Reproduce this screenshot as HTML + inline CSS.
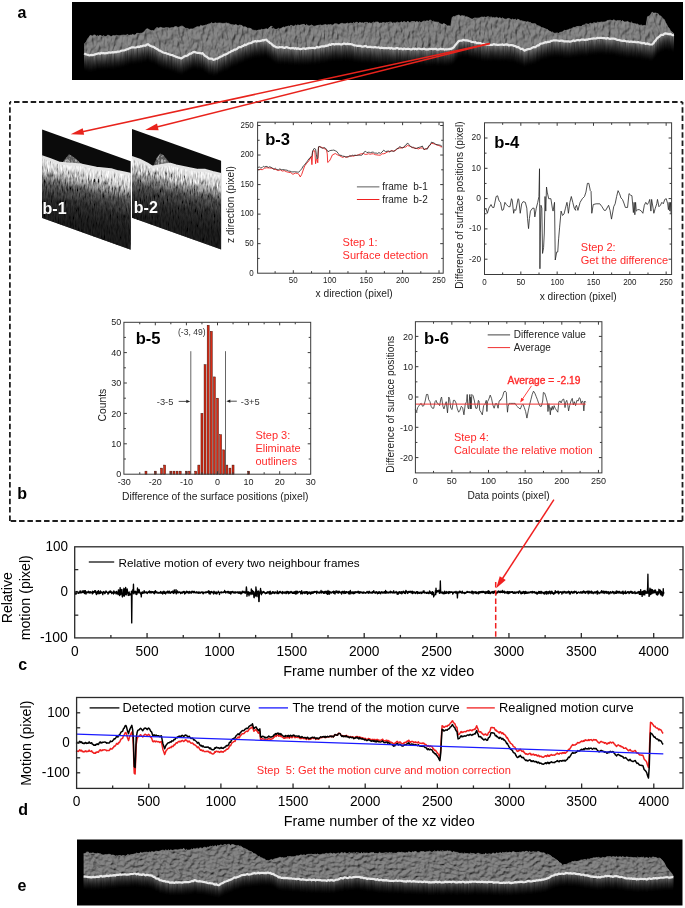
<!DOCTYPE html><html><head><meta charset="utf-8"><style>html,body{margin:0;padding:0;background:#fff;overflow:hidden}svg{display:block;will-change:transform}</style></head><body><svg width="685" height="908" viewBox="0 0 685 908" font-family="'Liberation Sans', sans-serif">
<defs>
<filter id="tex" x="0" y="0" width="100%" height="100%"><feTurbulence type="fractalNoise" baseFrequency="0.22 0.3" numOctaves="3" seed="3"/><feColorMatrix type="matrix" values="0 0 0 0 1  0 0 0 0 1  0 0 0 0 1  1.4 0 0 0 -0.35"/></filter>
<filter id="speck" x="0" y="0" width="100%" height="100%"><feTurbulence type="fractalNoise" baseFrequency="0.6 0.3" numOctaves="2" seed="5"/><feColorMatrix type="matrix" values="0 0 0 0 1  0 0 0 0 1  0 0 0 0 1  3.2 0 0 0 -1.35"/><feComposite operator="in" in2="SourceGraphic"/></filter>
<filter id="bl" x="-5%" y="-50%" width="110%" height="200%"><feGaussianBlur stdDeviation="0.6"/></filter>
<filter id="relief" x="0" y="0" width="100%" height="100%"><feTurbulence type="fractalNoise" baseFrequency="0.3 0.12" numOctaves="3" seed="3" result="n"/><feDiffuseLighting in="n" surfaceScale="3" diffuseConstant="0.9" lighting-color="#929292"><feDistantLight azimuth="235" elevation="55"/></feDiffuseLighting><feComposite operator="in" in2="SourceGraphic"/></filter>
<filter id="gnoise" x="0" y="0" width="100%" height="100%"><feTurbulence type="fractalNoise" baseFrequency="0.7 0.14" numOctaves="2" seed="8"/><feColorMatrix type="matrix" values="1.8 0 0 0 -0.4  1.8 0 0 0 -0.4  1.8 0 0 0 -0.4  0 0 0 0 1"/><feComposite operator="in" in2="SourceGraphic"/></filter>
<filter id="relief2" x="0" y="0" width="100%" height="100%"><feTurbulence type="fractalNoise" baseFrequency="0.22 0.3" numOctaves="3" seed="4" result="n"/><feDiffuseLighting in="n" surfaceScale="3" diffuseConstant="0.9" lighting-color="#8e8e8e"><feDistantLight azimuth="235" elevation="55"/></feDiffuseLighting><feComposite operator="in" in2="SourceGraphic"/></filter>
<filter id="streak" x="0" y="0" width="100%" height="100%"><feTurbulence type="fractalNoise" baseFrequency="0.7 0.06" numOctaves="2" seed="9"/><feColorMatrix type="matrix" values="0 0 0 0 0  0 0 0 0 0  0 0 0 0 0  2.5 0 0 0 -0.9"/><feComposite operator="in" in2="SourceGraphic"/></filter>
<linearGradient id="fade" x1="0" y1="0" x2="0" y2="1"><stop offset="0" stop-color="#6a6a6a"/><stop offset="0.5" stop-color="#2a2a2a"/><stop offset="1" stop-color="#000"/></linearGradient>
<linearGradient id="octg" x1="0" y1="0" x2="0" y2="1"><stop offset="0" stop-color="#a8a8a8"/><stop offset="0.2" stop-color="#7a7a7a"/><stop offset="0.45" stop-color="#3c3c3c"/><stop offset="0.75" stop-color="#222"/><stop offset="1" stop-color="#141414"/></linearGradient>
</defs>
<rect width="685" height="908" fill="#fff"/>
<rect x="72" y="2" width="611" height="78" fill="#000"/>
<clipPath id="cba"><polygon points="84.15,44 85.36,43.18 86.58,41.24 87.79,38.71 89.01,37.22 90.22,35.33 91.44,35.68 92.65,35.93 93.86,35.02 95.08,34.99 96.29,36.18 97.51,35.67 98.72,36.2 99.94,35.19 101.15,35.87 102.37,36.32 103.63,35.63 104.9,36.63 106.16,36.57 107.43,35.35 108.69,35.35 109.96,36.07 111.22,36.63 112.49,35.85 113.76,35.61 115.02,35.9 116.29,35.35 117.55,35.62 118.82,35.82 120.08,35.8 121.35,35.33 122.61,35.23 123.88,35.11 125.14,35.35 126.41,35.01 127.67,34.53 128.94,35.57 130.2,35.08 131.47,35.1 132.73,34.36 134.06,35.18 135.39,34.69 136.72,33.36 138.05,33.35 139.38,33.59 140.71,33.27 142.03,33.28 143.36,32.26 144.88,31.01 146.4,28.96 147.67,28.8 148.93,29.55 150.2,30.32 151.46,30.63 152.73,30.5 153.99,30.97 155.51,28.68 157.03,27.45 158.29,28.23 159.56,27.69 160.82,27.35 162.09,27.88 163.36,28.1 164.62,28.06 165.89,27.64 167.15,27.73 168.42,27.82 169.68,28.2 170.95,27.84 172.21,27.66 173.51,27.58 174.82,26.72 176.12,26.52 177.42,27.23 178.72,27.4 180.02,26.64 181.32,26.14 182.62,26.27 183.93,27.16 185.23,28.27 186.53,28.41 187.83,28.52 189.13,29.4 190.43,28.96 191.73,28.92 193.04,29.1 194.34,28.14 195.64,27.54 196.94,26.84 198.24,26.79 199.54,26.93 200.76,25.3 201.97,26.08 203.19,25.83 204.4,25.62 205.62,25.11 206.83,24.9 208.05,24.19 209.26,23.95 210.48,23.46 211.69,22.64 212.9,23.78 214.12,23.36 215.33,22.84 216.55,23.26 217.76,23.24 218.98,23.06 220.19,23.04 221.41,23.31 222.62,23.43 223.84,23.41 225.05,23.35 226.27,22.9 227.48,23.33 228.7,23.41 229.91,24.13 231.13,24.67 232.34,24.74 233.55,24.89 234.77,25.07 235.98,24.43 237.2,25.56 238.41,25.63 239.63,25.1 240.84,25.31 242.06,25.61 243.36,27.09 244.66,26.81 245.96,27.05 247.26,28.2 248.57,28.25 249.87,28.29 251.17,28.85 252.69,30.13 254.2,30.38 255.42,30.38 256.63,30.84 257.85,30.33 259.06,29.99 260.28,30.05 261.49,29.27 262.71,29.63 263.92,29.52 265.14,29.05 266.35,28.78 267.57,29.28 268.78,28.13 270,27.1 271.21,27.05 272.43,26.74 271.21,26.38 270,27.14 271.21,27.62 272.43,28.73 273.64,28.25 274.86,29.31 276.07,29.58 277.29,29.09 278.5,28.33 279.72,29.09 280.93,28.53 282.15,27.84 283.36,27.12 284.58,27.41 285.79,26.75 287.01,26.7 288.22,26.04 289.44,26.33 290.65,25.37 291.86,25.56 293.08,26.34 294.29,26.06 295.51,25.11 296.72,25.73 297.94,24.81 299.15,25.54 300.37,25.12 301.63,24.73 302.9,24.58 304.16,24.32 305.43,25.61 306.69,24.51 307.96,25.68 309.22,25.95 310.49,25.48 311.76,25 313.02,26.05 314.29,26.27 315.55,25.97 316.82,25.62 318.08,25.36 319.35,25.24 320.61,24.97 321.88,25.55 323.14,25.14 324.41,24.73 325.67,24.53 326.94,25.24 328.2,24.64 329.47,24.85 330.73,24.53 332,25.17 333.27,25.08 334.53,23.72 335.8,23.85 337.06,23.9 338.33,24.7 339.59,24.29 340.86,23.54 342.12,23.24 343.39,23.75 344.65,23.86 345.92,23.86 347.18,22.99 348.45,23.69 349.71,23.37 350.98,23.03 352.25,23.68 353.51,22.58 354.78,23.22 356.04,22.27 357.31,22.34 358.57,23.33 359.84,22.3 361.1,23.01 362.32,22.79 363.53,23.13 364.75,22.47 365.96,22.43 367.18,22.36 368.39,23.16 369.61,22.8 370.82,23.29 372.03,23.19 373.25,22.14 374.46,22.72 375.68,22.1 376.89,22 378.11,22.05 379.32,23.16 380.54,23.05 381.75,23.11 382.97,22.43 384.18,22.81 385.4,23.04 386.61,22.48 387.83,22.75 389.04,22.26 390.26,22.06 391.47,22.32 392.68,23.16 393.9,22.67 395.11,23.14 396.33,22.44 397.54,22.16 398.76,22.83 399.97,22.85 401.19,21.68 402.4,22.56 403.62,21.71 404.83,21.71 406.05,22.75 407.26,21.53 408.48,21.78 409.69,22.79 410.9,21.96 412.12,21.49 413.33,21.53 414.55,21.6 415.76,22.26 416.98,21.33 418.19,22.42 419.41,21.64 420.62,22.43 421.84,22.31 423.14,21.32 424.44,21.13 425.74,21.32 427.04,20.66 428.34,21.3 429.65,20.31 430.95,20.14 432.21,21.83 433.48,21.2 434.74,21.95 436.01,22.07 437.27,22.21 438.54,22.19 439.8,23.71 441.07,24.12 442.34,24.45 443.6,23.57 444.87,24.05 446.13,24.94 447.65,25.95 449.17,25.85 450.69,26.56 452.2,17.41 453.42,16.54 454.63,16.63 455.85,16 457.06,15.61 458.28,15.08 459.49,15.36 460.71,16.34 461.92,15.59 463.14,15.88 464.35,15.87 465.57,16.89 466.78,16.73 468,17.22 469.21,17.85 470.43,18.45 471.69,19.07 472.96,19.03 474.22,18.08 475.49,18.01 476.76,18.19 478.02,18.13 479.29,18.04 480.56,17.43 481.88,17.04 483.21,17.28 484.54,16.96 485.87,17.56 487.2,16.81 488.53,16.74 489.86,17.45 491.18,16.89 492.45,17.72 493.71,17.43 494.98,18.07 496.24,17.21 497.51,17.82 498.78,18.36 500.04,17.48 501.31,18.82 502.57,17.87 503.84,18.84 505.1,19.25 506.37,19.15 507.63,18.58 508.9,18.4 510.16,19.1 511.43,19.8 512.69,19.05 513.96,20.01 515.22,19.09 516.49,20.29 517.76,19.19 519.02,19.71 520.29,20.66 521.55,20.65 522.82,21.17 524.08,21.46 525.35,21.7 526.61,22 527.88,21.67 529.14,22.4 530.41,22.4 531.67,23.56 532.94,23.87 534.2,23.67 535.47,23.79 536.73,25.42 537.95,25.81 539.16,26.06 540.38,26.66 541.59,27.7 542.81,27.75 544.02,28.27 545.24,28.8 546.45,29.3 547.67,29.58 548.88,31.05 550.1,31.34 551.31,32.16 552.53,32.06 553.74,33.08 554.96,33.38 556.17,33.06 557.38,32.94 558.6,33.44 559.81,32.53 561.03,32.23 562.24,32.07 563.46,31.08 564.67,30.31 565.89,30.59 567.1,30.09 568.32,29.84 569.53,29.09 570.75,28.98 571.96,28.59 573.18,27.45 574.39,27.5 575.61,27.18 576.82,26.52 578.03,26.47 579.25,26.38 580.46,26.56 581.68,26.27 582.89,25.07 584.11,25.28 585.32,24.14 586.54,23.87 587.75,24.18 588.97,24.39 590.18,23.08 591.4,23.63 592.65,23.61 593.9,22.64 595.15,22.99 596.4,23.03 597.65,22.18 598.9,22.47 600.15,22.34 601.4,21.96 602.65,22.15 603.9,22.03 605.15,21.94 606.4,21.21 607.65,20.48 608.9,20.41 610.15,20.18 611.4,20.5 612.65,20.58 613.92,19.72 615.18,20.73 616.45,20.9 617.71,20.51 618.98,20.87 620.25,20.51 621.51,21.43 622.78,20.59 624.04,22.03 625.31,21.92 626.57,21.79 627.84,21.41 629.05,22.62 630.27,22.99 631.48,22.14 632.7,23.34 633.91,23.74 635.13,23.78 636.34,24.15 637.55,24.09 638.77,25.07 639.98,25.44 641.2,24.91 642.41,25.81 643.63,25.59 644.84,25.52 646.06,26.05 647.58,16.66 649.09,16.24 650.61,14.79 652.13,12.1 653.35,13.07 654.56,13.11 655.78,13 656.99,13.56 658.2,13.79 659.42,15.71 660.63,15.88 661.85,17.36 663.06,18.92 664.28,19.55 665.49,22.52 666.71,24.62 667.92,27.07 669.14,28.31 670.35,30.55 671.57,31.92 672.78,32.56 674,34.01 674,34.99 672.78,35.23 671.57,34.62 670.35,33.78 669.14,34.34 667.92,33.87 666.71,33.64 665.49,33.41 664.28,33.62 663.06,34.96 661.85,34.73 660.63,35.3 659.42,36.53 658.2,37.39 656.99,38.43 655.78,40.17 654.56,41.46 653.35,43.27 652.13,44.45 650.83,44.49 649.53,44.32 648.23,43.88 646.93,43.4 645.62,43.93 644.32,43 643.02,43.09 641.76,43.23 640.49,42.5 639.23,42.29 637.96,42.01 636.69,42.28 635.43,42.09 634.16,41.73 632.9,41.94 631.63,41.69 630.37,41.71 629.1,41.85 627.84,41.35 626.57,41.52 625.31,40.94 624.04,40.6 622.78,40.81 621.51,40.64 620.25,40.36 618.98,39.88 617.71,39.85 616.45,39.64 615.18,38.85 613.92,38.56 612.65,38.51 611.39,38.63 610.12,38.83 608.86,38.43 607.59,37.9 606.33,38.66 605.06,38.19 603.8,38.17 602.53,38.04 601.27,37.79 600,37.74 598.74,38.01 597.47,37.74 596.2,38.46 594.94,38.51 593.67,38.41 592.41,38.57 591.14,38.77 589.88,38.97 588.61,39.12 587.35,39.72 586.08,39.67 584.82,39.99 583.55,39.58 582.29,39.58 581.02,39.59 579.76,40.4 578.49,40.14 577.22,40.16 575.96,40.55 574.69,41.07 573.43,40.39 572.16,41.06 570.9,41.39 569.63,41.61 568.37,41.25 567.1,41.46 565.89,41.34 564.67,41.44 563.46,41.27 562.24,40.57 561.03,40.48 559.81,41.06 558.6,40.73 557.38,40.49 556.17,40.41 554.96,40.4 553.74,40.31 552.53,40.74 551.31,40.8 550.1,41.57 548.88,41.84 547.67,41.88 546.45,42.48 545.24,42.17 544.02,42.9 542.81,43.34 541.51,43.51 540.21,43.82 538.9,45.31 537.6,45.27 536.3,46.39 535,47.25 533.7,47.12 532.4,47.56 531.1,48.45 529.79,48.98 528.49,49.05 527.19,49.33 525.89,49.92 524.59,50.63 523.29,49.54 521.98,48.84 520.68,48.86 519.38,47.9 518.08,47.02 516.78,47.09 515.48,46.1 514.18,46 512.87,45.25 511.57,45.05 510.27,45.2 508.97,45.43 507.67,44.7 506.37,44.42 505.1,44.66 503.84,44.96 502.57,44.38 501.31,44.76 500.04,44.72 498.78,44.8 497.51,45.01 496.24,44.59 494.98,44.54 493.71,44.15 492.45,44.82 491.18,44.94 489.86,44.83 488.53,44.6 487.2,44.64 485.87,44.49 484.54,44.36 483.21,43.81 481.88,44.2 480.56,43.17 479.29,43.17 478.02,42.9 476.76,43.22 475.49,42.19 474.22,42.3 472.96,42.01 471.69,41.99 470.43,41.3 469.21,41.03 468,40.67 466.78,40.38 465.57,40.41 464.35,40.27 463.14,39.81 461.92,40.64 460.71,40.72 459.49,40.77 458.28,41.5 456.76,43.37 455.24,45.18 453.72,47.34 452.2,48.39 450.69,48.96 449.17,49.11 447.95,49.27 446.74,49.4 445.52,49.29 444.31,49.56 443.09,49.02 441.88,49.22 440.67,48.67 439.45,49.15 438.24,49.53 437.02,49.35 435.76,48.91 434.49,48.9 433.23,49.13 431.96,48.81 430.69,48.99 429.43,48.87 428.16,49.43 426.9,49.38 425.63,49.36 424.37,48.7 423.1,48.88 421.84,49.3 420.57,48.95 419.31,48.6 418.04,48.66 416.78,49.37 415.51,48.66 414.25,49.09 412.98,48.59 411.71,49.45 410.45,49.28 409.18,48.96 407.92,48.7 406.65,49.01 405.39,49.03 404.12,48.46 402.86,49.33 401.59,48.64 400.33,48.66 399.06,48.93 397.8,48.13 396.53,48.02 395.27,48.74 394,48.66 392.74,48.65 391.47,47.81 390.2,48.58 388.94,47.81 387.67,48.26 386.41,48.18 385.14,48.15 383.88,48.07 382.61,47.97 381.35,47.68 380.08,48.08 378.82,47.35 377.55,47.51 376.29,47.4 375.02,46.99 373.76,47.32 372.49,47.23 371.22,47.15 369.96,46.77 368.69,46.88 367.43,47.1 366.16,46.1 364.9,46.16 363.63,46.43 362.37,46.63 361.1,46.16 359.84,45.75 358.57,45.84 357.31,45.85 356.04,45.51 354.78,45.39 353.51,45.11 352.25,44.32 350.98,44.21 349.71,44.06 348.45,44.03 347.18,43.63 345.92,44.25 344.65,43.52 343.39,43.54 342.12,44.46 340.86,44.45 339.59,44.12 338.33,43.84 337.06,44.14 335.8,43.87 334.53,44.53 333.27,44.06 332,43.98 330.73,44.93 329.52,44.47 328.31,45.38 327.09,45.81 325.88,45.63 324.66,46.45 323.36,46.33 322.06,46.35 320.76,46.5 319.46,47.26 318.15,47.41 316.85,46.88 315.55,48.05 314.29,48.09 313.02,47.9 311.76,47.76 310.49,48.27 309.22,47.9 307.96,48.39 306.69,48.4 305.43,48.88 304.16,48.42 302.9,48.49 301.63,48.82 300.37,49.06 299.15,48.82 297.94,48.36 296.72,48.81 295.51,48.08 294.29,48.65 293.08,48 291.86,48.12 290.65,48.32 289.44,48.02 288.22,47.76 287.01,47.09 285.79,47.27 284.58,47.94 283.36,47.65 282.15,47.11 280.93,47.24 279.72,47.15 278.5,47.54 277.29,47.45 276.07,47.16 274.86,46.41 273.64,45.87 272.43,44.92 271.21,43.5 270,43.06 268.78,41.72 267.57,41.12 266.35,39.6 265.14,39.75 263.92,40.29 262.71,40.18 261.49,40.67 260.28,40.95 259.06,41.28 257.85,40.97 256.63,41.65 255.42,40.99 254.2,41.6 252.99,41.62 251.78,42.67 250.56,43.11 249.35,43.23 248.13,43.57 246.92,44.33 245.7,45.07 244.49,44.65 243.27,45.92 242.06,46.24 240.76,47.15 239.45,47.06 238.15,47.81 236.85,49 235.55,49.58 234.25,49.61 232.95,50.65 231.65,50.97 230.34,52 229.04,52.31 227.74,53.51 226.44,54.06 225.14,54.65 223.84,54.81 222.54,56.03 221.23,56.46 219.93,56.96 218.63,57.77 217.33,58.73 216.03,58.62 214.73,59.47 213.51,59.78 212.3,58.8 211.08,58.5 209.87,58.59 208.65,58.37 207.44,57.17 206.22,56.55 205.01,55.89 203.79,54.54 202.58,53.14 201.28,53.56 199.98,53.05 198.68,52.9 197.37,53 196.07,52.55 194.77,51.87 193.47,52.07 192.26,52.7 191.04,53.65 189.83,53.58 188.61,54.58 187.4,55.52 186.18,55.96 184.97,56.12 183.75,56.81 182.54,57.68 181.32,58.5 180.02,58.01 178.72,57.66 177.42,57.16 176.12,56.88 174.82,56.14 173.51,55.71 172.21,55.05 170.91,54.84 169.61,54.42 168.31,53.98 167.01,53.65 165.71,52.97 164.4,52.79 163.1,52.5 161.58,51.58 160.07,50.67 158.85,50.34 157.64,49.28 156.42,48.69 155.21,48.05 153.99,47.05 152.47,46.65 150.96,46.06 149.44,45.39 147.92,44.18 146.7,44.62 145.49,45.61 144.27,45.67 143.06,45.64 141.85,46.37 140.54,46.21 139.24,46.95 137.94,46.69 136.64,47.23 135.34,47.5 134.04,47.43 132.73,47.33 131.47,47.43 130.2,48.01 128.94,48.57 127.67,49.22 126.41,49.44 125.14,50.01 123.88,50.49 122.61,50.49 121.35,50.77 120.08,51.3 118.82,51.67 117.55,51.61 116.29,52.21 115.02,52.11 113.76,52.34 112.49,52.22 111.22,52.56 109.96,52.56 108.69,52.27 107.43,53.19 106.16,53.05 104.9,53.33 103.63,52.99 102.37,53.26 101.15,52.85 99.94,53.75 98.72,53.26 97.51,53.65 96.29,53.96 95.08,54.36 93.86,54.77 92.65,55.07 91.44,54.92 90.22,55.19 89.01,55.31 87.79,54.84 86.58,54.52 85.36,54.11 84.15,53.38"/></clipPath>
<polygon points="84.15,44 85.36,43.18 86.58,41.24 87.79,38.71 89.01,37.22 90.22,35.33 91.44,35.68 92.65,35.93 93.86,35.02 95.08,34.99 96.29,36.18 97.51,35.67 98.72,36.2 99.94,35.19 101.15,35.87 102.37,36.32 103.63,35.63 104.9,36.63 106.16,36.57 107.43,35.35 108.69,35.35 109.96,36.07 111.22,36.63 112.49,35.85 113.76,35.61 115.02,35.9 116.29,35.35 117.55,35.62 118.82,35.82 120.08,35.8 121.35,35.33 122.61,35.23 123.88,35.11 125.14,35.35 126.41,35.01 127.67,34.53 128.94,35.57 130.2,35.08 131.47,35.1 132.73,34.36 134.06,35.18 135.39,34.69 136.72,33.36 138.05,33.35 139.38,33.59 140.71,33.27 142.03,33.28 143.36,32.26 144.88,31.01 146.4,28.96 147.67,28.8 148.93,29.55 150.2,30.32 151.46,30.63 152.73,30.5 153.99,30.97 155.51,28.68 157.03,27.45 158.29,28.23 159.56,27.69 160.82,27.35 162.09,27.88 163.36,28.1 164.62,28.06 165.89,27.64 167.15,27.73 168.42,27.82 169.68,28.2 170.95,27.84 172.21,27.66 173.51,27.58 174.82,26.72 176.12,26.52 177.42,27.23 178.72,27.4 180.02,26.64 181.32,26.14 182.62,26.27 183.93,27.16 185.23,28.27 186.53,28.41 187.83,28.52 189.13,29.4 190.43,28.96 191.73,28.92 193.04,29.1 194.34,28.14 195.64,27.54 196.94,26.84 198.24,26.79 199.54,26.93 200.76,25.3 201.97,26.08 203.19,25.83 204.4,25.62 205.62,25.11 206.83,24.9 208.05,24.19 209.26,23.95 210.48,23.46 211.69,22.64 212.9,23.78 214.12,23.36 215.33,22.84 216.55,23.26 217.76,23.24 218.98,23.06 220.19,23.04 221.41,23.31 222.62,23.43 223.84,23.41 225.05,23.35 226.27,22.9 227.48,23.33 228.7,23.41 229.91,24.13 231.13,24.67 232.34,24.74 233.55,24.89 234.77,25.07 235.98,24.43 237.2,25.56 238.41,25.63 239.63,25.1 240.84,25.31 242.06,25.61 243.36,27.09 244.66,26.81 245.96,27.05 247.26,28.2 248.57,28.25 249.87,28.29 251.17,28.85 252.69,30.13 254.2,30.38 255.42,30.38 256.63,30.84 257.85,30.33 259.06,29.99 260.28,30.05 261.49,29.27 262.71,29.63 263.92,29.52 265.14,29.05 266.35,28.78 267.57,29.28 268.78,28.13 270,27.1 271.21,27.05 272.43,26.74 271.21,26.38 270,27.14 271.21,27.62 272.43,28.73 273.64,28.25 274.86,29.31 276.07,29.58 277.29,29.09 278.5,28.33 279.72,29.09 280.93,28.53 282.15,27.84 283.36,27.12 284.58,27.41 285.79,26.75 287.01,26.7 288.22,26.04 289.44,26.33 290.65,25.37 291.86,25.56 293.08,26.34 294.29,26.06 295.51,25.11 296.72,25.73 297.94,24.81 299.15,25.54 300.37,25.12 301.63,24.73 302.9,24.58 304.16,24.32 305.43,25.61 306.69,24.51 307.96,25.68 309.22,25.95 310.49,25.48 311.76,25 313.02,26.05 314.29,26.27 315.55,25.97 316.82,25.62 318.08,25.36 319.35,25.24 320.61,24.97 321.88,25.55 323.14,25.14 324.41,24.73 325.67,24.53 326.94,25.24 328.2,24.64 329.47,24.85 330.73,24.53 332,25.17 333.27,25.08 334.53,23.72 335.8,23.85 337.06,23.9 338.33,24.7 339.59,24.29 340.86,23.54 342.12,23.24 343.39,23.75 344.65,23.86 345.92,23.86 347.18,22.99 348.45,23.69 349.71,23.37 350.98,23.03 352.25,23.68 353.51,22.58 354.78,23.22 356.04,22.27 357.31,22.34 358.57,23.33 359.84,22.3 361.1,23.01 362.32,22.79 363.53,23.13 364.75,22.47 365.96,22.43 367.18,22.36 368.39,23.16 369.61,22.8 370.82,23.29 372.03,23.19 373.25,22.14 374.46,22.72 375.68,22.1 376.89,22 378.11,22.05 379.32,23.16 380.54,23.05 381.75,23.11 382.97,22.43 384.18,22.81 385.4,23.04 386.61,22.48 387.83,22.75 389.04,22.26 390.26,22.06 391.47,22.32 392.68,23.16 393.9,22.67 395.11,23.14 396.33,22.44 397.54,22.16 398.76,22.83 399.97,22.85 401.19,21.68 402.4,22.56 403.62,21.71 404.83,21.71 406.05,22.75 407.26,21.53 408.48,21.78 409.69,22.79 410.9,21.96 412.12,21.49 413.33,21.53 414.55,21.6 415.76,22.26 416.98,21.33 418.19,22.42 419.41,21.64 420.62,22.43 421.84,22.31 423.14,21.32 424.44,21.13 425.74,21.32 427.04,20.66 428.34,21.3 429.65,20.31 430.95,20.14 432.21,21.83 433.48,21.2 434.74,21.95 436.01,22.07 437.27,22.21 438.54,22.19 439.8,23.71 441.07,24.12 442.34,24.45 443.6,23.57 444.87,24.05 446.13,24.94 447.65,25.95 449.17,25.85 450.69,26.56 452.2,17.41 453.42,16.54 454.63,16.63 455.85,16 457.06,15.61 458.28,15.08 459.49,15.36 460.71,16.34 461.92,15.59 463.14,15.88 464.35,15.87 465.57,16.89 466.78,16.73 468,17.22 469.21,17.85 470.43,18.45 471.69,19.07 472.96,19.03 474.22,18.08 475.49,18.01 476.76,18.19 478.02,18.13 479.29,18.04 480.56,17.43 481.88,17.04 483.21,17.28 484.54,16.96 485.87,17.56 487.2,16.81 488.53,16.74 489.86,17.45 491.18,16.89 492.45,17.72 493.71,17.43 494.98,18.07 496.24,17.21 497.51,17.82 498.78,18.36 500.04,17.48 501.31,18.82 502.57,17.87 503.84,18.84 505.1,19.25 506.37,19.15 507.63,18.58 508.9,18.4 510.16,19.1 511.43,19.8 512.69,19.05 513.96,20.01 515.22,19.09 516.49,20.29 517.76,19.19 519.02,19.71 520.29,20.66 521.55,20.65 522.82,21.17 524.08,21.46 525.35,21.7 526.61,22 527.88,21.67 529.14,22.4 530.41,22.4 531.67,23.56 532.94,23.87 534.2,23.67 535.47,23.79 536.73,25.42 537.95,25.81 539.16,26.06 540.38,26.66 541.59,27.7 542.81,27.75 544.02,28.27 545.24,28.8 546.45,29.3 547.67,29.58 548.88,31.05 550.1,31.34 551.31,32.16 552.53,32.06 553.74,33.08 554.96,33.38 556.17,33.06 557.38,32.94 558.6,33.44 559.81,32.53 561.03,32.23 562.24,32.07 563.46,31.08 564.67,30.31 565.89,30.59 567.1,30.09 568.32,29.84 569.53,29.09 570.75,28.98 571.96,28.59 573.18,27.45 574.39,27.5 575.61,27.18 576.82,26.52 578.03,26.47 579.25,26.38 580.46,26.56 581.68,26.27 582.89,25.07 584.11,25.28 585.32,24.14 586.54,23.87 587.75,24.18 588.97,24.39 590.18,23.08 591.4,23.63 592.65,23.61 593.9,22.64 595.15,22.99 596.4,23.03 597.65,22.18 598.9,22.47 600.15,22.34 601.4,21.96 602.65,22.15 603.9,22.03 605.15,21.94 606.4,21.21 607.65,20.48 608.9,20.41 610.15,20.18 611.4,20.5 612.65,20.58 613.92,19.72 615.18,20.73 616.45,20.9 617.71,20.51 618.98,20.87 620.25,20.51 621.51,21.43 622.78,20.59 624.04,22.03 625.31,21.92 626.57,21.79 627.84,21.41 629.05,22.62 630.27,22.99 631.48,22.14 632.7,23.34 633.91,23.74 635.13,23.78 636.34,24.15 637.55,24.09 638.77,25.07 639.98,25.44 641.2,24.91 642.41,25.81 643.63,25.59 644.84,25.52 646.06,26.05 647.58,16.66 649.09,16.24 650.61,14.79 652.13,12.1 653.35,13.07 654.56,13.11 655.78,13 656.99,13.56 658.2,13.79 659.42,15.71 660.63,15.88 661.85,17.36 663.06,18.92 664.28,19.55 665.49,22.52 666.71,24.62 667.92,27.07 669.14,28.31 670.35,30.55 671.57,31.92 672.78,32.56 674,34.01 674,34.99 672.78,35.23 671.57,34.62 670.35,33.78 669.14,34.34 667.92,33.87 666.71,33.64 665.49,33.41 664.28,33.62 663.06,34.96 661.85,34.73 660.63,35.3 659.42,36.53 658.2,37.39 656.99,38.43 655.78,40.17 654.56,41.46 653.35,43.27 652.13,44.45 650.83,44.49 649.53,44.32 648.23,43.88 646.93,43.4 645.62,43.93 644.32,43 643.02,43.09 641.76,43.23 640.49,42.5 639.23,42.29 637.96,42.01 636.69,42.28 635.43,42.09 634.16,41.73 632.9,41.94 631.63,41.69 630.37,41.71 629.1,41.85 627.84,41.35 626.57,41.52 625.31,40.94 624.04,40.6 622.78,40.81 621.51,40.64 620.25,40.36 618.98,39.88 617.71,39.85 616.45,39.64 615.18,38.85 613.92,38.56 612.65,38.51 611.39,38.63 610.12,38.83 608.86,38.43 607.59,37.9 606.33,38.66 605.06,38.19 603.8,38.17 602.53,38.04 601.27,37.79 600,37.74 598.74,38.01 597.47,37.74 596.2,38.46 594.94,38.51 593.67,38.41 592.41,38.57 591.14,38.77 589.88,38.97 588.61,39.12 587.35,39.72 586.08,39.67 584.82,39.99 583.55,39.58 582.29,39.58 581.02,39.59 579.76,40.4 578.49,40.14 577.22,40.16 575.96,40.55 574.69,41.07 573.43,40.39 572.16,41.06 570.9,41.39 569.63,41.61 568.37,41.25 567.1,41.46 565.89,41.34 564.67,41.44 563.46,41.27 562.24,40.57 561.03,40.48 559.81,41.06 558.6,40.73 557.38,40.49 556.17,40.41 554.96,40.4 553.74,40.31 552.53,40.74 551.31,40.8 550.1,41.57 548.88,41.84 547.67,41.88 546.45,42.48 545.24,42.17 544.02,42.9 542.81,43.34 541.51,43.51 540.21,43.82 538.9,45.31 537.6,45.27 536.3,46.39 535,47.25 533.7,47.12 532.4,47.56 531.1,48.45 529.79,48.98 528.49,49.05 527.19,49.33 525.89,49.92 524.59,50.63 523.29,49.54 521.98,48.84 520.68,48.86 519.38,47.9 518.08,47.02 516.78,47.09 515.48,46.1 514.18,46 512.87,45.25 511.57,45.05 510.27,45.2 508.97,45.43 507.67,44.7 506.37,44.42 505.1,44.66 503.84,44.96 502.57,44.38 501.31,44.76 500.04,44.72 498.78,44.8 497.51,45.01 496.24,44.59 494.98,44.54 493.71,44.15 492.45,44.82 491.18,44.94 489.86,44.83 488.53,44.6 487.2,44.64 485.87,44.49 484.54,44.36 483.21,43.81 481.88,44.2 480.56,43.17 479.29,43.17 478.02,42.9 476.76,43.22 475.49,42.19 474.22,42.3 472.96,42.01 471.69,41.99 470.43,41.3 469.21,41.03 468,40.67 466.78,40.38 465.57,40.41 464.35,40.27 463.14,39.81 461.92,40.64 460.71,40.72 459.49,40.77 458.28,41.5 456.76,43.37 455.24,45.18 453.72,47.34 452.2,48.39 450.69,48.96 449.17,49.11 447.95,49.27 446.74,49.4 445.52,49.29 444.31,49.56 443.09,49.02 441.88,49.22 440.67,48.67 439.45,49.15 438.24,49.53 437.02,49.35 435.76,48.91 434.49,48.9 433.23,49.13 431.96,48.81 430.69,48.99 429.43,48.87 428.16,49.43 426.9,49.38 425.63,49.36 424.37,48.7 423.1,48.88 421.84,49.3 420.57,48.95 419.31,48.6 418.04,48.66 416.78,49.37 415.51,48.66 414.25,49.09 412.98,48.59 411.71,49.45 410.45,49.28 409.18,48.96 407.92,48.7 406.65,49.01 405.39,49.03 404.12,48.46 402.86,49.33 401.59,48.64 400.33,48.66 399.06,48.93 397.8,48.13 396.53,48.02 395.27,48.74 394,48.66 392.74,48.65 391.47,47.81 390.2,48.58 388.94,47.81 387.67,48.26 386.41,48.18 385.14,48.15 383.88,48.07 382.61,47.97 381.35,47.68 380.08,48.08 378.82,47.35 377.55,47.51 376.29,47.4 375.02,46.99 373.76,47.32 372.49,47.23 371.22,47.15 369.96,46.77 368.69,46.88 367.43,47.1 366.16,46.1 364.9,46.16 363.63,46.43 362.37,46.63 361.1,46.16 359.84,45.75 358.57,45.84 357.31,45.85 356.04,45.51 354.78,45.39 353.51,45.11 352.25,44.32 350.98,44.21 349.71,44.06 348.45,44.03 347.18,43.63 345.92,44.25 344.65,43.52 343.39,43.54 342.12,44.46 340.86,44.45 339.59,44.12 338.33,43.84 337.06,44.14 335.8,43.87 334.53,44.53 333.27,44.06 332,43.98 330.73,44.93 329.52,44.47 328.31,45.38 327.09,45.81 325.88,45.63 324.66,46.45 323.36,46.33 322.06,46.35 320.76,46.5 319.46,47.26 318.15,47.41 316.85,46.88 315.55,48.05 314.29,48.09 313.02,47.9 311.76,47.76 310.49,48.27 309.22,47.9 307.96,48.39 306.69,48.4 305.43,48.88 304.16,48.42 302.9,48.49 301.63,48.82 300.37,49.06 299.15,48.82 297.94,48.36 296.72,48.81 295.51,48.08 294.29,48.65 293.08,48 291.86,48.12 290.65,48.32 289.44,48.02 288.22,47.76 287.01,47.09 285.79,47.27 284.58,47.94 283.36,47.65 282.15,47.11 280.93,47.24 279.72,47.15 278.5,47.54 277.29,47.45 276.07,47.16 274.86,46.41 273.64,45.87 272.43,44.92 271.21,43.5 270,43.06 268.78,41.72 267.57,41.12 266.35,39.6 265.14,39.75 263.92,40.29 262.71,40.18 261.49,40.67 260.28,40.95 259.06,41.28 257.85,40.97 256.63,41.65 255.42,40.99 254.2,41.6 252.99,41.62 251.78,42.67 250.56,43.11 249.35,43.23 248.13,43.57 246.92,44.33 245.7,45.07 244.49,44.65 243.27,45.92 242.06,46.24 240.76,47.15 239.45,47.06 238.15,47.81 236.85,49 235.55,49.58 234.25,49.61 232.95,50.65 231.65,50.97 230.34,52 229.04,52.31 227.74,53.51 226.44,54.06 225.14,54.65 223.84,54.81 222.54,56.03 221.23,56.46 219.93,56.96 218.63,57.77 217.33,58.73 216.03,58.62 214.73,59.47 213.51,59.78 212.3,58.8 211.08,58.5 209.87,58.59 208.65,58.37 207.44,57.17 206.22,56.55 205.01,55.89 203.79,54.54 202.58,53.14 201.28,53.56 199.98,53.05 198.68,52.9 197.37,53 196.07,52.55 194.77,51.87 193.47,52.07 192.26,52.7 191.04,53.65 189.83,53.58 188.61,54.58 187.4,55.52 186.18,55.96 184.97,56.12 183.75,56.81 182.54,57.68 181.32,58.5 180.02,58.01 178.72,57.66 177.42,57.16 176.12,56.88 174.82,56.14 173.51,55.71 172.21,55.05 170.91,54.84 169.61,54.42 168.31,53.98 167.01,53.65 165.71,52.97 164.4,52.79 163.1,52.5 161.58,51.58 160.07,50.67 158.85,50.34 157.64,49.28 156.42,48.69 155.21,48.05 153.99,47.05 152.47,46.65 150.96,46.06 149.44,45.39 147.92,44.18 146.7,44.62 145.49,45.61 144.27,45.67 143.06,45.64 141.85,46.37 140.54,46.21 139.24,46.95 137.94,46.69 136.64,47.23 135.34,47.5 134.04,47.43 132.73,47.33 131.47,47.43 130.2,48.01 128.94,48.57 127.67,49.22 126.41,49.44 125.14,50.01 123.88,50.49 122.61,50.49 121.35,50.77 120.08,51.3 118.82,51.67 117.55,51.61 116.29,52.21 115.02,52.11 113.76,52.34 112.49,52.22 111.22,52.56 109.96,52.56 108.69,52.27 107.43,53.19 106.16,53.05 104.9,53.33 103.63,52.99 102.37,53.26 101.15,52.85 99.94,53.75 98.72,53.26 97.51,53.65 96.29,53.96 95.08,54.36 93.86,54.77 92.65,55.07 91.44,54.92 90.22,55.19 89.01,55.31 87.79,54.84 86.58,54.52 85.36,54.11 84.15,53.38" fill="#fff" filter="url(#relief)"/>
<defs><polyline id="bpa" points="84.15,53.38 85.36,54.11 86.58,54.52 87.79,54.84 89.01,55.31 90.22,55.19 91.44,54.92 92.65,55.07 93.86,54.77 95.08,54.36 96.29,53.96 97.51,53.65 98.72,53.26 99.94,53.75 101.15,52.85 102.37,53.26 103.63,52.99 104.9,53.33 106.16,53.05 107.43,53.19 108.69,52.27 109.96,52.56 111.22,52.56 112.49,52.22 113.76,52.34 115.02,52.11 116.29,52.21 117.55,51.61 118.82,51.67 120.08,51.3 121.35,50.77 122.61,50.49 123.88,50.49 125.14,50.01 126.41,49.44 127.67,49.22 128.94,48.57 130.2,48.01 131.47,47.43 132.73,47.33 134.04,47.43 135.34,47.5 136.64,47.23 137.94,46.69 139.24,46.95 140.54,46.21 141.85,46.37 143.06,45.64 144.27,45.67 145.49,45.61 146.7,44.62 147.92,44.18 149.44,45.39 150.96,46.06 152.47,46.65 153.99,47.05 155.21,48.05 156.42,48.69 157.64,49.28 158.85,50.34 160.07,50.67 161.58,51.58 163.1,52.5 164.4,52.79 165.71,52.97 167.01,53.65 168.31,53.98 169.61,54.42 170.91,54.84 172.21,55.05 173.51,55.71 174.82,56.14 176.12,56.88 177.42,57.16 178.72,57.66 180.02,58.01 181.32,58.5 182.54,57.68 183.75,56.81 184.97,56.12 186.18,55.96 187.4,55.52 188.61,54.58 189.83,53.58 191.04,53.65 192.26,52.7 193.47,52.07 194.77,51.87 196.07,52.55 197.37,53 198.68,52.9 199.98,53.05 201.28,53.56 202.58,53.14 203.79,54.54 205.01,55.89 206.22,56.55 207.44,57.17 208.65,58.37 209.87,58.59 211.08,58.5 212.3,58.8 213.51,59.78 214.73,59.47 216.03,58.62 217.33,58.73 218.63,57.77 219.93,56.96 221.23,56.46 222.54,56.03 223.84,54.81 225.14,54.65 226.44,54.06 227.74,53.51 229.04,52.31 230.34,52 231.65,50.97 232.95,50.65 234.25,49.61 235.55,49.58 236.85,49 238.15,47.81 239.45,47.06 240.76,47.15 242.06,46.24 243.27,45.92 244.49,44.65 245.7,45.07 246.92,44.33 248.13,43.57 249.35,43.23 250.56,43.11 251.78,42.67 252.99,41.62 254.2,41.6 255.42,40.99 256.63,41.65 257.85,40.97 259.06,41.28 260.28,40.95 261.49,40.67 262.71,40.18 263.92,40.29 265.14,39.75 266.35,39.6 267.57,41.12 268.78,41.72 270,43.06 271.21,43.5 272.43,44.92 273.64,45.87 274.86,46.41 276.07,47.16 277.29,47.45 278.5,47.54 279.72,47.15 280.93,47.24 282.15,47.11 283.36,47.65 284.58,47.94 285.79,47.27 287.01,47.09 288.22,47.76 289.44,48.02 290.65,48.32 291.86,48.12 293.08,48 294.29,48.65 295.51,48.08 296.72,48.81 297.94,48.36 299.15,48.82 300.37,49.06 301.63,48.82 302.9,48.49 304.16,48.42 305.43,48.88 306.69,48.4 307.96,48.39 309.22,47.9 310.49,48.27 311.76,47.76 313.02,47.9 314.29,48.09 315.55,48.05 316.85,46.88 318.15,47.41 319.46,47.26 320.76,46.5 322.06,46.35 323.36,46.33 324.66,46.45 325.88,45.63 327.09,45.81 328.31,45.38 329.52,44.47 330.73,44.93 332,43.98 333.27,44.06 334.53,44.53 335.8,43.87 337.06,44.14 338.33,43.84 339.59,44.12 340.86,44.45 342.12,44.46 343.39,43.54 344.65,43.52 345.92,44.25 347.18,43.63 348.45,44.03 349.71,44.06 350.98,44.21 352.25,44.32 353.51,45.11 354.78,45.39 356.04,45.51 357.31,45.85 358.57,45.84 359.84,45.75 361.1,46.16 362.37,46.63 363.63,46.43 364.9,46.16 366.16,46.1 367.43,47.1 368.69,46.88 369.96,46.77 371.22,47.15 372.49,47.23 373.76,47.32 375.02,46.99 376.29,47.4 377.55,47.51 378.82,47.35 380.08,48.08 381.35,47.68 382.61,47.97 383.88,48.07 385.14,48.15 386.41,48.18 387.67,48.26 388.94,47.81 390.2,48.58 391.47,47.81 392.74,48.65 394,48.66 395.27,48.74 396.53,48.02 397.8,48.13 399.06,48.93 400.33,48.66 401.59,48.64 402.86,49.33 404.12,48.46 405.39,49.03 406.65,49.01 407.92,48.7 409.18,48.96 410.45,49.28 411.71,49.45 412.98,48.59 414.25,49.09 415.51,48.66 416.78,49.37 418.04,48.66 419.31,48.6 420.57,48.95 421.84,49.3 423.1,48.88 424.37,48.7 425.63,49.36 426.9,49.38 428.16,49.43 429.43,48.87 430.69,48.99 431.96,48.81 433.23,49.13 434.49,48.9 435.76,48.91 437.02,49.35 438.24,49.53 439.45,49.15 440.67,48.67 441.88,49.22 443.09,49.02 444.31,49.56 445.52,49.29 446.74,49.4 447.95,49.27 449.17,49.11 450.69,48.96 452.2,48.39 453.72,47.34 455.24,45.18 456.76,43.37 458.28,41.5 459.49,40.77 460.71,40.72 461.92,40.64 463.14,39.81 464.35,40.27 465.57,40.41 466.78,40.38 468,40.67 469.21,41.03 470.43,41.3 471.69,41.99 472.96,42.01 474.22,42.3 475.49,42.19 476.76,43.22 478.02,42.9 479.29,43.17 480.56,43.17 481.88,44.2 483.21,43.81 484.54,44.36 485.87,44.49 487.2,44.64 488.53,44.6 489.86,44.83 491.18,44.94 492.45,44.82 493.71,44.15 494.98,44.54 496.24,44.59 497.51,45.01 498.78,44.8 500.04,44.72 501.31,44.76 502.57,44.38 503.84,44.96 505.1,44.66 506.37,44.42 507.67,44.7 508.97,45.43 510.27,45.2 511.57,45.05 512.87,45.25 514.18,46 515.48,46.1 516.78,47.09 518.08,47.02 519.38,47.9 520.68,48.86 521.98,48.84 523.29,49.54 524.59,50.63 525.89,49.92 527.19,49.33 528.49,49.05 529.79,48.98 531.1,48.45 532.4,47.56 533.7,47.12 535,47.25 536.3,46.39 537.6,45.27 538.9,45.31 540.21,43.82 541.51,43.51 542.81,43.34 544.02,42.9 545.24,42.17 546.45,42.48 547.67,41.88 548.88,41.84 550.1,41.57 551.31,40.8 552.53,40.74 553.74,40.31 554.96,40.4 556.17,40.41 557.38,40.49 558.6,40.73 559.81,41.06 561.03,40.48 562.24,40.57 563.46,41.27 564.67,41.44 565.89,41.34 567.1,41.46 568.37,41.25 569.63,41.61 570.9,41.39 572.16,41.06 573.43,40.39 574.69,41.07 575.96,40.55 577.22,40.16 578.49,40.14 579.76,40.4 581.02,39.59 582.29,39.58 583.55,39.58 584.82,39.99 586.08,39.67 587.35,39.72 588.61,39.12 589.88,38.97 591.14,38.77 592.41,38.57 593.67,38.41 594.94,38.51 596.2,38.46 597.47,37.74 598.74,38.01 600,37.74 601.27,37.79 602.53,38.04 603.8,38.17 605.06,38.19 606.33,38.66 607.59,37.9 608.86,38.43 610.12,38.83 611.39,38.63 612.65,38.51 613.92,38.56 615.18,38.85 616.45,39.64 617.71,39.85 618.98,39.88 620.25,40.36 621.51,40.64 622.78,40.81 624.04,40.6 625.31,40.94 626.57,41.52 627.84,41.35 629.1,41.85 630.37,41.71 631.63,41.69 632.9,41.94 634.16,41.73 635.43,42.09 636.69,42.28 637.96,42.01 639.23,42.29 640.49,42.5 641.76,43.23 643.02,43.09 644.32,43 645.62,43.93 646.93,43.4 648.23,43.88 649.53,44.32 650.83,44.49 652.13,44.45 653.35,43.27 654.56,41.46 655.78,40.17 656.99,38.43 658.2,37.39 659.42,36.53 660.63,35.3 661.85,34.73 663.06,34.96 664.28,33.62 665.49,33.41 666.71,33.64 667.92,33.87 669.14,34.34 670.35,33.78 671.57,34.62 672.78,35.23 674,34.99" fill="none" stroke-width="1.3"/></defs>
<g clip-path="url(#cla)">
<use href="#bpa" transform="translate(0,17)" stroke="rgb(1,1,1)"/>
<use href="#bpa" transform="translate(0,16)" stroke="rgb(4,4,4)"/>
<use href="#bpa" transform="translate(0,15)" stroke="rgb(7,7,7)"/>
<use href="#bpa" transform="translate(0,14)" stroke="rgb(12,12,12)"/>
<use href="#bpa" transform="translate(0,13)" stroke="rgb(18,18,18)"/>
<use href="#bpa" transform="translate(0,12)" stroke="rgb(24,24,24)"/>
<use href="#bpa" transform="translate(0,11)" stroke="rgb(30,30,30)"/>
<use href="#bpa" transform="translate(0,10)" stroke="rgb(38,38,38)"/>
<use href="#bpa" transform="translate(0,9)" stroke="rgb(46,46,46)"/>
<use href="#bpa" transform="translate(0,8)" stroke="rgb(54,54,54)"/>
<use href="#bpa" transform="translate(0,7)" stroke="rgb(63,63,63)"/>
<use href="#bpa" transform="translate(0,6)" stroke="rgb(73,73,73)"/>
<use href="#bpa" transform="translate(0,5)" stroke="rgb(83,83,83)"/>
<use href="#bpa" transform="translate(0,4)" stroke="rgb(93,93,93)"/>
<use href="#bpa" transform="translate(0,3)" stroke="rgb(104,104,104)"/>
<use href="#bpa" transform="translate(0,2)" stroke="rgb(115,115,115)"/>
<use href="#bpa" transform="translate(0,1)" stroke="rgb(127,127,127)"/>
</g>
<clipPath id="cla"><rect x="72" y="2" width="611" height="78"/></clipPath>
<polygon points="84.15,53.38 85.36,54.11 86.58,54.52 87.79,54.84 89.01,55.31 90.22,55.19 91.44,54.92 92.65,55.07 93.86,54.77 95.08,54.36 96.29,53.96 97.51,53.65 98.72,53.26 99.94,53.75 101.15,52.85 102.37,53.26 103.63,52.99 104.9,53.33 106.16,53.05 107.43,53.19 108.69,52.27 109.96,52.56 111.22,52.56 112.49,52.22 113.76,52.34 115.02,52.11 116.29,52.21 117.55,51.61 118.82,51.67 120.08,51.3 121.35,50.77 122.61,50.49 123.88,50.49 125.14,50.01 126.41,49.44 127.67,49.22 128.94,48.57 130.2,48.01 131.47,47.43 132.73,47.33 134.04,47.43 135.34,47.5 136.64,47.23 137.94,46.69 139.24,46.95 140.54,46.21 141.85,46.37 143.06,45.64 144.27,45.67 145.49,45.61 146.7,44.62 147.92,44.18 149.44,45.39 150.96,46.06 152.47,46.65 153.99,47.05 155.21,48.05 156.42,48.69 157.64,49.28 158.85,50.34 160.07,50.67 161.58,51.58 163.1,52.5 164.4,52.79 165.71,52.97 167.01,53.65 168.31,53.98 169.61,54.42 170.91,54.84 172.21,55.05 173.51,55.71 174.82,56.14 176.12,56.88 177.42,57.16 178.72,57.66 180.02,58.01 181.32,58.5 182.54,57.68 183.75,56.81 184.97,56.12 186.18,55.96 187.4,55.52 188.61,54.58 189.83,53.58 191.04,53.65 192.26,52.7 193.47,52.07 194.77,51.87 196.07,52.55 197.37,53 198.68,52.9 199.98,53.05 201.28,53.56 202.58,53.14 203.79,54.54 205.01,55.89 206.22,56.55 207.44,57.17 208.65,58.37 209.87,58.59 211.08,58.5 212.3,58.8 213.51,59.78 214.73,59.47 216.03,58.62 217.33,58.73 218.63,57.77 219.93,56.96 221.23,56.46 222.54,56.03 223.84,54.81 225.14,54.65 226.44,54.06 227.74,53.51 229.04,52.31 230.34,52 231.65,50.97 232.95,50.65 234.25,49.61 235.55,49.58 236.85,49 238.15,47.81 239.45,47.06 240.76,47.15 242.06,46.24 243.27,45.92 244.49,44.65 245.7,45.07 246.92,44.33 248.13,43.57 249.35,43.23 250.56,43.11 251.78,42.67 252.99,41.62 254.2,41.6 255.42,40.99 256.63,41.65 257.85,40.97 259.06,41.28 260.28,40.95 261.49,40.67 262.71,40.18 263.92,40.29 265.14,39.75 266.35,39.6 267.57,41.12 268.78,41.72 270,43.06 271.21,43.5 272.43,44.92 273.64,45.87 274.86,46.41 276.07,47.16 277.29,47.45 278.5,47.54 279.72,47.15 280.93,47.24 282.15,47.11 283.36,47.65 284.58,47.94 285.79,47.27 287.01,47.09 288.22,47.76 289.44,48.02 290.65,48.32 291.86,48.12 293.08,48 294.29,48.65 295.51,48.08 296.72,48.81 297.94,48.36 299.15,48.82 300.37,49.06 301.63,48.82 302.9,48.49 304.16,48.42 305.43,48.88 306.69,48.4 307.96,48.39 309.22,47.9 310.49,48.27 311.76,47.76 313.02,47.9 314.29,48.09 315.55,48.05 316.85,46.88 318.15,47.41 319.46,47.26 320.76,46.5 322.06,46.35 323.36,46.33 324.66,46.45 325.88,45.63 327.09,45.81 328.31,45.38 329.52,44.47 330.73,44.93 332,43.98 333.27,44.06 334.53,44.53 335.8,43.87 337.06,44.14 338.33,43.84 339.59,44.12 340.86,44.45 342.12,44.46 343.39,43.54 344.65,43.52 345.92,44.25 347.18,43.63 348.45,44.03 349.71,44.06 350.98,44.21 352.25,44.32 353.51,45.11 354.78,45.39 356.04,45.51 357.31,45.85 358.57,45.84 359.84,45.75 361.1,46.16 362.37,46.63 363.63,46.43 364.9,46.16 366.16,46.1 367.43,47.1 368.69,46.88 369.96,46.77 371.22,47.15 372.49,47.23 373.76,47.32 375.02,46.99 376.29,47.4 377.55,47.51 378.82,47.35 380.08,48.08 381.35,47.68 382.61,47.97 383.88,48.07 385.14,48.15 386.41,48.18 387.67,48.26 388.94,47.81 390.2,48.58 391.47,47.81 392.74,48.65 394,48.66 395.27,48.74 396.53,48.02 397.8,48.13 399.06,48.93 400.33,48.66 401.59,48.64 402.86,49.33 404.12,48.46 405.39,49.03 406.65,49.01 407.92,48.7 409.18,48.96 410.45,49.28 411.71,49.45 412.98,48.59 414.25,49.09 415.51,48.66 416.78,49.37 418.04,48.66 419.31,48.6 420.57,48.95 421.84,49.3 423.1,48.88 424.37,48.7 425.63,49.36 426.9,49.38 428.16,49.43 429.43,48.87 430.69,48.99 431.96,48.81 433.23,49.13 434.49,48.9 435.76,48.91 437.02,49.35 438.24,49.53 439.45,49.15 440.67,48.67 441.88,49.22 443.09,49.02 444.31,49.56 445.52,49.29 446.74,49.4 447.95,49.27 449.17,49.11 450.69,48.96 452.2,48.39 453.72,47.34 455.24,45.18 456.76,43.37 458.28,41.5 459.49,40.77 460.71,40.72 461.92,40.64 463.14,39.81 464.35,40.27 465.57,40.41 466.78,40.38 468,40.67 469.21,41.03 470.43,41.3 471.69,41.99 472.96,42.01 474.22,42.3 475.49,42.19 476.76,43.22 478.02,42.9 479.29,43.17 480.56,43.17 481.88,44.2 483.21,43.81 484.54,44.36 485.87,44.49 487.2,44.64 488.53,44.6 489.86,44.83 491.18,44.94 492.45,44.82 493.71,44.15 494.98,44.54 496.24,44.59 497.51,45.01 498.78,44.8 500.04,44.72 501.31,44.76 502.57,44.38 503.84,44.96 505.1,44.66 506.37,44.42 507.67,44.7 508.97,45.43 510.27,45.2 511.57,45.05 512.87,45.25 514.18,46 515.48,46.1 516.78,47.09 518.08,47.02 519.38,47.9 520.68,48.86 521.98,48.84 523.29,49.54 524.59,50.63 525.89,49.92 527.19,49.33 528.49,49.05 529.79,48.98 531.1,48.45 532.4,47.56 533.7,47.12 535,47.25 536.3,46.39 537.6,45.27 538.9,45.31 540.21,43.82 541.51,43.51 542.81,43.34 544.02,42.9 545.24,42.17 546.45,42.48 547.67,41.88 548.88,41.84 550.1,41.57 551.31,40.8 552.53,40.74 553.74,40.31 554.96,40.4 556.17,40.41 557.38,40.49 558.6,40.73 559.81,41.06 561.03,40.48 562.24,40.57 563.46,41.27 564.67,41.44 565.89,41.34 567.1,41.46 568.37,41.25 569.63,41.61 570.9,41.39 572.16,41.06 573.43,40.39 574.69,41.07 575.96,40.55 577.22,40.16 578.49,40.14 579.76,40.4 581.02,39.59 582.29,39.58 583.55,39.58 584.82,39.99 586.08,39.67 587.35,39.72 588.61,39.12 589.88,38.97 591.14,38.77 592.41,38.57 593.67,38.41 594.94,38.51 596.2,38.46 597.47,37.74 598.74,38.01 600,37.74 601.27,37.79 602.53,38.04 603.8,38.17 605.06,38.19 606.33,38.66 607.59,37.9 608.86,38.43 610.12,38.83 611.39,38.63 612.65,38.51 613.92,38.56 615.18,38.85 616.45,39.64 617.71,39.85 618.98,39.88 620.25,40.36 621.51,40.64 622.78,40.81 624.04,40.6 625.31,40.94 626.57,41.52 627.84,41.35 629.1,41.85 630.37,41.71 631.63,41.69 632.9,41.94 634.16,41.73 635.43,42.09 636.69,42.28 637.96,42.01 639.23,42.29 640.49,42.5 641.76,43.23 643.02,43.09 644.32,43 645.62,43.93 646.93,43.4 648.23,43.88 649.53,44.32 650.83,44.49 652.13,44.45 653.35,43.27 654.56,41.46 655.78,40.17 656.99,38.43 658.2,37.39 659.42,36.53 660.63,35.3 661.85,34.73 663.06,34.96 664.28,33.62 665.49,33.41 666.71,33.64 667.92,33.87 669.14,34.34 670.35,33.78 671.57,34.62 672.78,35.23 674,34.99 674,51.99 672.78,52.23 671.57,51.62 670.35,50.78 669.14,51.34 667.92,50.87 666.71,50.64 665.49,50.41 664.28,50.62 663.06,51.96 661.85,51.73 660.63,52.3 659.42,53.53 658.2,54.39 656.99,55.43 655.78,57.17 654.56,58.46 653.35,60.27 652.13,61.45 650.83,61.49 649.53,61.32 648.23,60.88 646.93,60.4 645.62,60.93 644.32,60 643.02,60.09 641.76,60.23 640.49,59.5 639.23,59.29 637.96,59.01 636.69,59.28 635.43,59.09 634.16,58.73 632.9,58.94 631.63,58.69 630.37,58.71 629.1,58.85 627.84,58.35 626.57,58.52 625.31,57.94 624.04,57.6 622.78,57.81 621.51,57.64 620.25,57.36 618.98,56.88 617.71,56.85 616.45,56.64 615.18,55.85 613.92,55.56 612.65,55.51 611.39,55.63 610.12,55.83 608.86,55.43 607.59,54.9 606.33,55.66 605.06,55.19 603.8,55.17 602.53,55.04 601.27,54.79 600,54.74 598.74,55.01 597.47,54.74 596.2,55.46 594.94,55.51 593.67,55.41 592.41,55.57 591.14,55.77 589.88,55.97 588.61,56.12 587.35,56.72 586.08,56.67 584.82,56.99 583.55,56.58 582.29,56.58 581.02,56.59 579.76,57.4 578.49,57.14 577.22,57.16 575.96,57.55 574.69,58.07 573.43,57.39 572.16,58.06 570.9,58.39 569.63,58.61 568.37,58.25 567.1,58.46 565.89,58.34 564.67,58.44 563.46,58.27 562.24,57.57 561.03,57.48 559.81,58.06 558.6,57.73 557.38,57.49 556.17,57.41 554.96,57.4 553.74,57.31 552.53,57.74 551.31,57.8 550.1,58.57 548.88,58.84 547.67,58.88 546.45,59.48 545.24,59.17 544.02,59.9 542.81,60.34 541.51,60.51 540.21,60.82 538.9,62.31 537.6,62.27 536.3,63.39 535,64.25 533.7,64.12 532.4,64.56 531.1,65.45 529.79,65.98 528.49,66.05 527.19,66.33 525.89,66.92 524.59,67.63 523.29,66.54 521.98,65.84 520.68,65.86 519.38,64.9 518.08,64.02 516.78,64.09 515.48,63.1 514.18,63 512.87,62.25 511.57,62.05 510.27,62.2 508.97,62.43 507.67,61.7 506.37,61.42 505.1,61.66 503.84,61.96 502.57,61.38 501.31,61.76 500.04,61.72 498.78,61.8 497.51,62.01 496.24,61.59 494.98,61.54 493.71,61.15 492.45,61.82 491.18,61.94 489.86,61.83 488.53,61.6 487.2,61.64 485.87,61.49 484.54,61.36 483.21,60.81 481.88,61.2 480.56,60.17 479.29,60.17 478.02,59.9 476.76,60.22 475.49,59.19 474.22,59.3 472.96,59.01 471.69,58.99 470.43,58.3 469.21,58.03 468,57.67 466.78,57.38 465.57,57.41 464.35,57.27 463.14,56.81 461.92,57.64 460.71,57.72 459.49,57.77 458.28,58.5 456.76,60.37 455.24,62.18 453.72,64.34 452.2,65.39 450.69,65.96 449.17,66.11 447.95,66.27 446.74,66.4 445.52,66.29 444.31,66.56 443.09,66.02 441.88,66.22 440.67,65.67 439.45,66.15 438.24,66.53 437.02,66.35 435.76,65.91 434.49,65.9 433.23,66.13 431.96,65.81 430.69,65.99 429.43,65.87 428.16,66.43 426.9,66.38 425.63,66.36 424.37,65.7 423.1,65.88 421.84,66.3 420.57,65.95 419.31,65.6 418.04,65.66 416.78,66.37 415.51,65.66 414.25,66.09 412.98,65.59 411.71,66.45 410.45,66.28 409.18,65.96 407.92,65.7 406.65,66.01 405.39,66.03 404.12,65.46 402.86,66.33 401.59,65.64 400.33,65.66 399.06,65.93 397.8,65.13 396.53,65.02 395.27,65.74 394,65.66 392.74,65.65 391.47,64.81 390.2,65.58 388.94,64.81 387.67,65.26 386.41,65.18 385.14,65.15 383.88,65.07 382.61,64.97 381.35,64.68 380.08,65.08 378.82,64.35 377.55,64.51 376.29,64.4 375.02,63.99 373.76,64.32 372.49,64.23 371.22,64.15 369.96,63.77 368.69,63.88 367.43,64.1 366.16,63.1 364.9,63.16 363.63,63.43 362.37,63.63 361.1,63.16 359.84,62.75 358.57,62.84 357.31,62.85 356.04,62.51 354.78,62.39 353.51,62.11 352.25,61.32 350.98,61.21 349.71,61.06 348.45,61.03 347.18,60.63 345.92,61.25 344.65,60.52 343.39,60.54 342.12,61.46 340.86,61.45 339.59,61.12 338.33,60.84 337.06,61.14 335.8,60.87 334.53,61.53 333.27,61.06 332,60.98 330.73,61.93 329.52,61.47 328.31,62.38 327.09,62.81 325.88,62.63 324.66,63.45 323.36,63.33 322.06,63.35 320.76,63.5 319.46,64.26 318.15,64.41 316.85,63.88 315.55,65.05 314.29,65.09 313.02,64.9 311.76,64.76 310.49,65.27 309.22,64.9 307.96,65.39 306.69,65.4 305.43,65.88 304.16,65.42 302.9,65.49 301.63,65.82 300.37,66.06 299.15,65.82 297.94,65.36 296.72,65.81 295.51,65.08 294.29,65.65 293.08,65 291.86,65.12 290.65,65.32 289.44,65.02 288.22,64.76 287.01,64.09 285.79,64.27 284.58,64.94 283.36,64.65 282.15,64.11 280.93,64.24 279.72,64.15 278.5,64.54 277.29,64.45 276.07,64.16 274.86,63.41 273.64,62.87 272.43,61.92 271.21,60.5 270,60.06 268.78,58.72 267.57,58.12 266.35,56.6 265.14,56.75 263.92,57.29 262.71,57.18 261.49,57.67 260.28,57.95 259.06,58.28 257.85,57.97 256.63,58.65 255.42,57.99 254.2,58.6 252.99,58.62 251.78,59.67 250.56,60.11 249.35,60.23 248.13,60.57 246.92,61.33 245.7,62.07 244.49,61.65 243.27,62.92 242.06,63.24 240.76,64.15 239.45,64.06 238.15,64.81 236.85,66 235.55,66.58 234.25,66.61 232.95,67.65 231.65,67.97 230.34,69 229.04,69.31 227.74,70.51 226.44,71.06 225.14,71.65 223.84,71.81 222.54,73.03 221.23,73.46 219.93,73.96 218.63,74.77 217.33,75.73 216.03,75.62 214.73,76.47 213.51,76.78 212.3,75.8 211.08,75.5 209.87,75.59 208.65,75.37 207.44,74.17 206.22,73.55 205.01,72.89 203.79,71.54 202.58,70.14 201.28,70.56 199.98,70.05 198.68,69.9 197.37,70 196.07,69.55 194.77,68.87 193.47,69.07 192.26,69.7 191.04,70.65 189.83,70.58 188.61,71.58 187.4,72.52 186.18,72.96 184.97,73.12 183.75,73.81 182.54,74.68 181.32,75.5 180.02,75.01 178.72,74.66 177.42,74.16 176.12,73.88 174.82,73.14 173.51,72.71 172.21,72.05 170.91,71.84 169.61,71.42 168.31,70.98 167.01,70.65 165.71,69.97 164.4,69.79 163.1,69.5 161.58,68.58 160.07,67.67 158.85,67.34 157.64,66.28 156.42,65.69 155.21,65.05 153.99,64.05 152.47,63.65 150.96,63.06 149.44,62.39 147.92,61.18 146.7,61.62 145.49,62.61 144.27,62.67 143.06,62.64 141.85,63.37 140.54,63.21 139.24,63.95 137.94,63.69 136.64,64.23 135.34,64.5 134.04,64.43 132.73,64.33 131.47,64.43 130.2,65.01 128.94,65.57 127.67,66.22 126.41,66.44 125.14,67.01 123.88,67.49 122.61,67.49 121.35,67.77 120.08,68.3 118.82,68.67 117.55,68.61 116.29,69.21 115.02,69.11 113.76,69.34 112.49,69.22 111.22,69.56 109.96,69.56 108.69,69.27 107.43,70.19 106.16,70.05 104.9,70.33 103.63,69.99 102.37,70.26 101.15,69.85 99.94,70.75 98.72,70.26 97.51,70.65 96.29,70.96 95.08,71.36 93.86,71.77 92.65,72.07 91.44,71.92 90.22,72.19 89.01,72.31 87.79,71.84 86.58,71.52 85.36,71.11 84.15,70.38" fill="#000" filter="url(#streak)" opacity="0.3" clip-path="url(#cla)"/>
<polyline points="84.15,53.38 85.36,54.11 86.58,54.52 87.79,54.84 89.01,55.31 90.22,55.19 91.44,54.92 92.65,55.07 93.86,54.77 95.08,54.36 96.29,53.96 97.51,53.65 98.72,53.26 99.94,53.75 101.15,52.85 102.37,53.26 103.63,52.99 104.9,53.33 106.16,53.05 107.43,53.19 108.69,52.27 109.96,52.56 111.22,52.56 112.49,52.22 113.76,52.34 115.02,52.11 116.29,52.21 117.55,51.61 118.82,51.67 120.08,51.3 121.35,50.77 122.61,50.49 123.88,50.49 125.14,50.01 126.41,49.44 127.67,49.22 128.94,48.57 130.2,48.01 131.47,47.43 132.73,47.33 134.04,47.43 135.34,47.5 136.64,47.23 137.94,46.69 139.24,46.95 140.54,46.21 141.85,46.37 143.06,45.64 144.27,45.67 145.49,45.61 146.7,44.62 147.92,44.18 149.44,45.39 150.96,46.06 152.47,46.65 153.99,47.05 155.21,48.05 156.42,48.69 157.64,49.28 158.85,50.34 160.07,50.67 161.58,51.58 163.1,52.5 164.4,52.79 165.71,52.97 167.01,53.65 168.31,53.98 169.61,54.42 170.91,54.84 172.21,55.05 173.51,55.71 174.82,56.14 176.12,56.88 177.42,57.16 178.72,57.66 180.02,58.01 181.32,58.5 182.54,57.68 183.75,56.81 184.97,56.12 186.18,55.96 187.4,55.52 188.61,54.58 189.83,53.58 191.04,53.65 192.26,52.7 193.47,52.07 194.77,51.87 196.07,52.55 197.37,53 198.68,52.9 199.98,53.05 201.28,53.56 202.58,53.14 203.79,54.54 205.01,55.89 206.22,56.55 207.44,57.17 208.65,58.37 209.87,58.59 211.08,58.5 212.3,58.8 213.51,59.78 214.73,59.47 216.03,58.62 217.33,58.73 218.63,57.77 219.93,56.96 221.23,56.46 222.54,56.03 223.84,54.81 225.14,54.65 226.44,54.06 227.74,53.51 229.04,52.31 230.34,52 231.65,50.97 232.95,50.65 234.25,49.61 235.55,49.58 236.85,49 238.15,47.81 239.45,47.06 240.76,47.15 242.06,46.24 243.27,45.92 244.49,44.65 245.7,45.07 246.92,44.33 248.13,43.57 249.35,43.23 250.56,43.11 251.78,42.67 252.99,41.62 254.2,41.6 255.42,40.99 256.63,41.65 257.85,40.97 259.06,41.28 260.28,40.95 261.49,40.67 262.71,40.18 263.92,40.29 265.14,39.75 266.35,39.6 267.57,41.12 268.78,41.72 270,43.06 271.21,43.5 272.43,44.92 273.64,45.87 274.86,46.41 276.07,47.16 277.29,47.45 278.5,47.54 279.72,47.15 280.93,47.24 282.15,47.11 283.36,47.65 284.58,47.94 285.79,47.27 287.01,47.09 288.22,47.76 289.44,48.02 290.65,48.32 291.86,48.12 293.08,48 294.29,48.65 295.51,48.08 296.72,48.81 297.94,48.36 299.15,48.82 300.37,49.06 301.63,48.82 302.9,48.49 304.16,48.42 305.43,48.88 306.69,48.4 307.96,48.39 309.22,47.9 310.49,48.27 311.76,47.76 313.02,47.9 314.29,48.09 315.55,48.05 316.85,46.88 318.15,47.41 319.46,47.26 320.76,46.5 322.06,46.35 323.36,46.33 324.66,46.45 325.88,45.63 327.09,45.81 328.31,45.38 329.52,44.47 330.73,44.93 332,43.98 333.27,44.06 334.53,44.53 335.8,43.87 337.06,44.14 338.33,43.84 339.59,44.12 340.86,44.45 342.12,44.46 343.39,43.54 344.65,43.52 345.92,44.25 347.18,43.63 348.45,44.03 349.71,44.06 350.98,44.21 352.25,44.32 353.51,45.11 354.78,45.39 356.04,45.51 357.31,45.85 358.57,45.84 359.84,45.75 361.1,46.16 362.37,46.63 363.63,46.43 364.9,46.16 366.16,46.1 367.43,47.1 368.69,46.88 369.96,46.77 371.22,47.15 372.49,47.23 373.76,47.32 375.02,46.99 376.29,47.4 377.55,47.51 378.82,47.35 380.08,48.08 381.35,47.68 382.61,47.97 383.88,48.07 385.14,48.15 386.41,48.18 387.67,48.26 388.94,47.81 390.2,48.58 391.47,47.81 392.74,48.65 394,48.66 395.27,48.74 396.53,48.02 397.8,48.13 399.06,48.93 400.33,48.66 401.59,48.64 402.86,49.33 404.12,48.46 405.39,49.03 406.65,49.01 407.92,48.7 409.18,48.96 410.45,49.28 411.71,49.45 412.98,48.59 414.25,49.09 415.51,48.66 416.78,49.37 418.04,48.66 419.31,48.6 420.57,48.95 421.84,49.3 423.1,48.88 424.37,48.7 425.63,49.36 426.9,49.38 428.16,49.43 429.43,48.87 430.69,48.99 431.96,48.81 433.23,49.13 434.49,48.9 435.76,48.91 437.02,49.35 438.24,49.53 439.45,49.15 440.67,48.67 441.88,49.22 443.09,49.02 444.31,49.56 445.52,49.29 446.74,49.4 447.95,49.27 449.17,49.11 450.69,48.96 452.2,48.39 453.72,47.34 455.24,45.18 456.76,43.37 458.28,41.5 459.49,40.77 460.71,40.72 461.92,40.64 463.14,39.81 464.35,40.27 465.57,40.41 466.78,40.38 468,40.67 469.21,41.03 470.43,41.3 471.69,41.99 472.96,42.01 474.22,42.3 475.49,42.19 476.76,43.22 478.02,42.9 479.29,43.17 480.56,43.17 481.88,44.2 483.21,43.81 484.54,44.36 485.87,44.49 487.2,44.64 488.53,44.6 489.86,44.83 491.18,44.94 492.45,44.82 493.71,44.15 494.98,44.54 496.24,44.59 497.51,45.01 498.78,44.8 500.04,44.72 501.31,44.76 502.57,44.38 503.84,44.96 505.1,44.66 506.37,44.42 507.67,44.7 508.97,45.43 510.27,45.2 511.57,45.05 512.87,45.25 514.18,46 515.48,46.1 516.78,47.09 518.08,47.02 519.38,47.9 520.68,48.86 521.98,48.84 523.29,49.54 524.59,50.63 525.89,49.92 527.19,49.33 528.49,49.05 529.79,48.98 531.1,48.45 532.4,47.56 533.7,47.12 535,47.25 536.3,46.39 537.6,45.27 538.9,45.31 540.21,43.82 541.51,43.51 542.81,43.34 544.02,42.9 545.24,42.17 546.45,42.48 547.67,41.88 548.88,41.84 550.1,41.57 551.31,40.8 552.53,40.74 553.74,40.31 554.96,40.4 556.17,40.41 557.38,40.49 558.6,40.73 559.81,41.06 561.03,40.48 562.24,40.57 563.46,41.27 564.67,41.44 565.89,41.34 567.1,41.46 568.37,41.25 569.63,41.61 570.9,41.39 572.16,41.06 573.43,40.39 574.69,41.07 575.96,40.55 577.22,40.16 578.49,40.14 579.76,40.4 581.02,39.59 582.29,39.58 583.55,39.58 584.82,39.99 586.08,39.67 587.35,39.72 588.61,39.12 589.88,38.97 591.14,38.77 592.41,38.57 593.67,38.41 594.94,38.51 596.2,38.46 597.47,37.74 598.74,38.01 600,37.74 601.27,37.79 602.53,38.04 603.8,38.17 605.06,38.19 606.33,38.66 607.59,37.9 608.86,38.43 610.12,38.83 611.39,38.63 612.65,38.51 613.92,38.56 615.18,38.85 616.45,39.64 617.71,39.85 618.98,39.88 620.25,40.36 621.51,40.64 622.78,40.81 624.04,40.6 625.31,40.94 626.57,41.52 627.84,41.35 629.1,41.85 630.37,41.71 631.63,41.69 632.9,41.94 634.16,41.73 635.43,42.09 636.69,42.28 637.96,42.01 639.23,42.29 640.49,42.5 641.76,43.23 643.02,43.09 644.32,43 645.62,43.93 646.93,43.4 648.23,43.88 649.53,44.32 650.83,44.49 652.13,44.45 653.35,43.27 654.56,41.46 655.78,40.17 656.99,38.43 658.2,37.39 659.42,36.53 660.63,35.3 661.85,34.73 663.06,34.96 664.28,33.62 665.49,33.41 666.71,33.64 667.92,33.87 669.14,34.34 670.35,33.78 671.57,34.62 672.78,35.23 674,34.99" fill="none" stroke="#e8e8e8" stroke-width="2.2" stroke-linejoin="round" filter="url(#bl)"/>
<polyline points="84.15,44 85.36,43.18 86.58,41.24 87.79,38.71 89.01,37.22 90.22,35.33 91.44,35.68 92.65,35.93 93.86,35.02 95.08,34.99 96.29,36.18 97.51,35.67 98.72,36.2 99.94,35.19 101.15,35.87 102.37,36.32 103.63,35.63 104.9,36.63 106.16,36.57 107.43,35.35 108.69,35.35 109.96,36.07 111.22,36.63 112.49,35.85 113.76,35.61 115.02,35.9 116.29,35.35 117.55,35.62 118.82,35.82 120.08,35.8 121.35,35.33 122.61,35.23 123.88,35.11 125.14,35.35 126.41,35.01 127.67,34.53 128.94,35.57 130.2,35.08 131.47,35.1 132.73,34.36 134.06,35.18 135.39,34.69 136.72,33.36 138.05,33.35 139.38,33.59 140.71,33.27 142.03,33.28 143.36,32.26 144.88,31.01 146.4,28.96 147.67,28.8 148.93,29.55 150.2,30.32 151.46,30.63 152.73,30.5 153.99,30.97 155.51,28.68 157.03,27.45 158.29,28.23 159.56,27.69 160.82,27.35 162.09,27.88 163.36,28.1 164.62,28.06 165.89,27.64 167.15,27.73 168.42,27.82 169.68,28.2 170.95,27.84 172.21,27.66 173.51,27.58 174.82,26.72 176.12,26.52 177.42,27.23 178.72,27.4 180.02,26.64 181.32,26.14 182.62,26.27 183.93,27.16 185.23,28.27 186.53,28.41 187.83,28.52 189.13,29.4 190.43,28.96 191.73,28.92 193.04,29.1 194.34,28.14 195.64,27.54 196.94,26.84 198.24,26.79 199.54,26.93 200.76,25.3 201.97,26.08 203.19,25.83 204.4,25.62 205.62,25.11 206.83,24.9 208.05,24.19 209.26,23.95 210.48,23.46 211.69,22.64 212.9,23.78 214.12,23.36 215.33,22.84 216.55,23.26 217.76,23.24 218.98,23.06 220.19,23.04 221.41,23.31 222.62,23.43 223.84,23.41 225.05,23.35 226.27,22.9 227.48,23.33 228.7,23.41 229.91,24.13 231.13,24.67 232.34,24.74 233.55,24.89 234.77,25.07 235.98,24.43 237.2,25.56 238.41,25.63 239.63,25.1 240.84,25.31 242.06,25.61 243.36,27.09 244.66,26.81 245.96,27.05 247.26,28.2 248.57,28.25 249.87,28.29 251.17,28.85 252.69,30.13 254.2,30.38 255.42,30.38 256.63,30.84 257.85,30.33 259.06,29.99 260.28,30.05 261.49,29.27 262.71,29.63 263.92,29.52 265.14,29.05 266.35,28.78 267.57,29.28 268.78,28.13 270,27.1 271.21,27.05 272.43,26.74 271.21,26.38 270,27.14 271.21,27.62 272.43,28.73 273.64,28.25 274.86,29.31 276.07,29.58 277.29,29.09 278.5,28.33 279.72,29.09 280.93,28.53 282.15,27.84 283.36,27.12 284.58,27.41 285.79,26.75 287.01,26.7 288.22,26.04 289.44,26.33 290.65,25.37 291.86,25.56 293.08,26.34 294.29,26.06 295.51,25.11 296.72,25.73 297.94,24.81 299.15,25.54 300.37,25.12 301.63,24.73 302.9,24.58 304.16,24.32 305.43,25.61 306.69,24.51 307.96,25.68 309.22,25.95 310.49,25.48 311.76,25 313.02,26.05 314.29,26.27 315.55,25.97 316.82,25.62 318.08,25.36 319.35,25.24 320.61,24.97 321.88,25.55 323.14,25.14 324.41,24.73 325.67,24.53 326.94,25.24 328.2,24.64 329.47,24.85 330.73,24.53 332,25.17 333.27,25.08 334.53,23.72 335.8,23.85 337.06,23.9 338.33,24.7 339.59,24.29 340.86,23.54 342.12,23.24 343.39,23.75 344.65,23.86 345.92,23.86 347.18,22.99 348.45,23.69 349.71,23.37 350.98,23.03 352.25,23.68 353.51,22.58 354.78,23.22 356.04,22.27 357.31,22.34 358.57,23.33 359.84,22.3 361.1,23.01 362.32,22.79 363.53,23.13 364.75,22.47 365.96,22.43 367.18,22.36 368.39,23.16 369.61,22.8 370.82,23.29 372.03,23.19 373.25,22.14 374.46,22.72 375.68,22.1 376.89,22 378.11,22.05 379.32,23.16 380.54,23.05 381.75,23.11 382.97,22.43 384.18,22.81 385.4,23.04 386.61,22.48 387.83,22.75 389.04,22.26 390.26,22.06 391.47,22.32 392.68,23.16 393.9,22.67 395.11,23.14 396.33,22.44 397.54,22.16 398.76,22.83 399.97,22.85 401.19,21.68 402.4,22.56 403.62,21.71 404.83,21.71 406.05,22.75 407.26,21.53 408.48,21.78 409.69,22.79 410.9,21.96 412.12,21.49 413.33,21.53 414.55,21.6 415.76,22.26 416.98,21.33 418.19,22.42 419.41,21.64 420.62,22.43 421.84,22.31 423.14,21.32 424.44,21.13 425.74,21.32 427.04,20.66 428.34,21.3 429.65,20.31 430.95,20.14 432.21,21.83 433.48,21.2 434.74,21.95 436.01,22.07 437.27,22.21 438.54,22.19 439.8,23.71 441.07,24.12 442.34,24.45 443.6,23.57 444.87,24.05 446.13,24.94 447.65,25.95 449.17,25.85 450.69,26.56 452.2,17.41 453.42,16.54 454.63,16.63 455.85,16 457.06,15.61 458.28,15.08 459.49,15.36 460.71,16.34 461.92,15.59 463.14,15.88 464.35,15.87 465.57,16.89 466.78,16.73 468,17.22 469.21,17.85 470.43,18.45 471.69,19.07 472.96,19.03 474.22,18.08 475.49,18.01 476.76,18.19 478.02,18.13 479.29,18.04 480.56,17.43 481.88,17.04 483.21,17.28 484.54,16.96 485.87,17.56 487.2,16.81 488.53,16.74 489.86,17.45 491.18,16.89 492.45,17.72 493.71,17.43 494.98,18.07 496.24,17.21 497.51,17.82 498.78,18.36 500.04,17.48 501.31,18.82 502.57,17.87 503.84,18.84 505.1,19.25 506.37,19.15 507.63,18.58 508.9,18.4 510.16,19.1 511.43,19.8 512.69,19.05 513.96,20.01 515.22,19.09 516.49,20.29 517.76,19.19 519.02,19.71 520.29,20.66 521.55,20.65 522.82,21.17 524.08,21.46 525.35,21.7 526.61,22 527.88,21.67 529.14,22.4 530.41,22.4 531.67,23.56 532.94,23.87 534.2,23.67 535.47,23.79 536.73,25.42 537.95,25.81 539.16,26.06 540.38,26.66 541.59,27.7 542.81,27.75 544.02,28.27 545.24,28.8 546.45,29.3 547.67,29.58 548.88,31.05 550.1,31.34 551.31,32.16 552.53,32.06 553.74,33.08 554.96,33.38 556.17,33.06 557.38,32.94 558.6,33.44 559.81,32.53 561.03,32.23 562.24,32.07 563.46,31.08 564.67,30.31 565.89,30.59 567.1,30.09 568.32,29.84 569.53,29.09 570.75,28.98 571.96,28.59 573.18,27.45 574.39,27.5 575.61,27.18 576.82,26.52 578.03,26.47 579.25,26.38 580.46,26.56 581.68,26.27 582.89,25.07 584.11,25.28 585.32,24.14 586.54,23.87 587.75,24.18 588.97,24.39 590.18,23.08 591.4,23.63 592.65,23.61 593.9,22.64 595.15,22.99 596.4,23.03 597.65,22.18 598.9,22.47 600.15,22.34 601.4,21.96 602.65,22.15 603.9,22.03 605.15,21.94 606.4,21.21 607.65,20.48 608.9,20.41 610.15,20.18 611.4,20.5 612.65,20.58 613.92,19.72 615.18,20.73 616.45,20.9 617.71,20.51 618.98,20.87 620.25,20.51 621.51,21.43 622.78,20.59 624.04,22.03 625.31,21.92 626.57,21.79 627.84,21.41 629.05,22.62 630.27,22.99 631.48,22.14 632.7,23.34 633.91,23.74 635.13,23.78 636.34,24.15 637.55,24.09 638.77,25.07 639.98,25.44 641.2,24.91 642.41,25.81 643.63,25.59 644.84,25.52 646.06,26.05 647.58,16.66 649.09,16.24 650.61,14.79 652.13,12.1 653.35,13.07 654.56,13.11 655.78,13 656.99,13.56 658.2,13.79 659.42,15.71 660.63,15.88 661.85,17.36 663.06,18.92 664.28,19.55 665.49,22.52 666.71,24.62 667.92,27.07 669.14,28.31 670.35,30.55 671.57,31.92 672.78,32.56 674,34.01" fill="none" stroke="#8a8a8a" stroke-width="0.7" stroke-linejoin="round"/>
<text x="17.6" y="18.3" font-size="16" text-anchor="start" font-weight="bold" fill="#000">a</text>
<rect x="77" y="839.5" width="605.5" height="66.0" fill="#000"/>
<clipPath id="cbe"><polygon points="83.59,853.82 85.11,853.61 86.63,852.16 88.15,852 89.36,853.19 90.58,853.19 91.79,853.24 93.01,852.87 94.22,853.43 95.44,853.58 96.65,853.68 97.86,853.23 99.08,853.75 100.29,853.84 101.51,854.45 102.72,854.97 103.94,855.05 105.15,854.62 106.37,854.62 107.63,854.5 108.9,854.31 110.16,854.42 111.43,855.16 112.69,855.08 113.96,855.29 115.22,856.14 116.49,855.75 117.76,855.93 119.02,855.6 120.29,855.43 121.55,855.98 122.82,855.46 124.08,855.73 125.35,856.16 126.61,855.45 127.88,854.51 129.14,855.25 130.41,854.86 131.67,854.52 132.94,854.51 134.2,854.06 135.47,853.84 136.73,852.98 138,853.73 139.27,853.58 140.53,852.33 141.8,853.03 143.06,852.85 144.33,852.37 145.59,852.34 146.86,852.16 148.12,852.64 149.39,851.92 150.65,852.26 151.92,851.46 153.18,852.07 154.45,851.97 155.71,851.23 156.98,851.25 158.25,851.62 159.51,851.22 160.78,850.76 162.04,850.26 163.31,850.28 164.57,850.68 165.84,849.81 167.1,850.72 168.37,849.77 169.63,850.62 170.9,849.73 172.16,850.58 173.43,850.18 174.69,849.85 175.96,849.82 177.22,849.95 178.49,849.81 179.76,849.38 181.02,849.18 182.29,849.56 183.8,848.33 185.32,850.32 186.54,849.4 187.75,850.29 188.97,850.01 190.18,850.11 191.4,848.96 192.61,849.58 193.83,848.47 195.04,849.15 196.26,848.46 197.47,848.25 198.74,848.98 200,847.72 201.27,848.13 202.53,848.42 203.8,847.39 205.06,847.16 206.33,847.92 207.59,847.1 208.86,847.34 210.12,846.2 211.39,846.49 212.65,846.04 213.92,846.59 215.18,845.62 216.45,846.68 217.71,845.23 218.98,846.06 220.25,844.92 221.51,845.1 222.78,845.73 224.04,844.66 225.31,844.54 226.57,845.1 227.84,844.52 229.14,844.17 230.44,845.63 231.74,844.58 233.04,844.55 234.34,845.11 235.65,845.62 236.95,845.93 238.25,845.48 239.55,846.23 240.85,846.24 242.15,847.26 243.45,848.13 244.76,848.53 246.06,849.19 247.27,849.75 248.49,850.65 249.7,851.19 250.92,851.63 252.13,852.04 253.35,853.41 254.56,853.69 255.78,854.14 256.99,855.39 258.2,856.75 259.51,856.35 260.81,857.64 262.11,858.02 263.41,858.84 264.71,858.98 266.01,860.77 267.31,860.44 268.62,860.71 269.92,860.23 271.22,859.45 272.52,859.99 273.82,859.19 275.12,858.85 276.43,858.6 278.21,858.02 280,857.17 281.27,857.8 282.53,857.5 283.8,858.04 285.06,857.84 286.33,857.8 287.59,856.61 288.86,856.78 290.12,856.38 291.39,856.73 292.65,856.65 293.92,856.77 295.18,856.51 296.45,855.75 297.71,855.86 298.98,855.88 300.24,855.02 301.51,854.94 302.78,855.33 304.04,854.79 305.31,855.52 306.57,854.72 307.84,854.39 309.1,854.38 310.37,854.33 311.58,854.25 312.8,854.61 314.01,854.47 315.23,854.19 316.44,854.6 317.66,853.94 318.87,854.85 320.09,854.86 321.3,854.48 322.51,854 323.73,854.05 324.94,854.09 326.16,853.28 327.37,853.74 328.59,853.83 329.8,853.28 331.02,853.1 332.23,854.03 333.45,853.36 334.66,853.51 335.88,854.02 337.09,853.52 338.31,853.01 339.52,853.92 340.73,853 341.95,852.51 343.16,853.44 344.38,852.63 345.59,852.91 346.81,853.66 348.02,853.43 349.24,852.51 350.45,853.12 351.67,853.06 352.88,853.16 354.1,852.78 355.31,853.31 356.53,852.59 357.74,852.88 358.96,853.01 360.17,853.79 361.38,852.59 362.6,853.54 363.81,852.75 365.03,853.28 366.24,853.03 367.46,853.13 368.67,853.54 369.89,853.04 371.1,852.65 372.32,852.63 373.53,852.55 374.75,853.6 375.96,853.28 377.18,853.71 378.39,853.31 379.61,852.35 380.82,853.21 382.03,853.35 383.25,853.25 384.46,852.91 385.68,852.69 386.89,852.81 388.11,853.26 389.32,852.5 390.54,852.83 391.75,852.74 392.97,853.38 394.18,853.15 395.4,853.3 396.61,853.14 397.83,852.36 399.04,852.25 400.26,852.58 401.47,852.24 402.68,852.44 403.9,852.75 405.11,853.05 406.33,852.55 407.54,852.84 408.76,851.79 409.97,852.12 411.19,852.98 412.4,851.75 413.62,852.1 414.83,851.57 416.05,851.56 417.26,852.66 418.48,852.75 419.69,852.24 420.9,851.47 422.12,851.67 423.33,851.54 424.55,852.12 425.76,852.1 426.98,851.73 428.19,851.81 429.41,851.2 430.62,851.76 431.84,852.3 433.05,851.93 434.27,850.92 435.48,851.42 436.7,851.6 437.91,850.87 439.13,851.67 440.34,850.97 441.55,851.22 442.77,850.71 443.98,851.45 445.2,851.31 446.41,851.18 447.63,850.74 448.84,851.32 450.06,850.91 451.27,851.86 452.49,852.42 453.7,851.6 454.92,852.23 456.13,852.35 457.35,852.4 458.56,852.99 459.78,853.47 460.99,853.31 462.2,853.15 463.42,853.87 464.63,853.03 465.85,853.65 467.06,853.57 468.28,853.75 469.49,853.92 470.71,853.08 471.92,853.68 473.14,853.41 474.35,853.82 475.57,854.3 476.78,853.86 478,853.03 479.21,853.7 480.43,854.09 482.07,854.63 483.29,854.23 484.5,854.39 485.72,853.19 486.93,854.41 488.15,854.04 489.36,853.79 490.58,854.13 491.79,854.03 493.01,852.85 494.22,853.78 495.44,853.63 496.65,852.76 497.86,853.45 499.08,853.15 500.29,852.52 501.51,853.31 502.72,852.3 503.94,852.89 505.15,852.56 506.37,852.23 507.58,852.63 508.8,852.46 510.01,852.05 511.23,853.08 512.44,851.8 513.66,851.66 514.87,852.3 516.09,852.76 517.3,852.47 518.51,852.57 519.73,852.15 520.94,852.38 522.16,851.87 523.37,851.74 524.59,852.03 525.8,851.33 527.02,851.37 528.23,852.28 529.45,851.43 530.66,852.2 531.88,852.21 533.09,851.64 534.31,851.98 535.52,852.1 536.73,852.17 537.95,851.46 539.16,851.8 540.38,852.41 541.59,852.83 542.81,852.9 544.02,852.8 545.24,853.87 546.45,854.75 547.67,854.21 548.88,854.76 550.18,855.4 551.48,856.36 552.79,857.82 554.09,857.9 555.39,859.25 556.69,859.89 557.99,860.83 559.51,862.87 561.03,863.22 562.55,865.78 563.88,864.6 565.2,864.62 566.53,864.38 567.86,863.72 569.19,862.9 570.52,863.07 571.85,861.57 573.18,861.87 574.39,861.34 575.61,861.33 576.82,861.59 578.03,861.31 579.25,860.88 580.46,860.23 581.68,859.93 582.89,860.05 584.11,859.54 585.32,859.4 586.54,860.16 587.75,858.77 588.97,859.57 590.18,858.75 591.4,858.54 592.61,858.27 593.83,857.74 595.04,858.07 596.26,857.47 597.47,857.66 598.74,857.37 600,858.14 601.27,858.1 602.53,857.35 603.8,857.55 605.06,857.88 606.33,856.96 607.59,856.57 608.86,856.69 610.12,856.55 611.39,857.15 612.65,856.65 613.92,856.63 615.18,857.24 616.45,856.45 617.71,857.26 618.98,857.01 620.25,856.69 621.51,857.28 622.78,856.61 624.04,857.36 625.31,857.42 626.57,856.83 627.84,857.09 629.05,857.52 630.27,857.29 631.48,857.36 632.7,857.59 633.91,857.74 635.13,857.55 636.34,857.92 637.55,857.02 638.77,857.55 639.98,857.67 641.2,857.31 642.41,857.41 643.63,857.16 644.84,858.32 646.06,857.53 647.3,857.71 648.54,858.29 649.78,857.3 651.03,858.38 652.27,857.22 653.51,857.08 654.75,857.53 656,857.54 657.24,858.32 658.48,858.28 659.72,858.11 661.24,859.17 662.76,860.84 664.28,862.94 665.8,866.3 667.31,868.21 668.53,869.58 669.74,871.6 670.96,872.43 672.17,874.18 673.39,876.56 673.39,877.16 672.17,877.11 670.96,877.46 669.74,877.66 668.53,877.56 667.31,877.18 666.01,877.24 664.71,877.51 663.41,877.71 662.11,877.73 660.81,877.57 659.51,878.01 658.2,878.17 656.99,878.54 655.78,878.01 654.56,878.44 653.35,878.17 652.13,878.76 650.92,878.94 649.7,878.46 648.49,878.5 647.27,879.39 646.06,879.34 644.84,878.74 643.63,879.07 642.41,879 641.2,878.78 639.98,878.96 638.77,879.22 637.55,879.06 636.34,879.33 635.13,878.8 633.91,878.66 632.65,878.93 631.38,878.36 630.11,878.54 628.85,878.43 627.58,878.49 626.32,878.4 625.05,878.15 623.79,877.56 622.52,877.23 621.26,876.78 619.99,877.26 618.73,876.86 617.51,876.31 616.3,876.21 615.08,876.19 613.87,876.45 612.65,876.83 611.44,876.23 610.22,876.33 609.01,875.72 607.79,875.88 606.58,876.29 605.28,875.85 603.98,876.63 602.68,876.72 601.37,876.69 600.07,877.49 598.77,876.88 597.47,877.43 596.2,876.76 594.94,876.87 593.67,876.89 592.41,876.64 591.14,876.61 589.88,876.24 588.61,875.85 587.35,875.36 586.08,875.27 584.82,875.36 583.55,874.6 582.29,874.75 581.02,874.8 579.76,874.19 578.49,873.97 577.22,874.08 575.96,873.97 574.69,873.33 573.43,873.4 572.16,873.73 570.9,873.16 569.63,873.37 568.37,873.31 567.1,873.04 565.89,872.96 564.67,873.69 563.46,873.84 562.24,873.48 561.03,873.81 559.81,873.93 558.6,873.6 557.38,874.6 556.17,874.44 554.96,874.69 553.65,875.49 552.35,875.75 551.05,876.31 549.75,877.3 548.45,878.15 547.15,878.31 545.85,879.03 544.54,879.27 543.24,879.59 541.94,879.61 540.64,880.21 539.34,879.95 538.04,880.51 536.73,880.26 535.47,880.83 534.2,880.84 532.94,880.94 531.67,881.49 530.41,881.49 529.14,881.08 527.88,880.93 526.61,881.65 525.35,881.97 524.08,882.23 522.82,882.16 521.55,881.75 520.29,881.88 519.02,882.11 517.76,882.22 516.49,882.28 515.22,882.16 513.96,882.56 512.69,882.7 511.43,883.12 510.16,882.92 508.9,882.32 507.63,882.72 506.37,882.57 505.1,882.96 503.84,882.45 502.57,882.86 501.31,882.94 500.04,883.02 498.78,882.43 497.51,882.35 496.24,882.35 494.98,882.33 493.71,882.66 492.45,881.98 491.18,881.99 489.88,881.96 488.58,881.66 487.28,882.45 485.98,881.94 484.68,882.06 483.37,882.05 482.07,881.59 480.43,882.18 479.21,881.81 478,882.03 476.78,881.94 475.57,881.54 474.35,881.72 473.14,881.77 471.92,881.6 470.71,882.13 469.49,881.64 468.28,882.44 467.06,881.94 465.85,882.43 464.63,882.32 463.42,881.78 462.2,881.57 460.99,882.44 459.78,881.83 458.56,882.21 457.35,882.36 456.13,882.5 454.92,882.13 453.7,881.58 452.49,881.7 451.27,882.32 450.06,881.95 448.84,881.97 447.63,882.14 446.41,882.07 445.2,881.61 443.98,882.39 442.77,882.25 441.55,882.53 440.34,882.21 439.13,881.54 437.91,882.37 436.7,881.87 435.48,881.56 434.27,882.5 433.05,882.04 431.84,882.43 430.62,882.3 429.41,882.1 428.19,882.37 426.98,881.75 425.76,882.13 424.55,881.42 423.33,881.88 422.12,882.16 420.9,881.54 419.69,881.52 418.48,882.08 417.26,881.57 416.05,881.72 414.83,881.33 413.62,881.13 412.4,881.39 411.19,881.58 409.97,880.96 408.76,881.4 407.54,880.91 406.33,881.71 405.11,881.38 403.9,881.31 402.68,881.2 401.47,880.94 400.2,880.71 398.94,880.65 397.67,880.95 396.41,880.44 395.14,880.59 393.88,881.05 392.61,880.97 391.35,880.8 390.08,880.95 388.82,880.64 387.55,880.58 386.29,880.12 385.02,880.4 383.76,880.16 382.49,880.34 381.22,879.56 379.96,880.06 378.69,880.2 377.43,879.22 376.16,879.82 374.9,879.41 373.63,878.97 372.37,878.84 371.1,878.88 369.84,878.79 368.57,878.53 367.31,878.94 366.04,878.22 364.78,878 363.51,878.05 362.25,877.39 360.98,877.74 359.71,876.96 358.45,876.94 357.18,876.78 355.92,876.89 354.65,877.17 353.39,877.16 352.12,877.55 350.86,877.48 349.59,877.08 348.33,877.9 347.06,878.04 345.8,877.48 344.53,877.43 343.27,878.3 342,878.28 340.73,878.08 339.52,878.72 338.31,879.47 337.09,879.63 335.88,879.59 334.66,880.39 333.36,880.62 332.06,880.16 330.76,880.15 329.46,880.59 328.15,880.03 326.85,880.85 325.55,880.43 324.29,880.4 323.02,880.26 321.76,880.59 320.49,880.07 319.22,880.08 317.96,880.02 316.69,879.86 315.43,880.48 314.16,879.57 312.9,879.81 311.63,880.29 310.37,879.61 309.1,879.64 307.84,879.94 306.57,880.06 305.31,879.76 304.04,879.64 302.78,879.17 301.51,879.74 300.24,879.4 298.98,878.89 297.71,878.96 296.45,879.15 295.18,878.97 293.92,878.56 292.65,878.72 291.39,878.31 290.12,878.24 288.86,878.34 287.59,878.08 286.33,878.06 285.06,877.93 283.8,878.14 282.53,877.92 281.27,877.88 280,877.18 278.79,877.33 277.59,876.36 276.38,875.66 275.18,875.24 273.97,874.46 272.76,873.78 271.56,873.9 270.35,872.69 269.14,873.12 267.92,872.54 266.71,873.08 265.49,872.88 264.28,873.14 263.06,872.84 261.85,872.84 260.63,872.99 259.42,873.33 258.2,872.7 256.99,873.28 255.78,873.55 254.56,873.09 253.35,873.32 252.13,873.65 250.92,874.23 249.7,874.46 248.49,874.59 247.27,873.98 246.06,874.49 244.76,874.92 243.45,874.74 242.15,875.18 240.85,875.37 239.55,876.27 238.25,876.86 236.95,877.19 235.65,877.66 234.34,877.46 233.04,878.41 231.74,879.16 230.44,879.72 229.14,880.12 227.84,880.66 226.54,881.24 225.23,881.51 223.93,882.17 222.63,883.17 221.33,883.3 220.03,884.58 218.73,885.27 217.51,884.97 216.3,884.19 215.08,884.65 213.87,884.12 212.65,883.34 211.35,883.31 210.05,883.18 208.75,883.21 207.45,882.98 206.15,882.36 204.84,882.18 203.54,881.96 202.24,881.61 200.94,881.48 199.64,881.09 198.34,881.29 197.04,881.27 195.73,880.34 194.43,880.18 193.22,881.17 192,881.01 190.79,881.46 189.57,881.89 188.36,882.09 187.14,882.09 185.93,882.09 184.72,882.17 183.5,882.25 182.29,882.66 181.02,882.48 179.76,882.41 178.49,882.35 177.22,882.63 175.96,882.2 174.69,882.86 173.43,882.59 172.16,882.36 170.9,882.58 169.63,882.6 168.37,881.81 167.1,881.59 165.89,881.73 164.67,881.06 163.46,881.18 162.24,880.8 161.03,880.26 159.73,880.26 158.43,878.76 157.12,878.71 155.82,878.38 154.52,876.85 153.22,876.78 151.92,875.61 150.65,875.46 149.39,875.46 148.12,875.03 146.86,874.76 145.59,875.37 144.33,874.7 143.06,874.3 141.8,874.96 140.53,874.54 139.27,874.63 138,873.64 136.73,874.33 135.47,873.49 134.2,873.48 132.94,874.01 131.67,873.95 130.41,874.04 129.14,874.48 127.88,874.68 126.61,874.72 125.35,874.33 124.08,874.43 122.82,874.49 121.55,874.78 120.29,874.38 119.02,874.81 117.76,874.79 116.49,874.84 115.22,875.57 113.96,875.09 112.69,875.44 111.43,875.72 110.16,875.42 108.9,876.05 107.63,875.86 106.37,875.59 105.1,876.36 103.84,876.14 102.57,876.69 101.31,876.11 100.04,876.15 98.78,876.99 97.51,876.72 96.24,876.81 94.98,877.21 93.71,876.96 92.45,877.1 91.18,877.32 89.92,877.13 88.65,877.2 87.39,876.92 86.12,876.78 84.86,876.61 83.59,876.47"/></clipPath>
<polygon points="83.59,853.82 85.11,853.61 86.63,852.16 88.15,852 89.36,853.19 90.58,853.19 91.79,853.24 93.01,852.87 94.22,853.43 95.44,853.58 96.65,853.68 97.86,853.23 99.08,853.75 100.29,853.84 101.51,854.45 102.72,854.97 103.94,855.05 105.15,854.62 106.37,854.62 107.63,854.5 108.9,854.31 110.16,854.42 111.43,855.16 112.69,855.08 113.96,855.29 115.22,856.14 116.49,855.75 117.76,855.93 119.02,855.6 120.29,855.43 121.55,855.98 122.82,855.46 124.08,855.73 125.35,856.16 126.61,855.45 127.88,854.51 129.14,855.25 130.41,854.86 131.67,854.52 132.94,854.51 134.2,854.06 135.47,853.84 136.73,852.98 138,853.73 139.27,853.58 140.53,852.33 141.8,853.03 143.06,852.85 144.33,852.37 145.59,852.34 146.86,852.16 148.12,852.64 149.39,851.92 150.65,852.26 151.92,851.46 153.18,852.07 154.45,851.97 155.71,851.23 156.98,851.25 158.25,851.62 159.51,851.22 160.78,850.76 162.04,850.26 163.31,850.28 164.57,850.68 165.84,849.81 167.1,850.72 168.37,849.77 169.63,850.62 170.9,849.73 172.16,850.58 173.43,850.18 174.69,849.85 175.96,849.82 177.22,849.95 178.49,849.81 179.76,849.38 181.02,849.18 182.29,849.56 183.8,848.33 185.32,850.32 186.54,849.4 187.75,850.29 188.97,850.01 190.18,850.11 191.4,848.96 192.61,849.58 193.83,848.47 195.04,849.15 196.26,848.46 197.47,848.25 198.74,848.98 200,847.72 201.27,848.13 202.53,848.42 203.8,847.39 205.06,847.16 206.33,847.92 207.59,847.1 208.86,847.34 210.12,846.2 211.39,846.49 212.65,846.04 213.92,846.59 215.18,845.62 216.45,846.68 217.71,845.23 218.98,846.06 220.25,844.92 221.51,845.1 222.78,845.73 224.04,844.66 225.31,844.54 226.57,845.1 227.84,844.52 229.14,844.17 230.44,845.63 231.74,844.58 233.04,844.55 234.34,845.11 235.65,845.62 236.95,845.93 238.25,845.48 239.55,846.23 240.85,846.24 242.15,847.26 243.45,848.13 244.76,848.53 246.06,849.19 247.27,849.75 248.49,850.65 249.7,851.19 250.92,851.63 252.13,852.04 253.35,853.41 254.56,853.69 255.78,854.14 256.99,855.39 258.2,856.75 259.51,856.35 260.81,857.64 262.11,858.02 263.41,858.84 264.71,858.98 266.01,860.77 267.31,860.44 268.62,860.71 269.92,860.23 271.22,859.45 272.52,859.99 273.82,859.19 275.12,858.85 276.43,858.6 278.21,858.02 280,857.17 281.27,857.8 282.53,857.5 283.8,858.04 285.06,857.84 286.33,857.8 287.59,856.61 288.86,856.78 290.12,856.38 291.39,856.73 292.65,856.65 293.92,856.77 295.18,856.51 296.45,855.75 297.71,855.86 298.98,855.88 300.24,855.02 301.51,854.94 302.78,855.33 304.04,854.79 305.31,855.52 306.57,854.72 307.84,854.39 309.1,854.38 310.37,854.33 311.58,854.25 312.8,854.61 314.01,854.47 315.23,854.19 316.44,854.6 317.66,853.94 318.87,854.85 320.09,854.86 321.3,854.48 322.51,854 323.73,854.05 324.94,854.09 326.16,853.28 327.37,853.74 328.59,853.83 329.8,853.28 331.02,853.1 332.23,854.03 333.45,853.36 334.66,853.51 335.88,854.02 337.09,853.52 338.31,853.01 339.52,853.92 340.73,853 341.95,852.51 343.16,853.44 344.38,852.63 345.59,852.91 346.81,853.66 348.02,853.43 349.24,852.51 350.45,853.12 351.67,853.06 352.88,853.16 354.1,852.78 355.31,853.31 356.53,852.59 357.74,852.88 358.96,853.01 360.17,853.79 361.38,852.59 362.6,853.54 363.81,852.75 365.03,853.28 366.24,853.03 367.46,853.13 368.67,853.54 369.89,853.04 371.1,852.65 372.32,852.63 373.53,852.55 374.75,853.6 375.96,853.28 377.18,853.71 378.39,853.31 379.61,852.35 380.82,853.21 382.03,853.35 383.25,853.25 384.46,852.91 385.68,852.69 386.89,852.81 388.11,853.26 389.32,852.5 390.54,852.83 391.75,852.74 392.97,853.38 394.18,853.15 395.4,853.3 396.61,853.14 397.83,852.36 399.04,852.25 400.26,852.58 401.47,852.24 402.68,852.44 403.9,852.75 405.11,853.05 406.33,852.55 407.54,852.84 408.76,851.79 409.97,852.12 411.19,852.98 412.4,851.75 413.62,852.1 414.83,851.57 416.05,851.56 417.26,852.66 418.48,852.75 419.69,852.24 420.9,851.47 422.12,851.67 423.33,851.54 424.55,852.12 425.76,852.1 426.98,851.73 428.19,851.81 429.41,851.2 430.62,851.76 431.84,852.3 433.05,851.93 434.27,850.92 435.48,851.42 436.7,851.6 437.91,850.87 439.13,851.67 440.34,850.97 441.55,851.22 442.77,850.71 443.98,851.45 445.2,851.31 446.41,851.18 447.63,850.74 448.84,851.32 450.06,850.91 451.27,851.86 452.49,852.42 453.7,851.6 454.92,852.23 456.13,852.35 457.35,852.4 458.56,852.99 459.78,853.47 460.99,853.31 462.2,853.15 463.42,853.87 464.63,853.03 465.85,853.65 467.06,853.57 468.28,853.75 469.49,853.92 470.71,853.08 471.92,853.68 473.14,853.41 474.35,853.82 475.57,854.3 476.78,853.86 478,853.03 479.21,853.7 480.43,854.09 482.07,854.63 483.29,854.23 484.5,854.39 485.72,853.19 486.93,854.41 488.15,854.04 489.36,853.79 490.58,854.13 491.79,854.03 493.01,852.85 494.22,853.78 495.44,853.63 496.65,852.76 497.86,853.45 499.08,853.15 500.29,852.52 501.51,853.31 502.72,852.3 503.94,852.89 505.15,852.56 506.37,852.23 507.58,852.63 508.8,852.46 510.01,852.05 511.23,853.08 512.44,851.8 513.66,851.66 514.87,852.3 516.09,852.76 517.3,852.47 518.51,852.57 519.73,852.15 520.94,852.38 522.16,851.87 523.37,851.74 524.59,852.03 525.8,851.33 527.02,851.37 528.23,852.28 529.45,851.43 530.66,852.2 531.88,852.21 533.09,851.64 534.31,851.98 535.52,852.1 536.73,852.17 537.95,851.46 539.16,851.8 540.38,852.41 541.59,852.83 542.81,852.9 544.02,852.8 545.24,853.87 546.45,854.75 547.67,854.21 548.88,854.76 550.18,855.4 551.48,856.36 552.79,857.82 554.09,857.9 555.39,859.25 556.69,859.89 557.99,860.83 559.51,862.87 561.03,863.22 562.55,865.78 563.88,864.6 565.2,864.62 566.53,864.38 567.86,863.72 569.19,862.9 570.52,863.07 571.85,861.57 573.18,861.87 574.39,861.34 575.61,861.33 576.82,861.59 578.03,861.31 579.25,860.88 580.46,860.23 581.68,859.93 582.89,860.05 584.11,859.54 585.32,859.4 586.54,860.16 587.75,858.77 588.97,859.57 590.18,858.75 591.4,858.54 592.61,858.27 593.83,857.74 595.04,858.07 596.26,857.47 597.47,857.66 598.74,857.37 600,858.14 601.27,858.1 602.53,857.35 603.8,857.55 605.06,857.88 606.33,856.96 607.59,856.57 608.86,856.69 610.12,856.55 611.39,857.15 612.65,856.65 613.92,856.63 615.18,857.24 616.45,856.45 617.71,857.26 618.98,857.01 620.25,856.69 621.51,857.28 622.78,856.61 624.04,857.36 625.31,857.42 626.57,856.83 627.84,857.09 629.05,857.52 630.27,857.29 631.48,857.36 632.7,857.59 633.91,857.74 635.13,857.55 636.34,857.92 637.55,857.02 638.77,857.55 639.98,857.67 641.2,857.31 642.41,857.41 643.63,857.16 644.84,858.32 646.06,857.53 647.3,857.71 648.54,858.29 649.78,857.3 651.03,858.38 652.27,857.22 653.51,857.08 654.75,857.53 656,857.54 657.24,858.32 658.48,858.28 659.72,858.11 661.24,859.17 662.76,860.84 664.28,862.94 665.8,866.3 667.31,868.21 668.53,869.58 669.74,871.6 670.96,872.43 672.17,874.18 673.39,876.56 673.39,877.16 672.17,877.11 670.96,877.46 669.74,877.66 668.53,877.56 667.31,877.18 666.01,877.24 664.71,877.51 663.41,877.71 662.11,877.73 660.81,877.57 659.51,878.01 658.2,878.17 656.99,878.54 655.78,878.01 654.56,878.44 653.35,878.17 652.13,878.76 650.92,878.94 649.7,878.46 648.49,878.5 647.27,879.39 646.06,879.34 644.84,878.74 643.63,879.07 642.41,879 641.2,878.78 639.98,878.96 638.77,879.22 637.55,879.06 636.34,879.33 635.13,878.8 633.91,878.66 632.65,878.93 631.38,878.36 630.11,878.54 628.85,878.43 627.58,878.49 626.32,878.4 625.05,878.15 623.79,877.56 622.52,877.23 621.26,876.78 619.99,877.26 618.73,876.86 617.51,876.31 616.3,876.21 615.08,876.19 613.87,876.45 612.65,876.83 611.44,876.23 610.22,876.33 609.01,875.72 607.79,875.88 606.58,876.29 605.28,875.85 603.98,876.63 602.68,876.72 601.37,876.69 600.07,877.49 598.77,876.88 597.47,877.43 596.2,876.76 594.94,876.87 593.67,876.89 592.41,876.64 591.14,876.61 589.88,876.24 588.61,875.85 587.35,875.36 586.08,875.27 584.82,875.36 583.55,874.6 582.29,874.75 581.02,874.8 579.76,874.19 578.49,873.97 577.22,874.08 575.96,873.97 574.69,873.33 573.43,873.4 572.16,873.73 570.9,873.16 569.63,873.37 568.37,873.31 567.1,873.04 565.89,872.96 564.67,873.69 563.46,873.84 562.24,873.48 561.03,873.81 559.81,873.93 558.6,873.6 557.38,874.6 556.17,874.44 554.96,874.69 553.65,875.49 552.35,875.75 551.05,876.31 549.75,877.3 548.45,878.15 547.15,878.31 545.85,879.03 544.54,879.27 543.24,879.59 541.94,879.61 540.64,880.21 539.34,879.95 538.04,880.51 536.73,880.26 535.47,880.83 534.2,880.84 532.94,880.94 531.67,881.49 530.41,881.49 529.14,881.08 527.88,880.93 526.61,881.65 525.35,881.97 524.08,882.23 522.82,882.16 521.55,881.75 520.29,881.88 519.02,882.11 517.76,882.22 516.49,882.28 515.22,882.16 513.96,882.56 512.69,882.7 511.43,883.12 510.16,882.92 508.9,882.32 507.63,882.72 506.37,882.57 505.1,882.96 503.84,882.45 502.57,882.86 501.31,882.94 500.04,883.02 498.78,882.43 497.51,882.35 496.24,882.35 494.98,882.33 493.71,882.66 492.45,881.98 491.18,881.99 489.88,881.96 488.58,881.66 487.28,882.45 485.98,881.94 484.68,882.06 483.37,882.05 482.07,881.59 480.43,882.18 479.21,881.81 478,882.03 476.78,881.94 475.57,881.54 474.35,881.72 473.14,881.77 471.92,881.6 470.71,882.13 469.49,881.64 468.28,882.44 467.06,881.94 465.85,882.43 464.63,882.32 463.42,881.78 462.2,881.57 460.99,882.44 459.78,881.83 458.56,882.21 457.35,882.36 456.13,882.5 454.92,882.13 453.7,881.58 452.49,881.7 451.27,882.32 450.06,881.95 448.84,881.97 447.63,882.14 446.41,882.07 445.2,881.61 443.98,882.39 442.77,882.25 441.55,882.53 440.34,882.21 439.13,881.54 437.91,882.37 436.7,881.87 435.48,881.56 434.27,882.5 433.05,882.04 431.84,882.43 430.62,882.3 429.41,882.1 428.19,882.37 426.98,881.75 425.76,882.13 424.55,881.42 423.33,881.88 422.12,882.16 420.9,881.54 419.69,881.52 418.48,882.08 417.26,881.57 416.05,881.72 414.83,881.33 413.62,881.13 412.4,881.39 411.19,881.58 409.97,880.96 408.76,881.4 407.54,880.91 406.33,881.71 405.11,881.38 403.9,881.31 402.68,881.2 401.47,880.94 400.2,880.71 398.94,880.65 397.67,880.95 396.41,880.44 395.14,880.59 393.88,881.05 392.61,880.97 391.35,880.8 390.08,880.95 388.82,880.64 387.55,880.58 386.29,880.12 385.02,880.4 383.76,880.16 382.49,880.34 381.22,879.56 379.96,880.06 378.69,880.2 377.43,879.22 376.16,879.82 374.9,879.41 373.63,878.97 372.37,878.84 371.1,878.88 369.84,878.79 368.57,878.53 367.31,878.94 366.04,878.22 364.78,878 363.51,878.05 362.25,877.39 360.98,877.74 359.71,876.96 358.45,876.94 357.18,876.78 355.92,876.89 354.65,877.17 353.39,877.16 352.12,877.55 350.86,877.48 349.59,877.08 348.33,877.9 347.06,878.04 345.8,877.48 344.53,877.43 343.27,878.3 342,878.28 340.73,878.08 339.52,878.72 338.31,879.47 337.09,879.63 335.88,879.59 334.66,880.39 333.36,880.62 332.06,880.16 330.76,880.15 329.46,880.59 328.15,880.03 326.85,880.85 325.55,880.43 324.29,880.4 323.02,880.26 321.76,880.59 320.49,880.07 319.22,880.08 317.96,880.02 316.69,879.86 315.43,880.48 314.16,879.57 312.9,879.81 311.63,880.29 310.37,879.61 309.1,879.64 307.84,879.94 306.57,880.06 305.31,879.76 304.04,879.64 302.78,879.17 301.51,879.74 300.24,879.4 298.98,878.89 297.71,878.96 296.45,879.15 295.18,878.97 293.92,878.56 292.65,878.72 291.39,878.31 290.12,878.24 288.86,878.34 287.59,878.08 286.33,878.06 285.06,877.93 283.8,878.14 282.53,877.92 281.27,877.88 280,877.18 278.79,877.33 277.59,876.36 276.38,875.66 275.18,875.24 273.97,874.46 272.76,873.78 271.56,873.9 270.35,872.69 269.14,873.12 267.92,872.54 266.71,873.08 265.49,872.88 264.28,873.14 263.06,872.84 261.85,872.84 260.63,872.99 259.42,873.33 258.2,872.7 256.99,873.28 255.78,873.55 254.56,873.09 253.35,873.32 252.13,873.65 250.92,874.23 249.7,874.46 248.49,874.59 247.27,873.98 246.06,874.49 244.76,874.92 243.45,874.74 242.15,875.18 240.85,875.37 239.55,876.27 238.25,876.86 236.95,877.19 235.65,877.66 234.34,877.46 233.04,878.41 231.74,879.16 230.44,879.72 229.14,880.12 227.84,880.66 226.54,881.24 225.23,881.51 223.93,882.17 222.63,883.17 221.33,883.3 220.03,884.58 218.73,885.27 217.51,884.97 216.3,884.19 215.08,884.65 213.87,884.12 212.65,883.34 211.35,883.31 210.05,883.18 208.75,883.21 207.45,882.98 206.15,882.36 204.84,882.18 203.54,881.96 202.24,881.61 200.94,881.48 199.64,881.09 198.34,881.29 197.04,881.27 195.73,880.34 194.43,880.18 193.22,881.17 192,881.01 190.79,881.46 189.57,881.89 188.36,882.09 187.14,882.09 185.93,882.09 184.72,882.17 183.5,882.25 182.29,882.66 181.02,882.48 179.76,882.41 178.49,882.35 177.22,882.63 175.96,882.2 174.69,882.86 173.43,882.59 172.16,882.36 170.9,882.58 169.63,882.6 168.37,881.81 167.1,881.59 165.89,881.73 164.67,881.06 163.46,881.18 162.24,880.8 161.03,880.26 159.73,880.26 158.43,878.76 157.12,878.71 155.82,878.38 154.52,876.85 153.22,876.78 151.92,875.61 150.65,875.46 149.39,875.46 148.12,875.03 146.86,874.76 145.59,875.37 144.33,874.7 143.06,874.3 141.8,874.96 140.53,874.54 139.27,874.63 138,873.64 136.73,874.33 135.47,873.49 134.2,873.48 132.94,874.01 131.67,873.95 130.41,874.04 129.14,874.48 127.88,874.68 126.61,874.72 125.35,874.33 124.08,874.43 122.82,874.49 121.55,874.78 120.29,874.38 119.02,874.81 117.76,874.79 116.49,874.84 115.22,875.57 113.96,875.09 112.69,875.44 111.43,875.72 110.16,875.42 108.9,876.05 107.63,875.86 106.37,875.59 105.1,876.36 103.84,876.14 102.57,876.69 101.31,876.11 100.04,876.15 98.78,876.99 97.51,876.72 96.24,876.81 94.98,877.21 93.71,876.96 92.45,877.1 91.18,877.32 89.92,877.13 88.65,877.2 87.39,876.92 86.12,876.78 84.86,876.61 83.59,876.47" fill="#fff" filter="url(#relief2)"/>
<defs><polyline id="bpe" points="83.59,876.47 84.86,876.61 86.12,876.78 87.39,876.92 88.65,877.2 89.92,877.13 91.18,877.32 92.45,877.1 93.71,876.96 94.98,877.21 96.24,876.81 97.51,876.72 98.78,876.99 100.04,876.15 101.31,876.11 102.57,876.69 103.84,876.14 105.1,876.36 106.37,875.59 107.63,875.86 108.9,876.05 110.16,875.42 111.43,875.72 112.69,875.44 113.96,875.09 115.22,875.57 116.49,874.84 117.76,874.79 119.02,874.81 120.29,874.38 121.55,874.78 122.82,874.49 124.08,874.43 125.35,874.33 126.61,874.72 127.88,874.68 129.14,874.48 130.41,874.04 131.67,873.95 132.94,874.01 134.2,873.48 135.47,873.49 136.73,874.33 138,873.64 139.27,874.63 140.53,874.54 141.8,874.96 143.06,874.3 144.33,874.7 145.59,875.37 146.86,874.76 148.12,875.03 149.39,875.46 150.65,875.46 151.92,875.61 153.22,876.78 154.52,876.85 155.82,878.38 157.12,878.71 158.43,878.76 159.73,880.26 161.03,880.26 162.24,880.8 163.46,881.18 164.67,881.06 165.89,881.73 167.1,881.59 168.37,881.81 169.63,882.6 170.9,882.58 172.16,882.36 173.43,882.59 174.69,882.86 175.96,882.2 177.22,882.63 178.49,882.35 179.76,882.41 181.02,882.48 182.29,882.66 183.5,882.25 184.72,882.17 185.93,882.09 187.14,882.09 188.36,882.09 189.57,881.89 190.79,881.46 192,881.01 193.22,881.17 194.43,880.18 195.73,880.34 197.04,881.27 198.34,881.29 199.64,881.09 200.94,881.48 202.24,881.61 203.54,881.96 204.84,882.18 206.15,882.36 207.45,882.98 208.75,883.21 210.05,883.18 211.35,883.31 212.65,883.34 213.87,884.12 215.08,884.65 216.3,884.19 217.51,884.97 218.73,885.27 220.03,884.58 221.33,883.3 222.63,883.17 223.93,882.17 225.23,881.51 226.54,881.24 227.84,880.66 229.14,880.12 230.44,879.72 231.74,879.16 233.04,878.41 234.34,877.46 235.65,877.66 236.95,877.19 238.25,876.86 239.55,876.27 240.85,875.37 242.15,875.18 243.45,874.74 244.76,874.92 246.06,874.49 247.27,873.98 248.49,874.59 249.7,874.46 250.92,874.23 252.13,873.65 253.35,873.32 254.56,873.09 255.78,873.55 256.99,873.28 258.2,872.7 259.42,873.33 260.63,872.99 261.85,872.84 263.06,872.84 264.28,873.14 265.49,872.88 266.71,873.08 267.92,872.54 269.14,873.12 270.35,872.69 271.56,873.9 272.76,873.78 273.97,874.46 275.18,875.24 276.38,875.66 277.59,876.36 278.79,877.33 280,877.18 281.27,877.88 282.53,877.92 283.8,878.14 285.06,877.93 286.33,878.06 287.59,878.08 288.86,878.34 290.12,878.24 291.39,878.31 292.65,878.72 293.92,878.56 295.18,878.97 296.45,879.15 297.71,878.96 298.98,878.89 300.24,879.4 301.51,879.74 302.78,879.17 304.04,879.64 305.31,879.76 306.57,880.06 307.84,879.94 309.1,879.64 310.37,879.61 311.63,880.29 312.9,879.81 314.16,879.57 315.43,880.48 316.69,879.86 317.96,880.02 319.22,880.08 320.49,880.07 321.76,880.59 323.02,880.26 324.29,880.4 325.55,880.43 326.85,880.85 328.15,880.03 329.46,880.59 330.76,880.15 332.06,880.16 333.36,880.62 334.66,880.39 335.88,879.59 337.09,879.63 338.31,879.47 339.52,878.72 340.73,878.08 342,878.28 343.27,878.3 344.53,877.43 345.8,877.48 347.06,878.04 348.33,877.9 349.59,877.08 350.86,877.48 352.12,877.55 353.39,877.16 354.65,877.17 355.92,876.89 357.18,876.78 358.45,876.94 359.71,876.96 360.98,877.74 362.25,877.39 363.51,878.05 364.78,878 366.04,878.22 367.31,878.94 368.57,878.53 369.84,878.79 371.1,878.88 372.37,878.84 373.63,878.97 374.9,879.41 376.16,879.82 377.43,879.22 378.69,880.2 379.96,880.06 381.22,879.56 382.49,880.34 383.76,880.16 385.02,880.4 386.29,880.12 387.55,880.58 388.82,880.64 390.08,880.95 391.35,880.8 392.61,880.97 393.88,881.05 395.14,880.59 396.41,880.44 397.67,880.95 398.94,880.65 400.2,880.71 401.47,880.94 402.68,881.2 403.9,881.31 405.11,881.38 406.33,881.71 407.54,880.91 408.76,881.4 409.97,880.96 411.19,881.58 412.4,881.39 413.62,881.13 414.83,881.33 416.05,881.72 417.26,881.57 418.48,882.08 419.69,881.52 420.9,881.54 422.12,882.16 423.33,881.88 424.55,881.42 425.76,882.13 426.98,881.75 428.19,882.37 429.41,882.1 430.62,882.3 431.84,882.43 433.05,882.04 434.27,882.5 435.48,881.56 436.7,881.87 437.91,882.37 439.13,881.54 440.34,882.21 441.55,882.53 442.77,882.25 443.98,882.39 445.2,881.61 446.41,882.07 447.63,882.14 448.84,881.97 450.06,881.95 451.27,882.32 452.49,881.7 453.7,881.58 454.92,882.13 456.13,882.5 457.35,882.36 458.56,882.21 459.78,881.83 460.99,882.44 462.2,881.57 463.42,881.78 464.63,882.32 465.85,882.43 467.06,881.94 468.28,882.44 469.49,881.64 470.71,882.13 471.92,881.6 473.14,881.77 474.35,881.72 475.57,881.54 476.78,881.94 478,882.03 479.21,881.81 480.43,882.18 482.07,881.59 483.37,882.05 484.68,882.06 485.98,881.94 487.28,882.45 488.58,881.66 489.88,881.96 491.18,881.99 492.45,881.98 493.71,882.66 494.98,882.33 496.24,882.35 497.51,882.35 498.78,882.43 500.04,883.02 501.31,882.94 502.57,882.86 503.84,882.45 505.1,882.96 506.37,882.57 507.63,882.72 508.9,882.32 510.16,882.92 511.43,883.12 512.69,882.7 513.96,882.56 515.22,882.16 516.49,882.28 517.76,882.22 519.02,882.11 520.29,881.88 521.55,881.75 522.82,882.16 524.08,882.23 525.35,881.97 526.61,881.65 527.88,880.93 529.14,881.08 530.41,881.49 531.67,881.49 532.94,880.94 534.2,880.84 535.47,880.83 536.73,880.26 538.04,880.51 539.34,879.95 540.64,880.21 541.94,879.61 543.24,879.59 544.54,879.27 545.85,879.03 547.15,878.31 548.45,878.15 549.75,877.3 551.05,876.31 552.35,875.75 553.65,875.49 554.96,874.69 556.17,874.44 557.38,874.6 558.6,873.6 559.81,873.93 561.03,873.81 562.24,873.48 563.46,873.84 564.67,873.69 565.89,872.96 567.1,873.04 568.37,873.31 569.63,873.37 570.9,873.16 572.16,873.73 573.43,873.4 574.69,873.33 575.96,873.97 577.22,874.08 578.49,873.97 579.76,874.19 581.02,874.8 582.29,874.75 583.55,874.6 584.82,875.36 586.08,875.27 587.35,875.36 588.61,875.85 589.88,876.24 591.14,876.61 592.41,876.64 593.67,876.89 594.94,876.87 596.2,876.76 597.47,877.43 598.77,876.88 600.07,877.49 601.37,876.69 602.68,876.72 603.98,876.63 605.28,875.85 606.58,876.29 607.79,875.88 609.01,875.72 610.22,876.33 611.44,876.23 612.65,876.83 613.87,876.45 615.08,876.19 616.3,876.21 617.51,876.31 618.73,876.86 619.99,877.26 621.26,876.78 622.52,877.23 623.79,877.56 625.05,878.15 626.32,878.4 627.58,878.49 628.85,878.43 630.11,878.54 631.38,878.36 632.65,878.93 633.91,878.66 635.13,878.8 636.34,879.33 637.55,879.06 638.77,879.22 639.98,878.96 641.2,878.78 642.41,879 643.63,879.07 644.84,878.74 646.06,879.34 647.27,879.39 648.49,878.5 649.7,878.46 650.92,878.94 652.13,878.76 653.35,878.17 654.56,878.44 655.78,878.01 656.99,878.54 658.2,878.17 659.51,878.01 660.81,877.57 662.11,877.73 663.41,877.71 664.71,877.51 666.01,877.24 667.31,877.18 668.53,877.56 669.74,877.66 670.96,877.46 672.17,877.11 673.39,877.16" fill="none" stroke-width="1.3"/></defs>
<g clip-path="url(#cle)">
<use href="#bpe" transform="translate(0,13)" stroke="rgb(1,1,1)"/>
<use href="#bpe" transform="translate(0,12)" stroke="rgb(5,5,5)"/>
<use href="#bpe" transform="translate(0,11)" stroke="rgb(9,9,9)"/>
<use href="#bpe" transform="translate(0,10)" stroke="rgb(15,15,15)"/>
<use href="#bpe" transform="translate(0,9)" stroke="rgb(22,22,22)"/>
<use href="#bpe" transform="translate(0,8)" stroke="rgb(29,29,29)"/>
<use href="#bpe" transform="translate(0,7)" stroke="rgb(37,37,37)"/>
<use href="#bpe" transform="translate(0,6)" stroke="rgb(46,46,46)"/>
<use href="#bpe" transform="translate(0,5)" stroke="rgb(56,56,56)"/>
<use href="#bpe" transform="translate(0,4)" stroke="rgb(67,67,67)"/>
<use href="#bpe" transform="translate(0,3)" stroke="rgb(78,78,78)"/>
<use href="#bpe" transform="translate(0,2)" stroke="rgb(89,89,89)"/>
<use href="#bpe" transform="translate(0,1)" stroke="rgb(102,102,102)"/>
</g>
<clipPath id="cle"><rect x="77" y="839.5" width="605.5" height="66.0"/></clipPath>
<polygon points="83.59,876.47 84.86,876.61 86.12,876.78 87.39,876.92 88.65,877.2 89.92,877.13 91.18,877.32 92.45,877.1 93.71,876.96 94.98,877.21 96.24,876.81 97.51,876.72 98.78,876.99 100.04,876.15 101.31,876.11 102.57,876.69 103.84,876.14 105.1,876.36 106.37,875.59 107.63,875.86 108.9,876.05 110.16,875.42 111.43,875.72 112.69,875.44 113.96,875.09 115.22,875.57 116.49,874.84 117.76,874.79 119.02,874.81 120.29,874.38 121.55,874.78 122.82,874.49 124.08,874.43 125.35,874.33 126.61,874.72 127.88,874.68 129.14,874.48 130.41,874.04 131.67,873.95 132.94,874.01 134.2,873.48 135.47,873.49 136.73,874.33 138,873.64 139.27,874.63 140.53,874.54 141.8,874.96 143.06,874.3 144.33,874.7 145.59,875.37 146.86,874.76 148.12,875.03 149.39,875.46 150.65,875.46 151.92,875.61 153.22,876.78 154.52,876.85 155.82,878.38 157.12,878.71 158.43,878.76 159.73,880.26 161.03,880.26 162.24,880.8 163.46,881.18 164.67,881.06 165.89,881.73 167.1,881.59 168.37,881.81 169.63,882.6 170.9,882.58 172.16,882.36 173.43,882.59 174.69,882.86 175.96,882.2 177.22,882.63 178.49,882.35 179.76,882.41 181.02,882.48 182.29,882.66 183.5,882.25 184.72,882.17 185.93,882.09 187.14,882.09 188.36,882.09 189.57,881.89 190.79,881.46 192,881.01 193.22,881.17 194.43,880.18 195.73,880.34 197.04,881.27 198.34,881.29 199.64,881.09 200.94,881.48 202.24,881.61 203.54,881.96 204.84,882.18 206.15,882.36 207.45,882.98 208.75,883.21 210.05,883.18 211.35,883.31 212.65,883.34 213.87,884.12 215.08,884.65 216.3,884.19 217.51,884.97 218.73,885.27 220.03,884.58 221.33,883.3 222.63,883.17 223.93,882.17 225.23,881.51 226.54,881.24 227.84,880.66 229.14,880.12 230.44,879.72 231.74,879.16 233.04,878.41 234.34,877.46 235.65,877.66 236.95,877.19 238.25,876.86 239.55,876.27 240.85,875.37 242.15,875.18 243.45,874.74 244.76,874.92 246.06,874.49 247.27,873.98 248.49,874.59 249.7,874.46 250.92,874.23 252.13,873.65 253.35,873.32 254.56,873.09 255.78,873.55 256.99,873.28 258.2,872.7 259.42,873.33 260.63,872.99 261.85,872.84 263.06,872.84 264.28,873.14 265.49,872.88 266.71,873.08 267.92,872.54 269.14,873.12 270.35,872.69 271.56,873.9 272.76,873.78 273.97,874.46 275.18,875.24 276.38,875.66 277.59,876.36 278.79,877.33 280,877.18 281.27,877.88 282.53,877.92 283.8,878.14 285.06,877.93 286.33,878.06 287.59,878.08 288.86,878.34 290.12,878.24 291.39,878.31 292.65,878.72 293.92,878.56 295.18,878.97 296.45,879.15 297.71,878.96 298.98,878.89 300.24,879.4 301.51,879.74 302.78,879.17 304.04,879.64 305.31,879.76 306.57,880.06 307.84,879.94 309.1,879.64 310.37,879.61 311.63,880.29 312.9,879.81 314.16,879.57 315.43,880.48 316.69,879.86 317.96,880.02 319.22,880.08 320.49,880.07 321.76,880.59 323.02,880.26 324.29,880.4 325.55,880.43 326.85,880.85 328.15,880.03 329.46,880.59 330.76,880.15 332.06,880.16 333.36,880.62 334.66,880.39 335.88,879.59 337.09,879.63 338.31,879.47 339.52,878.72 340.73,878.08 342,878.28 343.27,878.3 344.53,877.43 345.8,877.48 347.06,878.04 348.33,877.9 349.59,877.08 350.86,877.48 352.12,877.55 353.39,877.16 354.65,877.17 355.92,876.89 357.18,876.78 358.45,876.94 359.71,876.96 360.98,877.74 362.25,877.39 363.51,878.05 364.78,878 366.04,878.22 367.31,878.94 368.57,878.53 369.84,878.79 371.1,878.88 372.37,878.84 373.63,878.97 374.9,879.41 376.16,879.82 377.43,879.22 378.69,880.2 379.96,880.06 381.22,879.56 382.49,880.34 383.76,880.16 385.02,880.4 386.29,880.12 387.55,880.58 388.82,880.64 390.08,880.95 391.35,880.8 392.61,880.97 393.88,881.05 395.14,880.59 396.41,880.44 397.67,880.95 398.94,880.65 400.2,880.71 401.47,880.94 402.68,881.2 403.9,881.31 405.11,881.38 406.33,881.71 407.54,880.91 408.76,881.4 409.97,880.96 411.19,881.58 412.4,881.39 413.62,881.13 414.83,881.33 416.05,881.72 417.26,881.57 418.48,882.08 419.69,881.52 420.9,881.54 422.12,882.16 423.33,881.88 424.55,881.42 425.76,882.13 426.98,881.75 428.19,882.37 429.41,882.1 430.62,882.3 431.84,882.43 433.05,882.04 434.27,882.5 435.48,881.56 436.7,881.87 437.91,882.37 439.13,881.54 440.34,882.21 441.55,882.53 442.77,882.25 443.98,882.39 445.2,881.61 446.41,882.07 447.63,882.14 448.84,881.97 450.06,881.95 451.27,882.32 452.49,881.7 453.7,881.58 454.92,882.13 456.13,882.5 457.35,882.36 458.56,882.21 459.78,881.83 460.99,882.44 462.2,881.57 463.42,881.78 464.63,882.32 465.85,882.43 467.06,881.94 468.28,882.44 469.49,881.64 470.71,882.13 471.92,881.6 473.14,881.77 474.35,881.72 475.57,881.54 476.78,881.94 478,882.03 479.21,881.81 480.43,882.18 482.07,881.59 483.37,882.05 484.68,882.06 485.98,881.94 487.28,882.45 488.58,881.66 489.88,881.96 491.18,881.99 492.45,881.98 493.71,882.66 494.98,882.33 496.24,882.35 497.51,882.35 498.78,882.43 500.04,883.02 501.31,882.94 502.57,882.86 503.84,882.45 505.1,882.96 506.37,882.57 507.63,882.72 508.9,882.32 510.16,882.92 511.43,883.12 512.69,882.7 513.96,882.56 515.22,882.16 516.49,882.28 517.76,882.22 519.02,882.11 520.29,881.88 521.55,881.75 522.82,882.16 524.08,882.23 525.35,881.97 526.61,881.65 527.88,880.93 529.14,881.08 530.41,881.49 531.67,881.49 532.94,880.94 534.2,880.84 535.47,880.83 536.73,880.26 538.04,880.51 539.34,879.95 540.64,880.21 541.94,879.61 543.24,879.59 544.54,879.27 545.85,879.03 547.15,878.31 548.45,878.15 549.75,877.3 551.05,876.31 552.35,875.75 553.65,875.49 554.96,874.69 556.17,874.44 557.38,874.6 558.6,873.6 559.81,873.93 561.03,873.81 562.24,873.48 563.46,873.84 564.67,873.69 565.89,872.96 567.1,873.04 568.37,873.31 569.63,873.37 570.9,873.16 572.16,873.73 573.43,873.4 574.69,873.33 575.96,873.97 577.22,874.08 578.49,873.97 579.76,874.19 581.02,874.8 582.29,874.75 583.55,874.6 584.82,875.36 586.08,875.27 587.35,875.36 588.61,875.85 589.88,876.24 591.14,876.61 592.41,876.64 593.67,876.89 594.94,876.87 596.2,876.76 597.47,877.43 598.77,876.88 600.07,877.49 601.37,876.69 602.68,876.72 603.98,876.63 605.28,875.85 606.58,876.29 607.79,875.88 609.01,875.72 610.22,876.33 611.44,876.23 612.65,876.83 613.87,876.45 615.08,876.19 616.3,876.21 617.51,876.31 618.73,876.86 619.99,877.26 621.26,876.78 622.52,877.23 623.79,877.56 625.05,878.15 626.32,878.4 627.58,878.49 628.85,878.43 630.11,878.54 631.38,878.36 632.65,878.93 633.91,878.66 635.13,878.8 636.34,879.33 637.55,879.06 638.77,879.22 639.98,878.96 641.2,878.78 642.41,879 643.63,879.07 644.84,878.74 646.06,879.34 647.27,879.39 648.49,878.5 649.7,878.46 650.92,878.94 652.13,878.76 653.35,878.17 654.56,878.44 655.78,878.01 656.99,878.54 658.2,878.17 659.51,878.01 660.81,877.57 662.11,877.73 663.41,877.71 664.71,877.51 666.01,877.24 667.31,877.18 668.53,877.56 669.74,877.66 670.96,877.46 672.17,877.11 673.39,877.16 673.39,890.16 672.17,890.11 670.96,890.46 669.74,890.66 668.53,890.56 667.31,890.18 666.01,890.24 664.71,890.51 663.41,890.71 662.11,890.73 660.81,890.57 659.51,891.01 658.2,891.17 656.99,891.54 655.78,891.01 654.56,891.44 653.35,891.17 652.13,891.76 650.92,891.94 649.7,891.46 648.49,891.5 647.27,892.39 646.06,892.34 644.84,891.74 643.63,892.07 642.41,892 641.2,891.78 639.98,891.96 638.77,892.22 637.55,892.06 636.34,892.33 635.13,891.8 633.91,891.66 632.65,891.93 631.38,891.36 630.11,891.54 628.85,891.43 627.58,891.49 626.32,891.4 625.05,891.15 623.79,890.56 622.52,890.23 621.26,889.78 619.99,890.26 618.73,889.86 617.51,889.31 616.3,889.21 615.08,889.19 613.87,889.45 612.65,889.83 611.44,889.23 610.22,889.33 609.01,888.72 607.79,888.88 606.58,889.29 605.28,888.85 603.98,889.63 602.68,889.72 601.37,889.69 600.07,890.49 598.77,889.88 597.47,890.43 596.2,889.76 594.94,889.87 593.67,889.89 592.41,889.64 591.14,889.61 589.88,889.24 588.61,888.85 587.35,888.36 586.08,888.27 584.82,888.36 583.55,887.6 582.29,887.75 581.02,887.8 579.76,887.19 578.49,886.97 577.22,887.08 575.96,886.97 574.69,886.33 573.43,886.4 572.16,886.73 570.9,886.16 569.63,886.37 568.37,886.31 567.1,886.04 565.89,885.96 564.67,886.69 563.46,886.84 562.24,886.48 561.03,886.81 559.81,886.93 558.6,886.6 557.38,887.6 556.17,887.44 554.96,887.69 553.65,888.49 552.35,888.75 551.05,889.31 549.75,890.3 548.45,891.15 547.15,891.31 545.85,892.03 544.54,892.27 543.24,892.59 541.94,892.61 540.64,893.21 539.34,892.95 538.04,893.51 536.73,893.26 535.47,893.83 534.2,893.84 532.94,893.94 531.67,894.49 530.41,894.49 529.14,894.08 527.88,893.93 526.61,894.65 525.35,894.97 524.08,895.23 522.82,895.16 521.55,894.75 520.29,894.88 519.02,895.11 517.76,895.22 516.49,895.28 515.22,895.16 513.96,895.56 512.69,895.7 511.43,896.12 510.16,895.92 508.9,895.32 507.63,895.72 506.37,895.57 505.1,895.96 503.84,895.45 502.57,895.86 501.31,895.94 500.04,896.02 498.78,895.43 497.51,895.35 496.24,895.35 494.98,895.33 493.71,895.66 492.45,894.98 491.18,894.99 489.88,894.96 488.58,894.66 487.28,895.45 485.98,894.94 484.68,895.06 483.37,895.05 482.07,894.59 480.43,895.18 479.21,894.81 478,895.03 476.78,894.94 475.57,894.54 474.35,894.72 473.14,894.77 471.92,894.6 470.71,895.13 469.49,894.64 468.28,895.44 467.06,894.94 465.85,895.43 464.63,895.32 463.42,894.78 462.2,894.57 460.99,895.44 459.78,894.83 458.56,895.21 457.35,895.36 456.13,895.5 454.92,895.13 453.7,894.58 452.49,894.7 451.27,895.32 450.06,894.95 448.84,894.97 447.63,895.14 446.41,895.07 445.2,894.61 443.98,895.39 442.77,895.25 441.55,895.53 440.34,895.21 439.13,894.54 437.91,895.37 436.7,894.87 435.48,894.56 434.27,895.5 433.05,895.04 431.84,895.43 430.62,895.3 429.41,895.1 428.19,895.37 426.98,894.75 425.76,895.13 424.55,894.42 423.33,894.88 422.12,895.16 420.9,894.54 419.69,894.52 418.48,895.08 417.26,894.57 416.05,894.72 414.83,894.33 413.62,894.13 412.4,894.39 411.19,894.58 409.97,893.96 408.76,894.4 407.54,893.91 406.33,894.71 405.11,894.38 403.9,894.31 402.68,894.2 401.47,893.94 400.2,893.71 398.94,893.65 397.67,893.95 396.41,893.44 395.14,893.59 393.88,894.05 392.61,893.97 391.35,893.8 390.08,893.95 388.82,893.64 387.55,893.58 386.29,893.12 385.02,893.4 383.76,893.16 382.49,893.34 381.22,892.56 379.96,893.06 378.69,893.2 377.43,892.22 376.16,892.82 374.9,892.41 373.63,891.97 372.37,891.84 371.1,891.88 369.84,891.79 368.57,891.53 367.31,891.94 366.04,891.22 364.78,891 363.51,891.05 362.25,890.39 360.98,890.74 359.71,889.96 358.45,889.94 357.18,889.78 355.92,889.89 354.65,890.17 353.39,890.16 352.12,890.55 350.86,890.48 349.59,890.08 348.33,890.9 347.06,891.04 345.8,890.48 344.53,890.43 343.27,891.3 342,891.28 340.73,891.08 339.52,891.72 338.31,892.47 337.09,892.63 335.88,892.59 334.66,893.39 333.36,893.62 332.06,893.16 330.76,893.15 329.46,893.59 328.15,893.03 326.85,893.85 325.55,893.43 324.29,893.4 323.02,893.26 321.76,893.59 320.49,893.07 319.22,893.08 317.96,893.02 316.69,892.86 315.43,893.48 314.16,892.57 312.9,892.81 311.63,893.29 310.37,892.61 309.1,892.64 307.84,892.94 306.57,893.06 305.31,892.76 304.04,892.64 302.78,892.17 301.51,892.74 300.24,892.4 298.98,891.89 297.71,891.96 296.45,892.15 295.18,891.97 293.92,891.56 292.65,891.72 291.39,891.31 290.12,891.24 288.86,891.34 287.59,891.08 286.33,891.06 285.06,890.93 283.8,891.14 282.53,890.92 281.27,890.88 280,890.18 278.79,890.33 277.59,889.36 276.38,888.66 275.18,888.24 273.97,887.46 272.76,886.78 271.56,886.9 270.35,885.69 269.14,886.12 267.92,885.54 266.71,886.08 265.49,885.88 264.28,886.14 263.06,885.84 261.85,885.84 260.63,885.99 259.42,886.33 258.2,885.7 256.99,886.28 255.78,886.55 254.56,886.09 253.35,886.32 252.13,886.65 250.92,887.23 249.7,887.46 248.49,887.59 247.27,886.98 246.06,887.49 244.76,887.92 243.45,887.74 242.15,888.18 240.85,888.37 239.55,889.27 238.25,889.86 236.95,890.19 235.65,890.66 234.34,890.46 233.04,891.41 231.74,892.16 230.44,892.72 229.14,893.12 227.84,893.66 226.54,894.24 225.23,894.51 223.93,895.17 222.63,896.17 221.33,896.3 220.03,897.58 218.73,898.27 217.51,897.97 216.3,897.19 215.08,897.65 213.87,897.12 212.65,896.34 211.35,896.31 210.05,896.18 208.75,896.21 207.45,895.98 206.15,895.36 204.84,895.18 203.54,894.96 202.24,894.61 200.94,894.48 199.64,894.09 198.34,894.29 197.04,894.27 195.73,893.34 194.43,893.18 193.22,894.17 192,894.01 190.79,894.46 189.57,894.89 188.36,895.09 187.14,895.09 185.93,895.09 184.72,895.17 183.5,895.25 182.29,895.66 181.02,895.48 179.76,895.41 178.49,895.35 177.22,895.63 175.96,895.2 174.69,895.86 173.43,895.59 172.16,895.36 170.9,895.58 169.63,895.6 168.37,894.81 167.1,894.59 165.89,894.73 164.67,894.06 163.46,894.18 162.24,893.8 161.03,893.26 159.73,893.26 158.43,891.76 157.12,891.71 155.82,891.38 154.52,889.85 153.22,889.78 151.92,888.61 150.65,888.46 149.39,888.46 148.12,888.03 146.86,887.76 145.59,888.37 144.33,887.7 143.06,887.3 141.8,887.96 140.53,887.54 139.27,887.63 138,886.64 136.73,887.33 135.47,886.49 134.2,886.48 132.94,887.01 131.67,886.95 130.41,887.04 129.14,887.48 127.88,887.68 126.61,887.72 125.35,887.33 124.08,887.43 122.82,887.49 121.55,887.78 120.29,887.38 119.02,887.81 117.76,887.79 116.49,887.84 115.22,888.57 113.96,888.09 112.69,888.44 111.43,888.72 110.16,888.42 108.9,889.05 107.63,888.86 106.37,888.59 105.1,889.36 103.84,889.14 102.57,889.69 101.31,889.11 100.04,889.15 98.78,889.99 97.51,889.72 96.24,889.81 94.98,890.21 93.71,889.96 92.45,890.1 91.18,890.32 89.92,890.13 88.65,890.2 87.39,889.92 86.12,889.78 84.86,889.61 83.59,889.47" fill="#000" filter="url(#streak)" opacity="0.3" clip-path="url(#cle)"/>
<polyline points="83.59,876.47 84.86,876.61 86.12,876.78 87.39,876.92 88.65,877.2 89.92,877.13 91.18,877.32 92.45,877.1 93.71,876.96 94.98,877.21 96.24,876.81 97.51,876.72 98.78,876.99 100.04,876.15 101.31,876.11 102.57,876.69 103.84,876.14 105.1,876.36 106.37,875.59 107.63,875.86 108.9,876.05 110.16,875.42 111.43,875.72 112.69,875.44 113.96,875.09 115.22,875.57 116.49,874.84 117.76,874.79 119.02,874.81 120.29,874.38 121.55,874.78 122.82,874.49 124.08,874.43 125.35,874.33 126.61,874.72 127.88,874.68 129.14,874.48 130.41,874.04 131.67,873.95 132.94,874.01 134.2,873.48 135.47,873.49 136.73,874.33 138,873.64 139.27,874.63 140.53,874.54 141.8,874.96 143.06,874.3 144.33,874.7 145.59,875.37 146.86,874.76 148.12,875.03 149.39,875.46 150.65,875.46 151.92,875.61 153.22,876.78 154.52,876.85 155.82,878.38 157.12,878.71 158.43,878.76 159.73,880.26 161.03,880.26 162.24,880.8 163.46,881.18 164.67,881.06 165.89,881.73 167.1,881.59 168.37,881.81 169.63,882.6 170.9,882.58 172.16,882.36 173.43,882.59 174.69,882.86 175.96,882.2 177.22,882.63 178.49,882.35 179.76,882.41 181.02,882.48 182.29,882.66 183.5,882.25 184.72,882.17 185.93,882.09 187.14,882.09 188.36,882.09 189.57,881.89 190.79,881.46 192,881.01 193.22,881.17 194.43,880.18 195.73,880.34 197.04,881.27 198.34,881.29 199.64,881.09 200.94,881.48 202.24,881.61 203.54,881.96 204.84,882.18 206.15,882.36 207.45,882.98 208.75,883.21 210.05,883.18 211.35,883.31 212.65,883.34 213.87,884.12 215.08,884.65 216.3,884.19 217.51,884.97 218.73,885.27 220.03,884.58 221.33,883.3 222.63,883.17 223.93,882.17 225.23,881.51 226.54,881.24 227.84,880.66 229.14,880.12 230.44,879.72 231.74,879.16 233.04,878.41 234.34,877.46 235.65,877.66 236.95,877.19 238.25,876.86 239.55,876.27 240.85,875.37 242.15,875.18 243.45,874.74 244.76,874.92 246.06,874.49 247.27,873.98 248.49,874.59 249.7,874.46 250.92,874.23 252.13,873.65 253.35,873.32 254.56,873.09 255.78,873.55 256.99,873.28 258.2,872.7 259.42,873.33 260.63,872.99 261.85,872.84 263.06,872.84 264.28,873.14 265.49,872.88 266.71,873.08 267.92,872.54 269.14,873.12 270.35,872.69 271.56,873.9 272.76,873.78 273.97,874.46 275.18,875.24 276.38,875.66 277.59,876.36 278.79,877.33 280,877.18 281.27,877.88 282.53,877.92 283.8,878.14 285.06,877.93 286.33,878.06 287.59,878.08 288.86,878.34 290.12,878.24 291.39,878.31 292.65,878.72 293.92,878.56 295.18,878.97 296.45,879.15 297.71,878.96 298.98,878.89 300.24,879.4 301.51,879.74 302.78,879.17 304.04,879.64 305.31,879.76 306.57,880.06 307.84,879.94 309.1,879.64 310.37,879.61 311.63,880.29 312.9,879.81 314.16,879.57 315.43,880.48 316.69,879.86 317.96,880.02 319.22,880.08 320.49,880.07 321.76,880.59 323.02,880.26 324.29,880.4 325.55,880.43 326.85,880.85 328.15,880.03 329.46,880.59 330.76,880.15 332.06,880.16 333.36,880.62 334.66,880.39 335.88,879.59 337.09,879.63 338.31,879.47 339.52,878.72 340.73,878.08 342,878.28 343.27,878.3 344.53,877.43 345.8,877.48 347.06,878.04 348.33,877.9 349.59,877.08 350.86,877.48 352.12,877.55 353.39,877.16 354.65,877.17 355.92,876.89 357.18,876.78 358.45,876.94 359.71,876.96 360.98,877.74 362.25,877.39 363.51,878.05 364.78,878 366.04,878.22 367.31,878.94 368.57,878.53 369.84,878.79 371.1,878.88 372.37,878.84 373.63,878.97 374.9,879.41 376.16,879.82 377.43,879.22 378.69,880.2 379.96,880.06 381.22,879.56 382.49,880.34 383.76,880.16 385.02,880.4 386.29,880.12 387.55,880.58 388.82,880.64 390.08,880.95 391.35,880.8 392.61,880.97 393.88,881.05 395.14,880.59 396.41,880.44 397.67,880.95 398.94,880.65 400.2,880.71 401.47,880.94 402.68,881.2 403.9,881.31 405.11,881.38 406.33,881.71 407.54,880.91 408.76,881.4 409.97,880.96 411.19,881.58 412.4,881.39 413.62,881.13 414.83,881.33 416.05,881.72 417.26,881.57 418.48,882.08 419.69,881.52 420.9,881.54 422.12,882.16 423.33,881.88 424.55,881.42 425.76,882.13 426.98,881.75 428.19,882.37 429.41,882.1 430.62,882.3 431.84,882.43 433.05,882.04 434.27,882.5 435.48,881.56 436.7,881.87 437.91,882.37 439.13,881.54 440.34,882.21 441.55,882.53 442.77,882.25 443.98,882.39 445.2,881.61 446.41,882.07 447.63,882.14 448.84,881.97 450.06,881.95 451.27,882.32 452.49,881.7 453.7,881.58 454.92,882.13 456.13,882.5 457.35,882.36 458.56,882.21 459.78,881.83 460.99,882.44 462.2,881.57 463.42,881.78 464.63,882.32 465.85,882.43 467.06,881.94 468.28,882.44 469.49,881.64 470.71,882.13 471.92,881.6 473.14,881.77 474.35,881.72 475.57,881.54 476.78,881.94 478,882.03 479.21,881.81 480.43,882.18 482.07,881.59 483.37,882.05 484.68,882.06 485.98,881.94 487.28,882.45 488.58,881.66 489.88,881.96 491.18,881.99 492.45,881.98 493.71,882.66 494.98,882.33 496.24,882.35 497.51,882.35 498.78,882.43 500.04,883.02 501.31,882.94 502.57,882.86 503.84,882.45 505.1,882.96 506.37,882.57 507.63,882.72 508.9,882.32 510.16,882.92 511.43,883.12 512.69,882.7 513.96,882.56 515.22,882.16 516.49,882.28 517.76,882.22 519.02,882.11 520.29,881.88 521.55,881.75 522.82,882.16 524.08,882.23 525.35,881.97 526.61,881.65 527.88,880.93 529.14,881.08 530.41,881.49 531.67,881.49 532.94,880.94 534.2,880.84 535.47,880.83 536.73,880.26 538.04,880.51 539.34,879.95 540.64,880.21 541.94,879.61 543.24,879.59 544.54,879.27 545.85,879.03 547.15,878.31 548.45,878.15 549.75,877.3 551.05,876.31 552.35,875.75 553.65,875.49 554.96,874.69 556.17,874.44 557.38,874.6 558.6,873.6 559.81,873.93 561.03,873.81 562.24,873.48 563.46,873.84 564.67,873.69 565.89,872.96 567.1,873.04 568.37,873.31 569.63,873.37 570.9,873.16 572.16,873.73 573.43,873.4 574.69,873.33 575.96,873.97 577.22,874.08 578.49,873.97 579.76,874.19 581.02,874.8 582.29,874.75 583.55,874.6 584.82,875.36 586.08,875.27 587.35,875.36 588.61,875.85 589.88,876.24 591.14,876.61 592.41,876.64 593.67,876.89 594.94,876.87 596.2,876.76 597.47,877.43 598.77,876.88 600.07,877.49 601.37,876.69 602.68,876.72 603.98,876.63 605.28,875.85 606.58,876.29 607.79,875.88 609.01,875.72 610.22,876.33 611.44,876.23 612.65,876.83 613.87,876.45 615.08,876.19 616.3,876.21 617.51,876.31 618.73,876.86 619.99,877.26 621.26,876.78 622.52,877.23 623.79,877.56 625.05,878.15 626.32,878.4 627.58,878.49 628.85,878.43 630.11,878.54 631.38,878.36 632.65,878.93 633.91,878.66 635.13,878.8 636.34,879.33 637.55,879.06 638.77,879.22 639.98,878.96 641.2,878.78 642.41,879 643.63,879.07 644.84,878.74 646.06,879.34 647.27,879.39 648.49,878.5 649.7,878.46 650.92,878.94 652.13,878.76 653.35,878.17 654.56,878.44 655.78,878.01 656.99,878.54 658.2,878.17 659.51,878.01 660.81,877.57 662.11,877.73 663.41,877.71 664.71,877.51 666.01,877.24 667.31,877.18 668.53,877.56 669.74,877.66 670.96,877.46 672.17,877.11 673.39,877.16" fill="none" stroke="#e8e8e8" stroke-width="2.2" stroke-linejoin="round" filter="url(#bl)"/>
<polyline points="83.59,853.82 85.11,853.61 86.63,852.16 88.15,852 89.36,853.19 90.58,853.19 91.79,853.24 93.01,852.87 94.22,853.43 95.44,853.58 96.65,853.68 97.86,853.23 99.08,853.75 100.29,853.84 101.51,854.45 102.72,854.97 103.94,855.05 105.15,854.62 106.37,854.62 107.63,854.5 108.9,854.31 110.16,854.42 111.43,855.16 112.69,855.08 113.96,855.29 115.22,856.14 116.49,855.75 117.76,855.93 119.02,855.6 120.29,855.43 121.55,855.98 122.82,855.46 124.08,855.73 125.35,856.16 126.61,855.45 127.88,854.51 129.14,855.25 130.41,854.86 131.67,854.52 132.94,854.51 134.2,854.06 135.47,853.84 136.73,852.98 138,853.73 139.27,853.58 140.53,852.33 141.8,853.03 143.06,852.85 144.33,852.37 145.59,852.34 146.86,852.16 148.12,852.64 149.39,851.92 150.65,852.26 151.92,851.46 153.18,852.07 154.45,851.97 155.71,851.23 156.98,851.25 158.25,851.62 159.51,851.22 160.78,850.76 162.04,850.26 163.31,850.28 164.57,850.68 165.84,849.81 167.1,850.72 168.37,849.77 169.63,850.62 170.9,849.73 172.16,850.58 173.43,850.18 174.69,849.85 175.96,849.82 177.22,849.95 178.49,849.81 179.76,849.38 181.02,849.18 182.29,849.56 183.8,848.33 185.32,850.32 186.54,849.4 187.75,850.29 188.97,850.01 190.18,850.11 191.4,848.96 192.61,849.58 193.83,848.47 195.04,849.15 196.26,848.46 197.47,848.25 198.74,848.98 200,847.72 201.27,848.13 202.53,848.42 203.8,847.39 205.06,847.16 206.33,847.92 207.59,847.1 208.86,847.34 210.12,846.2 211.39,846.49 212.65,846.04 213.92,846.59 215.18,845.62 216.45,846.68 217.71,845.23 218.98,846.06 220.25,844.92 221.51,845.1 222.78,845.73 224.04,844.66 225.31,844.54 226.57,845.1 227.84,844.52 229.14,844.17 230.44,845.63 231.74,844.58 233.04,844.55 234.34,845.11 235.65,845.62 236.95,845.93 238.25,845.48 239.55,846.23 240.85,846.24 242.15,847.26 243.45,848.13 244.76,848.53 246.06,849.19 247.27,849.75 248.49,850.65 249.7,851.19 250.92,851.63 252.13,852.04 253.35,853.41 254.56,853.69 255.78,854.14 256.99,855.39 258.2,856.75 259.51,856.35 260.81,857.64 262.11,858.02 263.41,858.84 264.71,858.98 266.01,860.77 267.31,860.44 268.62,860.71 269.92,860.23 271.22,859.45 272.52,859.99 273.82,859.19 275.12,858.85 276.43,858.6 278.21,858.02 280,857.17 281.27,857.8 282.53,857.5 283.8,858.04 285.06,857.84 286.33,857.8 287.59,856.61 288.86,856.78 290.12,856.38 291.39,856.73 292.65,856.65 293.92,856.77 295.18,856.51 296.45,855.75 297.71,855.86 298.98,855.88 300.24,855.02 301.51,854.94 302.78,855.33 304.04,854.79 305.31,855.52 306.57,854.72 307.84,854.39 309.1,854.38 310.37,854.33 311.58,854.25 312.8,854.61 314.01,854.47 315.23,854.19 316.44,854.6 317.66,853.94 318.87,854.85 320.09,854.86 321.3,854.48 322.51,854 323.73,854.05 324.94,854.09 326.16,853.28 327.37,853.74 328.59,853.83 329.8,853.28 331.02,853.1 332.23,854.03 333.45,853.36 334.66,853.51 335.88,854.02 337.09,853.52 338.31,853.01 339.52,853.92 340.73,853 341.95,852.51 343.16,853.44 344.38,852.63 345.59,852.91 346.81,853.66 348.02,853.43 349.24,852.51 350.45,853.12 351.67,853.06 352.88,853.16 354.1,852.78 355.31,853.31 356.53,852.59 357.74,852.88 358.96,853.01 360.17,853.79 361.38,852.59 362.6,853.54 363.81,852.75 365.03,853.28 366.24,853.03 367.46,853.13 368.67,853.54 369.89,853.04 371.1,852.65 372.32,852.63 373.53,852.55 374.75,853.6 375.96,853.28 377.18,853.71 378.39,853.31 379.61,852.35 380.82,853.21 382.03,853.35 383.25,853.25 384.46,852.91 385.68,852.69 386.89,852.81 388.11,853.26 389.32,852.5 390.54,852.83 391.75,852.74 392.97,853.38 394.18,853.15 395.4,853.3 396.61,853.14 397.83,852.36 399.04,852.25 400.26,852.58 401.47,852.24 402.68,852.44 403.9,852.75 405.11,853.05 406.33,852.55 407.54,852.84 408.76,851.79 409.97,852.12 411.19,852.98 412.4,851.75 413.62,852.1 414.83,851.57 416.05,851.56 417.26,852.66 418.48,852.75 419.69,852.24 420.9,851.47 422.12,851.67 423.33,851.54 424.55,852.12 425.76,852.1 426.98,851.73 428.19,851.81 429.41,851.2 430.62,851.76 431.84,852.3 433.05,851.93 434.27,850.92 435.48,851.42 436.7,851.6 437.91,850.87 439.13,851.67 440.34,850.97 441.55,851.22 442.77,850.71 443.98,851.45 445.2,851.31 446.41,851.18 447.63,850.74 448.84,851.32 450.06,850.91 451.27,851.86 452.49,852.42 453.7,851.6 454.92,852.23 456.13,852.35 457.35,852.4 458.56,852.99 459.78,853.47 460.99,853.31 462.2,853.15 463.42,853.87 464.63,853.03 465.85,853.65 467.06,853.57 468.28,853.75 469.49,853.92 470.71,853.08 471.92,853.68 473.14,853.41 474.35,853.82 475.57,854.3 476.78,853.86 478,853.03 479.21,853.7 480.43,854.09 482.07,854.63 483.29,854.23 484.5,854.39 485.72,853.19 486.93,854.41 488.15,854.04 489.36,853.79 490.58,854.13 491.79,854.03 493.01,852.85 494.22,853.78 495.44,853.63 496.65,852.76 497.86,853.45 499.08,853.15 500.29,852.52 501.51,853.31 502.72,852.3 503.94,852.89 505.15,852.56 506.37,852.23 507.58,852.63 508.8,852.46 510.01,852.05 511.23,853.08 512.44,851.8 513.66,851.66 514.87,852.3 516.09,852.76 517.3,852.47 518.51,852.57 519.73,852.15 520.94,852.38 522.16,851.87 523.37,851.74 524.59,852.03 525.8,851.33 527.02,851.37 528.23,852.28 529.45,851.43 530.66,852.2 531.88,852.21 533.09,851.64 534.31,851.98 535.52,852.1 536.73,852.17 537.95,851.46 539.16,851.8 540.38,852.41 541.59,852.83 542.81,852.9 544.02,852.8 545.24,853.87 546.45,854.75 547.67,854.21 548.88,854.76 550.18,855.4 551.48,856.36 552.79,857.82 554.09,857.9 555.39,859.25 556.69,859.89 557.99,860.83 559.51,862.87 561.03,863.22 562.55,865.78 563.88,864.6 565.2,864.62 566.53,864.38 567.86,863.72 569.19,862.9 570.52,863.07 571.85,861.57 573.18,861.87 574.39,861.34 575.61,861.33 576.82,861.59 578.03,861.31 579.25,860.88 580.46,860.23 581.68,859.93 582.89,860.05 584.11,859.54 585.32,859.4 586.54,860.16 587.75,858.77 588.97,859.57 590.18,858.75 591.4,858.54 592.61,858.27 593.83,857.74 595.04,858.07 596.26,857.47 597.47,857.66 598.74,857.37 600,858.14 601.27,858.1 602.53,857.35 603.8,857.55 605.06,857.88 606.33,856.96 607.59,856.57 608.86,856.69 610.12,856.55 611.39,857.15 612.65,856.65 613.92,856.63 615.18,857.24 616.45,856.45 617.71,857.26 618.98,857.01 620.25,856.69 621.51,857.28 622.78,856.61 624.04,857.36 625.31,857.42 626.57,856.83 627.84,857.09 629.05,857.52 630.27,857.29 631.48,857.36 632.7,857.59 633.91,857.74 635.13,857.55 636.34,857.92 637.55,857.02 638.77,857.55 639.98,857.67 641.2,857.31 642.41,857.41 643.63,857.16 644.84,858.32 646.06,857.53 647.3,857.71 648.54,858.29 649.78,857.3 651.03,858.38 652.27,857.22 653.51,857.08 654.75,857.53 656,857.54 657.24,858.32 658.48,858.28 659.72,858.11 661.24,859.17 662.76,860.84 664.28,862.94 665.8,866.3 667.31,868.21 668.53,869.58 669.74,871.6 670.96,872.43 672.17,874.18 673.39,876.56" fill="none" stroke="#8a8a8a" stroke-width="0.7" stroke-linejoin="round"/>
<text x="17.6" y="891.1" font-size="16" text-anchor="start" font-weight="bold" fill="#000">e</text>
<line x1="9.9" y1="102" x2="682.5" y2="102" stroke="#1e1e1e" stroke-width="1.8" stroke-dasharray="5.5 2.83" stroke-dashoffset="4.2"/>
<line x1="9.9" y1="102" x2="9.9" y2="521" stroke="#1e1e1e" stroke-width="1.8" stroke-dasharray="5.5 2.83" stroke-dashoffset="3.1"/>
<line x1="9.9" y1="521" x2="682.5" y2="521" stroke="#1e1e1e" stroke-width="1.8" stroke-dasharray="5.5 2.83" stroke-dashoffset="7.5"/>
<line x1="682.5" y1="102" x2="682.5" y2="521" stroke="#1e1e1e" stroke-width="1.8" stroke-dasharray="5.5 2.83" stroke-dashoffset="3.1"/>
<text x="17.2" y="499.1" font-size="16" text-anchor="start" font-weight="bold" fill="#000">b</text>
<clipPath id="co1"><polygon points="42.1,129.4 130.7,161.2 130.7,249.7 42.1,217.9"/></clipPath>
<polygon points="42.1,129.4 130.7,161.2 130.7,249.7 42.1,217.9" fill="#0b0b0b"/>
<linearGradient id="og1" gradientUnits="userSpaceOnUse" x1="40.92" y1="156.39" x2="29.54" y2="213.26"><stop offset="0" stop-color="#dedede"/><stop offset="0.12" stop-color="#b4b4b4"/><stop offset="0.27" stop-color="#6a6a6a"/><stop offset="0.45" stop-color="#303030"/><stop offset="0.7" stop-color="#1a1a1a"/><stop offset="1" stop-color="#111"/></linearGradient>
<linearGradient id="om1" gradientUnits="userSpaceOnUse" x1="40.92" y1="156.39" x2="29.54" y2="213.26"><stop offset="0" stop-color="#fff"/><stop offset="0.25" stop-color="#aaa"/><stop offset="0.5" stop-color="#333"/><stop offset="0.75" stop-color="#111"/><stop offset="1" stop-color="#000"/></linearGradient>
<mask id="mk1" maskUnits="userSpaceOnUse" x="0" y="0" width="685" height="908"><rect x="42.1" y="124.4" width="88.6" height="128.5" fill="url(#om1)"/></mask>
<g clip-path="url(#co1)">
<polygon points="61.36,164.12 64.28,160.04 67.2,156.39 68.95,154.2 71.58,155.66 74.5,157.85 78.15,160.77 81.8,164.71" fill="#5a5a5a"/>
<polygon points="61.36,164.12 64.28,160.04 67.2,156.39 68.95,154.2 71.58,155.66 74.5,157.85 78.15,160.77 81.8,164.71" fill="#fff" filter="url(#speck)" opacity="0.5"/>
<g style="isolation:isolate">
<polygon points="40.92,156.39 49.68,159.31 59.9,163.25 71.58,164.12 81.8,165 89.09,166.61 96.39,168.07 103.69,168.8 110.99,169.53 118.29,171.72 125.59,173.18 132.16,174.64 130.7,249.7 42.1,217.9" fill="url(#og1)"/>
<polygon points="40.92,156.39 49.68,159.31 59.9,163.25 71.58,164.12 81.8,165 89.09,166.61 96.39,168.07 103.69,168.8 110.99,169.53 118.29,171.72 125.59,173.18 132.16,174.64 130.7,249.7 42.1,217.9" fill="#808080" filter="url(#gnoise)" style="mix-blend-mode:overlay"/>
</g>
<g mask="url(#mk1)"><polygon points="40.92,156.39 49.68,159.31 59.9,163.25 71.58,164.12 81.8,165 89.09,166.61 96.39,168.07 103.69,168.8 110.99,169.53 118.29,171.72 125.59,173.18 132.16,174.64 130.7,249.7 42.1,217.9" fill="#fff" filter="url(#speck)" opacity="0.35"/></g>
<polyline points="40.92,156.39 49.68,159.31 59.9,163.25 71.58,164.12 81.8,165 89.09,166.61 96.39,168.07 103.69,168.8 110.99,169.53 118.29,171.72 125.59,173.18 132.16,174.64" fill="none" stroke="#e4e4e4" stroke-width="2.8" stroke-linejoin="round" filter="url(#bl)"/>
</g>
<text x="42.6" y="213.6" font-size="16" text-anchor="start" font-weight="bold" fill="#fff" opacity="0.99">b-1</text>
<clipPath id="co2"><polygon points="132,129.1 221.1,160.8 221.1,249.4 132,217.7"/></clipPath>
<polygon points="132,129.1 221.1,160.8 221.1,249.4 132,217.7" fill="#0b0b0b"/>
<linearGradient id="og2" gradientUnits="userSpaceOnUse" x1="130.84" y1="157.12" x2="119.9" y2="214.08"><stop offset="0" stop-color="#dedede"/><stop offset="0.12" stop-color="#b4b4b4"/><stop offset="0.27" stop-color="#6a6a6a"/><stop offset="0.45" stop-color="#303030"/><stop offset="0.7" stop-color="#1a1a1a"/><stop offset="1" stop-color="#111"/></linearGradient>
<linearGradient id="om2" gradientUnits="userSpaceOnUse" x1="130.84" y1="157.12" x2="119.9" y2="214.08"><stop offset="0" stop-color="#fff"/><stop offset="0.25" stop-color="#aaa"/><stop offset="0.5" stop-color="#333"/><stop offset="0.75" stop-color="#111"/><stop offset="1" stop-color="#000"/></linearGradient>
<mask id="mk2" maskUnits="userSpaceOnUse" x="0" y="0" width="685" height="908"><rect x="132" y="124.1" width="89.1" height="128.6" fill="url(#om2)"/></mask>
<g clip-path="url(#co2)">
<polygon points="153.47,166.46 154.93,162.23 156.82,157.85 160.04,153.47 163.25,154.93 167.34,160.04 170.55,164.12" fill="#5a5a5a"/>
<polygon points="153.47,166.46 154.93,162.23 156.82,157.85 160.04,153.47 163.25,154.93 167.34,160.04 170.55,164.12" fill="#fff" filter="url(#speck)" opacity="0.5"/>
<g style="isolation:isolate">
<polygon points="130.84,157.12 139.6,160.04 146.9,163.69 152.01,167.04 161.5,165.29 170.26,164.12 176.09,165.88 183.39,167.34 190.69,168.8 197.99,170.26 205.29,170.26 212.59,172.45 222.08,174.64 221.1,249.4 132,217.7" fill="url(#og2)"/>
<polygon points="130.84,157.12 139.6,160.04 146.9,163.69 152.01,167.04 161.5,165.29 170.26,164.12 176.09,165.88 183.39,167.34 190.69,168.8 197.99,170.26 205.29,170.26 212.59,172.45 222.08,174.64 221.1,249.4 132,217.7" fill="#808080" filter="url(#gnoise)" style="mix-blend-mode:overlay"/>
</g>
<g mask="url(#mk2)"><polygon points="130.84,157.12 139.6,160.04 146.9,163.69 152.01,167.04 161.5,165.29 170.26,164.12 176.09,165.88 183.39,167.34 190.69,168.8 197.99,170.26 205.29,170.26 212.59,172.45 222.08,174.64 221.1,249.4 132,217.7" fill="#fff" filter="url(#speck)" opacity="0.35"/></g>
<polyline points="130.84,157.12 139.6,160.04 146.9,163.69 152.01,167.04 161.5,165.29 170.26,164.12 176.09,165.88 183.39,167.34 190.69,168.8 197.99,170.26 205.29,170.26 212.59,172.45 222.08,174.64" fill="none" stroke="#e4e4e4" stroke-width="2.8" stroke-linejoin="round" filter="url(#bl)"/>
</g>
<text x="133.8" y="213.3" font-size="16" text-anchor="start" font-weight="bold" fill="#fff" opacity="0.99">b-2</text>
<line x1="489.8" y1="43.4" x2="82.43" y2="131.76" stroke="#e8231c" stroke-width="1.5"/>
<polygon points="70.7,134.3 82.68,128.22 84.13,134.87" fill="#e8231c"/>
<line x1="489.8" y1="43.4" x2="156.84" y2="127.08" stroke="#e8231c" stroke-width="1.5"/>
<polygon points="145.2,130 156.98,123.53 158.64,130.13" fill="#e8231c"/>
<polyline points="257.92,169.71 260.11,169.43 262.3,169.66 264.49,168.23 266.68,167.75 269.6,168 271.79,168.18 273.98,169.04 276.17,169.66 278.36,170.55 280.3,169.8 282.25,171.09 284.2,170.64 286.39,171.69 288.58,172.3 290.77,172.61 292.96,174.35 295.15,173.04 297.34,173.43 298.8,174.25 300.26,176.95 301.72,174.35 304.64,165.97 306.82,163.15 309.01,160.64 311.2,156.5 311.93,164.68 312.66,151.93 313.39,150.8 314.85,150.91 315.58,163.74 316.31,159.67 317.04,158.85 317.77,162.75 318.5,147.07 319.23,146.6 322.15,147.47 324.34,148.62 326.53,149.88 327.26,153.89 327.7,162.46 329.45,160.97 330.91,158.14 332.37,154.96 335.29,153.52 337.48,154.82 339.67,155.72 342.59,157.43 344.54,156.59 346.48,157.51 348.43,156.44 350.07,156.19 351.72,155.8 353.36,156.24 355,155.55 356.74,155.37 358.48,154.75 360.22,154.04 361.9,153.76 363.57,153.56 365.25,154.41 366.93,154.26 368.61,153.74 370.29,154.28 371.97,153.77 373.65,153.86 375.32,154.71 377,154.91 378.68,155.18 380.36,155.15 382.04,153.74 383.72,153.79 385.4,153.24 387.08,152.04 388.75,151.59 390.43,151.16 392.11,150.67 393.79,151.13 395.75,150.42 397.71,148.28 399.67,148.01 401.76,147.94 403.86,147.11 405.71,147.03 407.56,145.53 409.07,145.96 410.58,146.53 412.54,147.69 414.49,148.06 416.45,148.31 418.41,148.93 420.37,148.1 422.33,147.96 424.01,149.48 425.69,149.11 427.36,148.31 429.46,145.74 431.56,143.35 433.66,143.74 435.76,144.46 437.35,145.3 438.95,145.33 440.54,146.67 442.14,146.97" fill="none" stroke="#f02020" stroke-width="0.9" stroke-linejoin="round"/>
<polyline points="257.92,167.42 259.38,167.01 260.84,168.1 262.3,167.48 263.52,166.25 264.73,167.04 265.95,166.3 267.17,166.61 268.38,167.41 269.6,166.78 271.06,167.34 272.52,168.26 273.98,169.33 275.44,168.27 276.9,169.71 278.36,169.77 279.82,168.9 281.28,169.67 282.74,169.61 284.2,169.75 285.66,170.02 287.12,170.21 288.58,171.06 290.04,171.19 291.5,171.78 292.96,171.94 294.42,171.71 295.88,171.91 297.34,172.09 298.8,172.17 300.26,170.49 301.72,168.84 303.18,166.11 304.64,164.88 306.09,162.83 307.55,160.95 309.01,158.62 310.47,157.74 311.93,155.51 312.66,150.97 314.12,148.45 315.58,149.15 316.31,154.18 317.04,158.88 317.77,157.62 318.5,146.73 319.96,146.66 321.18,147.58 322.4,148.3 323.61,147.75 325.07,147.82 326.53,149.45 327.99,151.71 329.45,150.87 330.91,150.37 332.37,150.31 333.83,150.06 335.29,150.78 336.75,151.47 338.21,153.39 339.67,155.32 341.13,155.24 342.59,156.14 344.05,156.25 345.51,156.83 346.97,156.7 348.43,157.05 349.74,155.52 351.06,156.3 352.37,155.25 353.69,155.47 355,155.15 356.3,155.46 357.61,155.28 358.91,155.11 360.22,155.23 361.62,155.3 363.01,153.84 364.41,151.76 365.67,151.31 366.93,152.64 368.19,152.25 369.45,152.34 370.71,152.74 371.97,152.11 373.37,152.21 374.77,153.17 376.16,153.04 377.56,153.44 378.96,152.56 380.36,153.42 382.04,152.03 383.72,150.16 385.4,151.61 387.08,151.28 388.42,150.97 389.76,151.99 391.1,150.75 392.45,151.18 393.79,151.36 395.26,150.35 396.73,148.69 398.2,148.67 399.67,146.56 401.06,147.39 402.46,147.93 403.86,147.36 405.09,145.41 406.32,144.95 407.56,142.95 409.07,144.74 410.58,146.58 412.05,147.27 413.52,147.33 414.98,148.36 416.45,148.47 417.92,147.65 419.39,147.27 420.86,146.83 422.33,146.03 424.01,149.5 425.69,148.73 427.36,149.12 428.76,145.79 430.16,145 431.56,142.1 432.96,142.7 434.36,143.04 435.76,144.5 437.03,144.6 438.31,144.92 439.59,145.07 440.86,145.46 442.14,146.57" fill="none" stroke="#222" stroke-width="0.8" stroke-linejoin="round"/>
<rect x="257.6" y="122.2" width="185.6" height="151" fill="none" stroke="#3a3a3a" stroke-width="1"/>
<line x1="275.11" y1="273.2" x2="275.11" y2="271.2" stroke="#3a3a3a" stroke-width="1"/>
<line x1="275.11" y1="122.2" x2="275.11" y2="124.2" stroke="#3a3a3a" stroke-width="1"/>
<line x1="293.32" y1="273.2" x2="293.32" y2="270.2" stroke="#3a3a3a" stroke-width="1"/>
<line x1="293.32" y1="122.2" x2="293.32" y2="125.2" stroke="#3a3a3a" stroke-width="1"/>
<line x1="311.54" y1="273.2" x2="311.54" y2="271.2" stroke="#3a3a3a" stroke-width="1"/>
<line x1="311.54" y1="122.2" x2="311.54" y2="124.2" stroke="#3a3a3a" stroke-width="1"/>
<line x1="329.75" y1="273.2" x2="329.75" y2="270.2" stroke="#3a3a3a" stroke-width="1"/>
<line x1="329.75" y1="122.2" x2="329.75" y2="125.2" stroke="#3a3a3a" stroke-width="1"/>
<line x1="347.96" y1="273.2" x2="347.96" y2="271.2" stroke="#3a3a3a" stroke-width="1"/>
<line x1="347.96" y1="122.2" x2="347.96" y2="124.2" stroke="#3a3a3a" stroke-width="1"/>
<line x1="366.17" y1="273.2" x2="366.17" y2="270.2" stroke="#3a3a3a" stroke-width="1"/>
<line x1="366.17" y1="122.2" x2="366.17" y2="125.2" stroke="#3a3a3a" stroke-width="1"/>
<line x1="384.39" y1="273.2" x2="384.39" y2="271.2" stroke="#3a3a3a" stroke-width="1"/>
<line x1="384.39" y1="122.2" x2="384.39" y2="124.2" stroke="#3a3a3a" stroke-width="1"/>
<line x1="402.6" y1="273.2" x2="402.6" y2="270.2" stroke="#3a3a3a" stroke-width="1"/>
<line x1="402.6" y1="122.2" x2="402.6" y2="125.2" stroke="#3a3a3a" stroke-width="1"/>
<line x1="420.81" y1="273.2" x2="420.81" y2="271.2" stroke="#3a3a3a" stroke-width="1"/>
<line x1="420.81" y1="122.2" x2="420.81" y2="124.2" stroke="#3a3a3a" stroke-width="1"/>
<line x1="439.02" y1="273.2" x2="439.02" y2="270.2" stroke="#3a3a3a" stroke-width="1"/>
<line x1="439.02" y1="122.2" x2="439.02" y2="125.2" stroke="#3a3a3a" stroke-width="1"/>
<line x1="257.6" y1="258.43" x2="259.6" y2="258.43" stroke="#3a3a3a" stroke-width="1"/>
<line x1="443.2" y1="258.43" x2="441.2" y2="258.43" stroke="#3a3a3a" stroke-width="1"/>
<line x1="257.6" y1="243.66" x2="260.6" y2="243.66" stroke="#3a3a3a" stroke-width="1"/>
<line x1="443.2" y1="243.66" x2="440.2" y2="243.66" stroke="#3a3a3a" stroke-width="1"/>
<line x1="257.6" y1="228.89" x2="259.6" y2="228.89" stroke="#3a3a3a" stroke-width="1"/>
<line x1="443.2" y1="228.89" x2="441.2" y2="228.89" stroke="#3a3a3a" stroke-width="1"/>
<line x1="257.6" y1="214.12" x2="260.6" y2="214.12" stroke="#3a3a3a" stroke-width="1"/>
<line x1="443.2" y1="214.12" x2="440.2" y2="214.12" stroke="#3a3a3a" stroke-width="1"/>
<line x1="257.6" y1="199.35" x2="259.6" y2="199.35" stroke="#3a3a3a" stroke-width="1"/>
<line x1="443.2" y1="199.35" x2="441.2" y2="199.35" stroke="#3a3a3a" stroke-width="1"/>
<line x1="257.6" y1="184.58" x2="260.6" y2="184.58" stroke="#3a3a3a" stroke-width="1"/>
<line x1="443.2" y1="184.58" x2="440.2" y2="184.58" stroke="#3a3a3a" stroke-width="1"/>
<line x1="257.6" y1="169.81" x2="259.6" y2="169.81" stroke="#3a3a3a" stroke-width="1"/>
<line x1="443.2" y1="169.81" x2="441.2" y2="169.81" stroke="#3a3a3a" stroke-width="1"/>
<line x1="257.6" y1="155.04" x2="260.6" y2="155.04" stroke="#3a3a3a" stroke-width="1"/>
<line x1="443.2" y1="155.04" x2="440.2" y2="155.04" stroke="#3a3a3a" stroke-width="1"/>
<line x1="257.6" y1="140.27" x2="259.6" y2="140.27" stroke="#3a3a3a" stroke-width="1"/>
<line x1="443.2" y1="140.27" x2="441.2" y2="140.27" stroke="#3a3a3a" stroke-width="1"/>
<line x1="257.6" y1="125.5" x2="260.6" y2="125.5" stroke="#3a3a3a" stroke-width="1"/>
<line x1="443.2" y1="125.5" x2="440.2" y2="125.5" stroke="#3a3a3a" stroke-width="1"/>
<text x="253.8" y="275.5" font-size="9" text-anchor="end" font-weight="normal" fill="#222" textLength="4.45" lengthAdjust="spacingAndGlyphs">0</text>
<text x="253.8" y="245.96" font-size="9" text-anchor="end" font-weight="normal" fill="#222" textLength="8.9" lengthAdjust="spacingAndGlyphs">50</text>
<text x="253.8" y="216.42" font-size="9" text-anchor="end" font-weight="normal" fill="#222" textLength="13.35" lengthAdjust="spacingAndGlyphs">100</text>
<text x="253.8" y="186.88" font-size="9" text-anchor="end" font-weight="normal" fill="#222" textLength="13.35" lengthAdjust="spacingAndGlyphs">150</text>
<text x="253.8" y="157.34" font-size="9" text-anchor="end" font-weight="normal" fill="#222" textLength="13.35" lengthAdjust="spacingAndGlyphs">200</text>
<text x="253.8" y="127.8" font-size="9" text-anchor="end" font-weight="normal" fill="#222" textLength="13.35" lengthAdjust="spacingAndGlyphs">250</text>
<text x="293.32" y="283.1" font-size="9" text-anchor="middle" font-weight="normal" fill="#222" textLength="8.9" lengthAdjust="spacingAndGlyphs">50</text>
<text x="329.75" y="283.1" font-size="9" text-anchor="middle" font-weight="normal" fill="#222" textLength="13.35" lengthAdjust="spacingAndGlyphs">100</text>
<text x="366.17" y="283.1" font-size="9" text-anchor="middle" font-weight="normal" fill="#222" textLength="13.35" lengthAdjust="spacingAndGlyphs">150</text>
<text x="402.6" y="283.1" font-size="9" text-anchor="middle" font-weight="normal" fill="#222" textLength="13.35" lengthAdjust="spacingAndGlyphs">200</text>
<text x="439.02" y="283.1" font-size="9" text-anchor="middle" font-weight="normal" fill="#222" textLength="13.35" lengthAdjust="spacingAndGlyphs">250</text>
<text x="354.1" y="297.4" font-size="10.2" text-anchor="middle" font-weight="normal" fill="#222">x direction (pixel)</text>
<text x="234.3" y="204.6" font-size="10.2" text-anchor="middle" font-weight="normal" fill="#222" transform="rotate(-90 234.3 204.6)">z direction (pixel)</text>
<text x="265.2" y="145" font-size="16.6" text-anchor="start" font-weight="bold" fill="#000">b-3</text>
<line x1="356.9" y1="186.8" x2="379.4" y2="186.8" stroke="#999" stroke-width="1.6"/>
<text x="382.2" y="190.4" font-size="10" text-anchor="start" font-weight="normal" fill="#222">frame&#160;&#160;b-1</text>
<line x1="356.9" y1="199.5" x2="379.4" y2="199.5" stroke="#f02020" stroke-width="1"/>
<text x="382.2" y="203.1" font-size="10" text-anchor="start" font-weight="normal" fill="#222">frame&#160;&#160;b-2</text>
<text x="342.6" y="246" font-size="11" text-anchor="start" font-weight="normal" fill="#ff2a2a">Step 1:</text>
<text x="342.6" y="258.9" font-size="11" text-anchor="start" font-weight="normal" fill="#ff2a2a">Surface detection</text>
<polyline points="484.46,210.36 485.92,208.18 487.38,213.28 488.84,208.18 491.03,204.53 492.49,207.45 493.95,207.45 496.14,196.5 497.6,195.77 499.06,200.88 500.52,202.34 501.98,210.36 503.44,209.64 504.9,202.34 506.36,204.53 508.55,206.72 510.01,206.72 511.47,198.69 512.2,200.15 513.66,213.28 514.39,209.64 515.85,210.36 518.04,198.69 518.77,199.42 520.23,213.28 521.69,203.8 523.15,201.61 525.34,202.34 526.8,208.18 527.53,218.39 528.55,228.61 529.42,218.39 530.45,211.09 532.64,208.18 534.09,208.18 534.82,216.93 536.28,208.18 537.74,202.34 538.91,196.5 539.5,168.76 539.64,203.8 539.93,268.76 540.37,232.99 540.96,205.26 541.83,208.18 542.56,253.43 543.58,247.59 544.31,232.99 545.04,196.5 545.77,211.09 546.5,187.01 547.23,192.12 548.69,198.69 550.88,198.69 552.34,208.18 553.07,211.09 554.53,202.34 555.26,260 556.72,251.97 557.74,251.97 558.62,238.83 559.64,227.15 561.1,211.09 562.56,215.47 564.02,214.01 565.48,208.18 566.94,202.34 567.67,206.72 568.4,213.28 569.86,202.34 571.32,196.5 572.78,202.34 574.24,208.18 575.7,210.36 575,208.18 576.46,205.26 577.92,210.36 580.11,202.34 582.3,198.69 584.49,196.5 585.95,192.12 587.41,183.36 588.87,183.36 590.33,190.66 591.06,191.39 591.79,213.28 593.25,204.53 596.17,203.8 599.82,203.8 602.01,206.72 604.2,210.36 605.66,210.36 608.58,205.26 610.04,210.36 611.5,219.12 612.96,211.09 613.69,206.72 615.15,203.8 616.61,196.5 618.07,190.66 619.53,193.58 620.99,197.96 622.45,199.42 623.91,203.07 625.36,207.45 627.55,207.45 629.01,193.58 630.47,195.04 631.93,195.77 633.39,212.55 634.12,202.34 634.85,214.74 635.58,202.34 636.31,211.09 637.77,209.64 639.23,209.64 641.42,211.09 642.88,213.28 644.34,205.26 645.8,202.34 647.26,204.53 648.72,202.34 649.74,199.42 650.91,211.09 651.64,199.42 653.1,208.18 653.83,213.28 655.29,208.18 656.75,203.8 657.48,199.42 658.94,206.72 660.4,205.26 661.86,202.34 663.32,203.8 664.78,199.42 666.24,198.69 667.7,203.8 668.43,209.64 669.16,202.34 669.89,211.09 670.62,202.34 671.06,213.28" fill="none" stroke="#222" stroke-width="0.8" stroke-linejoin="round"/>
<rect x="484.5" y="122.8" width="187.1" height="151.7" fill="none" stroke="#3a3a3a" stroke-width="1"/>
<line x1="502.67" y1="274.5" x2="502.67" y2="272.5" stroke="#3a3a3a" stroke-width="1"/>
<line x1="502.67" y1="122.8" x2="502.67" y2="124.8" stroke="#3a3a3a" stroke-width="1"/>
<line x1="520.83" y1="274.5" x2="520.83" y2="271.5" stroke="#3a3a3a" stroke-width="1"/>
<line x1="520.83" y1="122.8" x2="520.83" y2="125.8" stroke="#3a3a3a" stroke-width="1"/>
<line x1="539" y1="274.5" x2="539" y2="272.5" stroke="#3a3a3a" stroke-width="1"/>
<line x1="539" y1="122.8" x2="539" y2="124.8" stroke="#3a3a3a" stroke-width="1"/>
<line x1="557.16" y1="274.5" x2="557.16" y2="271.5" stroke="#3a3a3a" stroke-width="1"/>
<line x1="557.16" y1="122.8" x2="557.16" y2="125.8" stroke="#3a3a3a" stroke-width="1"/>
<line x1="575.33" y1="274.5" x2="575.33" y2="272.5" stroke="#3a3a3a" stroke-width="1"/>
<line x1="575.33" y1="122.8" x2="575.33" y2="124.8" stroke="#3a3a3a" stroke-width="1"/>
<line x1="593.49" y1="274.5" x2="593.49" y2="271.5" stroke="#3a3a3a" stroke-width="1"/>
<line x1="593.49" y1="122.8" x2="593.49" y2="125.8" stroke="#3a3a3a" stroke-width="1"/>
<line x1="611.65" y1="274.5" x2="611.65" y2="272.5" stroke="#3a3a3a" stroke-width="1"/>
<line x1="611.65" y1="122.8" x2="611.65" y2="124.8" stroke="#3a3a3a" stroke-width="1"/>
<line x1="629.82" y1="274.5" x2="629.82" y2="271.5" stroke="#3a3a3a" stroke-width="1"/>
<line x1="629.82" y1="122.8" x2="629.82" y2="125.8" stroke="#3a3a3a" stroke-width="1"/>
<line x1="647.99" y1="274.5" x2="647.99" y2="272.5" stroke="#3a3a3a" stroke-width="1"/>
<line x1="647.99" y1="122.8" x2="647.99" y2="124.8" stroke="#3a3a3a" stroke-width="1"/>
<line x1="666.15" y1="274.5" x2="666.15" y2="271.5" stroke="#3a3a3a" stroke-width="1"/>
<line x1="666.15" y1="122.8" x2="666.15" y2="125.8" stroke="#3a3a3a" stroke-width="1"/>
<line x1="484.5" y1="259.2" x2="487.5" y2="259.2" stroke="#3a3a3a" stroke-width="1"/>
<line x1="671.6" y1="259.2" x2="668.6" y2="259.2" stroke="#3a3a3a" stroke-width="1"/>
<line x1="484.5" y1="244.05" x2="486.5" y2="244.05" stroke="#3a3a3a" stroke-width="1"/>
<line x1="671.6" y1="244.05" x2="669.6" y2="244.05" stroke="#3a3a3a" stroke-width="1"/>
<line x1="484.5" y1="228.9" x2="487.5" y2="228.9" stroke="#3a3a3a" stroke-width="1"/>
<line x1="671.6" y1="228.9" x2="668.6" y2="228.9" stroke="#3a3a3a" stroke-width="1"/>
<line x1="484.5" y1="213.75" x2="486.5" y2="213.75" stroke="#3a3a3a" stroke-width="1"/>
<line x1="671.6" y1="213.75" x2="669.6" y2="213.75" stroke="#3a3a3a" stroke-width="1"/>
<line x1="484.5" y1="198.6" x2="487.5" y2="198.6" stroke="#3a3a3a" stroke-width="1"/>
<line x1="671.6" y1="198.6" x2="668.6" y2="198.6" stroke="#3a3a3a" stroke-width="1"/>
<line x1="484.5" y1="183.45" x2="486.5" y2="183.45" stroke="#3a3a3a" stroke-width="1"/>
<line x1="671.6" y1="183.45" x2="669.6" y2="183.45" stroke="#3a3a3a" stroke-width="1"/>
<line x1="484.5" y1="168.3" x2="487.5" y2="168.3" stroke="#3a3a3a" stroke-width="1"/>
<line x1="671.6" y1="168.3" x2="668.6" y2="168.3" stroke="#3a3a3a" stroke-width="1"/>
<line x1="484.5" y1="153.15" x2="486.5" y2="153.15" stroke="#3a3a3a" stroke-width="1"/>
<line x1="671.6" y1="153.15" x2="669.6" y2="153.15" stroke="#3a3a3a" stroke-width="1"/>
<line x1="484.5" y1="138" x2="487.5" y2="138" stroke="#3a3a3a" stroke-width="1"/>
<line x1="671.6" y1="138" x2="668.6" y2="138" stroke="#3a3a3a" stroke-width="1"/>
<text x="481" y="261.5" font-size="9" text-anchor="end" font-weight="normal" fill="#222" textLength="12" lengthAdjust="spacingAndGlyphs">-20</text>
<text x="481" y="231.2" font-size="9" text-anchor="end" font-weight="normal" fill="#222" textLength="12" lengthAdjust="spacingAndGlyphs">-10</text>
<text x="481" y="200.9" font-size="9" text-anchor="end" font-weight="normal" fill="#222" textLength="4.7" lengthAdjust="spacingAndGlyphs">0</text>
<text x="481" y="170.6" font-size="9" text-anchor="end" font-weight="normal" fill="#222" textLength="9.4" lengthAdjust="spacingAndGlyphs">10</text>
<text x="481" y="140.3" font-size="9" text-anchor="end" font-weight="normal" fill="#222" textLength="9.4" lengthAdjust="spacingAndGlyphs">20</text>
<text x="484.5" y="284.8" font-size="9" text-anchor="middle" font-weight="normal" fill="#222" textLength="4.45" lengthAdjust="spacingAndGlyphs">0</text>
<text x="520.83" y="284.8" font-size="9" text-anchor="middle" font-weight="normal" fill="#222" textLength="8.9" lengthAdjust="spacingAndGlyphs">50</text>
<text x="557.16" y="284.8" font-size="9" text-anchor="middle" font-weight="normal" fill="#222" textLength="13.35" lengthAdjust="spacingAndGlyphs">100</text>
<text x="593.49" y="284.8" font-size="9" text-anchor="middle" font-weight="normal" fill="#222" textLength="13.35" lengthAdjust="spacingAndGlyphs">150</text>
<text x="629.82" y="284.8" font-size="9" text-anchor="middle" font-weight="normal" fill="#222" textLength="13.35" lengthAdjust="spacingAndGlyphs">200</text>
<text x="666.15" y="284.8" font-size="9" text-anchor="middle" font-weight="normal" fill="#222" textLength="13.35" lengthAdjust="spacingAndGlyphs">250</text>
<text x="578.2" y="300.3" font-size="10.2" text-anchor="middle" font-weight="normal" fill="#222">x direction (pixel)</text>
<text x="463" y="205.1" font-size="10.2" text-anchor="middle" font-weight="normal" fill="#222" transform="rotate(-90 463 205.1)">Difference of surface positions (pixel)</text>
<text x="494.3" y="147.6" font-size="16.6" text-anchor="start" font-weight="bold" fill="#000">b-4</text>
<text x="580.8" y="250.8" font-size="11" text-anchor="start" font-weight="normal" fill="#ff2a2a">Step 2:</text>
<text x="580.8" y="264" font-size="11" text-anchor="start" font-weight="normal" fill="#ff2a2a">Get the difference</text>
<rect x="144.97" y="471.16" width="2.0" height="3.04" fill="#d82a14" stroke="#3a0a00" stroke-width="0.45"/>
<rect x="154.3" y="471.16" width="2.0" height="3.04" fill="#d82a14" stroke="#3a0a00" stroke-width="0.45"/>
<rect x="160.52" y="468.12" width="2.0" height="6.08" fill="#d82a14" stroke="#3a0a00" stroke-width="0.45"/>
<rect x="163.63" y="465.08" width="2.0" height="9.12" fill="#d82a14" stroke="#3a0a00" stroke-width="0.45"/>
<rect x="169.85" y="471.16" width="2.0" height="3.04" fill="#d82a14" stroke="#3a0a00" stroke-width="0.45"/>
<rect x="172.96" y="471.16" width="2.0" height="3.04" fill="#d82a14" stroke="#3a0a00" stroke-width="0.45"/>
<rect x="176.07" y="471.16" width="2.0" height="3.04" fill="#d82a14" stroke="#3a0a00" stroke-width="0.45"/>
<rect x="179.18" y="471.16" width="2.0" height="3.04" fill="#d82a14" stroke="#3a0a00" stroke-width="0.45"/>
<rect x="185.4" y="471.16" width="2.0" height="3.04" fill="#d82a14" stroke="#3a0a00" stroke-width="0.45"/>
<rect x="188.51" y="471.16" width="2.0" height="3.04" fill="#d82a14" stroke="#3a0a00" stroke-width="0.45"/>
<rect x="194.73" y="471.16" width="2.0" height="3.04" fill="#d82a14" stroke="#3a0a00" stroke-width="0.45"/>
<rect x="197.84" y="465.08" width="2.0" height="9.12" fill="#d82a14" stroke="#3a0a00" stroke-width="0.45"/>
<rect x="200.95" y="413.4" width="2.0" height="60.8" fill="#d82a14" stroke="#3a0a00" stroke-width="0.45"/>
<rect x="204.06" y="364.76" width="2.0" height="109.44" fill="#d82a14" stroke="#3a0a00" stroke-width="0.45"/>
<rect x="207.17" y="325.24" width="2.0" height="148.96" fill="#d82a14" stroke="#3a0a00" stroke-width="0.45"/>
<rect x="210.28" y="331.32" width="2.0" height="142.88" fill="#d82a14" stroke="#3a0a00" stroke-width="0.45"/>
<rect x="213.39" y="376.92" width="2.0" height="97.28" fill="#d82a14" stroke="#3a0a00" stroke-width="0.45"/>
<rect x="216.5" y="398.2" width="2.0" height="76" fill="#d82a14" stroke="#3a0a00" stroke-width="0.45"/>
<rect x="219.61" y="434.68" width="2.0" height="39.52" fill="#d82a14" stroke="#3a0a00" stroke-width="0.45"/>
<rect x="222.72" y="449.88" width="2.0" height="24.32" fill="#d82a14" stroke="#3a0a00" stroke-width="0.45"/>
<rect x="225.83" y="465.08" width="2.0" height="9.12" fill="#d82a14" stroke="#3a0a00" stroke-width="0.45"/>
<rect x="228.94" y="468.12" width="2.0" height="6.08" fill="#d82a14" stroke="#3a0a00" stroke-width="0.45"/>
<rect x="232.05" y="465.08" width="2.0" height="9.12" fill="#d82a14" stroke="#3a0a00" stroke-width="0.45"/>
<rect x="247.6" y="471.16" width="2.0" height="3.04" fill="#d82a14" stroke="#3a0a00" stroke-width="0.45"/>
<line x1="190.8" y1="351.2" x2="190.8" y2="474.2" stroke="#555" stroke-width="0.9"/>
<line x1="225.5" y1="351.2" x2="225.5" y2="474.2" stroke="#555" stroke-width="0.9"/>
<rect x="123.9" y="322.3" width="186.8" height="151.9" fill="none" stroke="#3a3a3a" stroke-width="1"/>
<line x1="139.75" y1="474.2" x2="139.75" y2="472.2" stroke="#3a3a3a" stroke-width="1"/>
<line x1="139.75" y1="322.3" x2="139.75" y2="324.3" stroke="#3a3a3a" stroke-width="1"/>
<line x1="155.3" y1="474.2" x2="155.3" y2="471.2" stroke="#3a3a3a" stroke-width="1"/>
<line x1="155.3" y1="322.3" x2="155.3" y2="325.3" stroke="#3a3a3a" stroke-width="1"/>
<line x1="170.85" y1="474.2" x2="170.85" y2="472.2" stroke="#3a3a3a" stroke-width="1"/>
<line x1="170.85" y1="322.3" x2="170.85" y2="324.3" stroke="#3a3a3a" stroke-width="1"/>
<line x1="186.4" y1="474.2" x2="186.4" y2="471.2" stroke="#3a3a3a" stroke-width="1"/>
<line x1="186.4" y1="322.3" x2="186.4" y2="325.3" stroke="#3a3a3a" stroke-width="1"/>
<line x1="201.95" y1="474.2" x2="201.95" y2="472.2" stroke="#3a3a3a" stroke-width="1"/>
<line x1="201.95" y1="322.3" x2="201.95" y2="324.3" stroke="#3a3a3a" stroke-width="1"/>
<line x1="217.5" y1="474.2" x2="217.5" y2="471.2" stroke="#3a3a3a" stroke-width="1"/>
<line x1="217.5" y1="322.3" x2="217.5" y2="325.3" stroke="#3a3a3a" stroke-width="1"/>
<line x1="233.05" y1="474.2" x2="233.05" y2="472.2" stroke="#3a3a3a" stroke-width="1"/>
<line x1="233.05" y1="322.3" x2="233.05" y2="324.3" stroke="#3a3a3a" stroke-width="1"/>
<line x1="248.6" y1="474.2" x2="248.6" y2="471.2" stroke="#3a3a3a" stroke-width="1"/>
<line x1="248.6" y1="322.3" x2="248.6" y2="325.3" stroke="#3a3a3a" stroke-width="1"/>
<line x1="264.15" y1="474.2" x2="264.15" y2="472.2" stroke="#3a3a3a" stroke-width="1"/>
<line x1="264.15" y1="322.3" x2="264.15" y2="324.3" stroke="#3a3a3a" stroke-width="1"/>
<line x1="279.7" y1="474.2" x2="279.7" y2="471.2" stroke="#3a3a3a" stroke-width="1"/>
<line x1="279.7" y1="322.3" x2="279.7" y2="325.3" stroke="#3a3a3a" stroke-width="1"/>
<line x1="295.25" y1="474.2" x2="295.25" y2="472.2" stroke="#3a3a3a" stroke-width="1"/>
<line x1="295.25" y1="322.3" x2="295.25" y2="324.3" stroke="#3a3a3a" stroke-width="1"/>
<line x1="123.9" y1="459" x2="125.9" y2="459" stroke="#3a3a3a" stroke-width="1"/>
<line x1="310.7" y1="459" x2="308.7" y2="459" stroke="#3a3a3a" stroke-width="1"/>
<line x1="123.9" y1="443.8" x2="126.9" y2="443.8" stroke="#3a3a3a" stroke-width="1"/>
<line x1="310.7" y1="443.8" x2="307.7" y2="443.8" stroke="#3a3a3a" stroke-width="1"/>
<line x1="123.9" y1="428.6" x2="125.9" y2="428.6" stroke="#3a3a3a" stroke-width="1"/>
<line x1="310.7" y1="428.6" x2="308.7" y2="428.6" stroke="#3a3a3a" stroke-width="1"/>
<line x1="123.9" y1="413.4" x2="126.9" y2="413.4" stroke="#3a3a3a" stroke-width="1"/>
<line x1="310.7" y1="413.4" x2="307.7" y2="413.4" stroke="#3a3a3a" stroke-width="1"/>
<line x1="123.9" y1="398.2" x2="125.9" y2="398.2" stroke="#3a3a3a" stroke-width="1"/>
<line x1="310.7" y1="398.2" x2="308.7" y2="398.2" stroke="#3a3a3a" stroke-width="1"/>
<line x1="123.9" y1="383" x2="126.9" y2="383" stroke="#3a3a3a" stroke-width="1"/>
<line x1="310.7" y1="383" x2="307.7" y2="383" stroke="#3a3a3a" stroke-width="1"/>
<line x1="123.9" y1="367.8" x2="125.9" y2="367.8" stroke="#3a3a3a" stroke-width="1"/>
<line x1="310.7" y1="367.8" x2="308.7" y2="367.8" stroke="#3a3a3a" stroke-width="1"/>
<line x1="123.9" y1="352.6" x2="126.9" y2="352.6" stroke="#3a3a3a" stroke-width="1"/>
<line x1="310.7" y1="352.6" x2="307.7" y2="352.6" stroke="#3a3a3a" stroke-width="1"/>
<line x1="123.9" y1="337.4" x2="125.9" y2="337.4" stroke="#3a3a3a" stroke-width="1"/>
<line x1="310.7" y1="337.4" x2="308.7" y2="337.4" stroke="#3a3a3a" stroke-width="1"/>
<text x="121.3" y="477.4" font-size="9" text-anchor="end" font-weight="normal" fill="#222">0</text>
<text x="121.3" y="447" font-size="9" text-anchor="end" font-weight="normal" fill="#222">10</text>
<text x="121.3" y="416.6" font-size="9" text-anchor="end" font-weight="normal" fill="#222">20</text>
<text x="121.3" y="386.2" font-size="9" text-anchor="end" font-weight="normal" fill="#222">30</text>
<text x="121.3" y="355.8" font-size="9" text-anchor="end" font-weight="normal" fill="#222">40</text>
<text x="121.3" y="325.4" font-size="9" text-anchor="end" font-weight="normal" fill="#222">50</text>
<text x="124.2" y="484.6" font-size="9" text-anchor="middle" font-weight="normal" fill="#222">-30</text>
<text x="155.3" y="484.6" font-size="9" text-anchor="middle" font-weight="normal" fill="#222">-20</text>
<text x="186.4" y="484.6" font-size="9" text-anchor="middle" font-weight="normal" fill="#222">-10</text>
<text x="217.5" y="484.6" font-size="9" text-anchor="middle" font-weight="normal" fill="#222">0</text>
<text x="248.6" y="484.6" font-size="9" text-anchor="middle" font-weight="normal" fill="#222">10</text>
<text x="279.7" y="484.6" font-size="9" text-anchor="middle" font-weight="normal" fill="#222">20</text>
<text x="310.8" y="484.6" font-size="9" text-anchor="middle" font-weight="normal" fill="#222">30</text>
<text x="215.2" y="500.4" font-size="10.3" text-anchor="middle" font-weight="normal" fill="#222">Difference of the surface positions (pixel)</text>
<text x="106" y="405.1" font-size="10.3" text-anchor="middle" font-weight="normal" fill="#222" transform="rotate(-90 106 405.1)">Counts</text>
<text x="135.7" y="343.6" font-size="16.6" text-anchor="start" font-weight="bold" fill="#000">b-5</text>
<text x="178" y="335.4" font-size="8.6" text-anchor="start" font-weight="normal" fill="#333">(-3, 49)</text>
<text x="156.8" y="404.5" font-size="9.3" text-anchor="start" font-weight="normal" fill="#333">-3-5</text>
<line x1="178.7" y1="401.4" x2="187.3" y2="401.4" stroke="#222" stroke-width="0.8"/>
<polygon points="190.3,401.4 186.3,403 186.3,399.8" fill="#222"/>
<text x="240.8" y="404.5" font-size="9.3" text-anchor="start" font-weight="normal" fill="#333">-3+5</text>
<line x1="236.8" y1="401.2" x2="229.3" y2="401.2" stroke="#222" stroke-width="0.8"/>
<polygon points="226.3,401.2 230.3,399.6 230.3,402.8" fill="#222"/>
<text x="255.4" y="438.5" font-size="11" text-anchor="start" font-weight="normal" fill="#ff2a2a">Step 3:</text>
<text x="255.4" y="452" font-size="11" text-anchor="start" font-weight="normal" fill="#ff2a2a">Eliminate</text>
<text x="255.4" y="465.3" font-size="11" text-anchor="start" font-weight="normal" fill="#ff2a2a">outliners</text>
<polyline points="415.31,409.56 416.63,411.53 417.68,407.59 418.6,406.28 419.91,404.31 421.23,403.39 422.54,406.28 423.85,405.62 425.17,401.02 426.48,394.45 427.8,394.45 428.72,399.71 430.03,401.68 431.08,406.28 432.39,408.25 433.71,408.25 435.02,401.68 436.07,400.37 436.99,402.99 438.31,403.65 439.62,405.62 440.93,398.39 441.59,397.08 442.91,406.28 443.96,408.91 444.88,405.62 446.19,401.68 447.5,412.85 448.82,397.08 449.74,399.71 450.79,408.25 452.1,409.56 453.42,400.37 454.73,400.37 456.04,402.99 457.36,408.91 458.67,412.19 459.99,410.22 461.3,406.28 462.61,407.59 463.93,414.82 465.24,404.31 466.56,401.68 467.21,394.45 467.87,407.59 468.53,408.91 469.18,401.68 469.84,394.45 470.23,408.91 470.76,397.08 471.15,408.91 471.81,394.45 473.12,395.77 474.44,401.02 475.1,404.96 475.75,408.25 477.07,408.25 478.38,400.37 479.04,401.02 479.69,410.22 481.01,412.19 482.32,414.82 483.64,405.62 484.95,404.31 486.26,400.37 486.92,411.53 487.58,401.68 488.89,399.05 490.21,395.11 491.52,398.39 492.83,404.96 494.15,408.25 495.46,403.65 496.77,403.65 498.09,408.25 499.14,401.02 500.72,399.71 500,400.37 501.31,399.05 502.63,396.42 503.94,391.82 505.26,391.17 506.31,392.48 506.83,403.65 507.49,412.19 508.15,406.28 509.2,403.39 510.51,403.39 513.14,403.39 515.11,403.39 516.42,405.62 517.74,406.93 519.05,408.25 520.37,408.91 521.68,405.62 522.99,404.31 524.31,407.59 525.62,411.53 526.93,418.1 528.25,410.88 529.56,404.96 530.88,399.71 532.19,394.45 533.5,391.17 534.82,393.14 536.13,396.42 537.45,399.71 538.76,403.65 540.07,406.28 541.39,406.28 542.7,401.02 543.36,392.48 544.67,393.14 545.99,397.08 547.3,402.34 547.96,411.53 548.88,403.65 549.66,408.91 550.32,414.82 550.98,407.59 551.64,410.22 552.29,406.28 553.21,409.56 554.13,405.62 555.18,408.25 556.5,410.22 557.81,412.19 558.86,401.68 560.18,401.02 561.1,402.99 562.41,399.71 563.72,399.05 564.38,402.34 565.04,407.59 565.69,402.34 566.75,400.37 567.67,404.31 568.58,410.88 569.64,405.62 570.95,401.02 572.26,398.39 573.31,404.96 574.37,401.68 575.55,405.62 576.86,400.37 578.18,401.02 579.23,397.74 580.15,398.39 581.2,403.65 582.12,401.02 583.04,401.68 583.83,410.88 584.75,401.02 585.67,402.34" fill="none" stroke="#222" stroke-width="0.75" stroke-linejoin="round"/>
<line x1="415.4" y1="404.1" x2="585.7" y2="404.1" stroke="#f03030" stroke-width="1"/>
<rect x="415.4" y="321.7" width="186.5" height="151.2" fill="none" stroke="#3a3a3a" stroke-width="1"/>
<line x1="433.52" y1="472.9" x2="433.52" y2="470.9" stroke="#3a3a3a" stroke-width="1"/>
<line x1="433.52" y1="321.7" x2="433.52" y2="323.7" stroke="#3a3a3a" stroke-width="1"/>
<line x1="451.85" y1="472.9" x2="451.85" y2="469.9" stroke="#3a3a3a" stroke-width="1"/>
<line x1="451.85" y1="321.7" x2="451.85" y2="324.7" stroke="#3a3a3a" stroke-width="1"/>
<line x1="470.18" y1="472.9" x2="470.18" y2="470.9" stroke="#3a3a3a" stroke-width="1"/>
<line x1="470.18" y1="321.7" x2="470.18" y2="323.7" stroke="#3a3a3a" stroke-width="1"/>
<line x1="488.5" y1="472.9" x2="488.5" y2="469.9" stroke="#3a3a3a" stroke-width="1"/>
<line x1="488.5" y1="321.7" x2="488.5" y2="324.7" stroke="#3a3a3a" stroke-width="1"/>
<line x1="506.82" y1="472.9" x2="506.82" y2="470.9" stroke="#3a3a3a" stroke-width="1"/>
<line x1="506.82" y1="321.7" x2="506.82" y2="323.7" stroke="#3a3a3a" stroke-width="1"/>
<line x1="525.15" y1="472.9" x2="525.15" y2="469.9" stroke="#3a3a3a" stroke-width="1"/>
<line x1="525.15" y1="321.7" x2="525.15" y2="324.7" stroke="#3a3a3a" stroke-width="1"/>
<line x1="543.48" y1="472.9" x2="543.48" y2="470.9" stroke="#3a3a3a" stroke-width="1"/>
<line x1="543.48" y1="321.7" x2="543.48" y2="323.7" stroke="#3a3a3a" stroke-width="1"/>
<line x1="561.8" y1="472.9" x2="561.8" y2="469.9" stroke="#3a3a3a" stroke-width="1"/>
<line x1="561.8" y1="321.7" x2="561.8" y2="324.7" stroke="#3a3a3a" stroke-width="1"/>
<line x1="580.12" y1="472.9" x2="580.12" y2="470.9" stroke="#3a3a3a" stroke-width="1"/>
<line x1="580.12" y1="321.7" x2="580.12" y2="323.7" stroke="#3a3a3a" stroke-width="1"/>
<line x1="598.45" y1="472.9" x2="598.45" y2="469.9" stroke="#3a3a3a" stroke-width="1"/>
<line x1="598.45" y1="321.7" x2="598.45" y2="324.7" stroke="#3a3a3a" stroke-width="1"/>
<line x1="415.4" y1="457.6" x2="418.4" y2="457.6" stroke="#3a3a3a" stroke-width="1"/>
<line x1="601.9" y1="457.6" x2="598.9" y2="457.6" stroke="#3a3a3a" stroke-width="1"/>
<line x1="415.4" y1="442.45" x2="417.4" y2="442.45" stroke="#3a3a3a" stroke-width="1"/>
<line x1="601.9" y1="442.45" x2="599.9" y2="442.45" stroke="#3a3a3a" stroke-width="1"/>
<line x1="415.4" y1="427.3" x2="418.4" y2="427.3" stroke="#3a3a3a" stroke-width="1"/>
<line x1="601.9" y1="427.3" x2="598.9" y2="427.3" stroke="#3a3a3a" stroke-width="1"/>
<line x1="415.4" y1="412.15" x2="417.4" y2="412.15" stroke="#3a3a3a" stroke-width="1"/>
<line x1="601.9" y1="412.15" x2="599.9" y2="412.15" stroke="#3a3a3a" stroke-width="1"/>
<line x1="415.4" y1="397" x2="418.4" y2="397" stroke="#3a3a3a" stroke-width="1"/>
<line x1="601.9" y1="397" x2="598.9" y2="397" stroke="#3a3a3a" stroke-width="1"/>
<line x1="415.4" y1="381.85" x2="417.4" y2="381.85" stroke="#3a3a3a" stroke-width="1"/>
<line x1="601.9" y1="381.85" x2="599.9" y2="381.85" stroke="#3a3a3a" stroke-width="1"/>
<line x1="415.4" y1="366.7" x2="418.4" y2="366.7" stroke="#3a3a3a" stroke-width="1"/>
<line x1="601.9" y1="366.7" x2="598.9" y2="366.7" stroke="#3a3a3a" stroke-width="1"/>
<line x1="415.4" y1="351.55" x2="417.4" y2="351.55" stroke="#3a3a3a" stroke-width="1"/>
<line x1="601.9" y1="351.55" x2="599.9" y2="351.55" stroke="#3a3a3a" stroke-width="1"/>
<line x1="415.4" y1="336.4" x2="418.4" y2="336.4" stroke="#3a3a3a" stroke-width="1"/>
<line x1="601.9" y1="336.4" x2="598.9" y2="336.4" stroke="#3a3a3a" stroke-width="1"/>
<text x="413" y="460.8" font-size="9" text-anchor="end" font-weight="normal" fill="#222">-20</text>
<text x="413" y="430.5" font-size="9" text-anchor="end" font-weight="normal" fill="#222">-10</text>
<text x="413" y="400.2" font-size="9" text-anchor="end" font-weight="normal" fill="#222">0</text>
<text x="413" y="369.9" font-size="9" text-anchor="end" font-weight="normal" fill="#222">10</text>
<text x="413" y="339.6" font-size="9" text-anchor="end" font-weight="normal" fill="#222">20</text>
<text x="415.2" y="483.5" font-size="9" text-anchor="middle" font-weight="normal" fill="#222">0</text>
<text x="451.85" y="483.5" font-size="9" text-anchor="middle" font-weight="normal" fill="#222">50</text>
<text x="488.5" y="483.5" font-size="9" text-anchor="middle" font-weight="normal" fill="#222">100</text>
<text x="525.15" y="483.5" font-size="9" text-anchor="middle" font-weight="normal" fill="#222">150</text>
<text x="561.8" y="483.5" font-size="9" text-anchor="middle" font-weight="normal" fill="#222">200</text>
<text x="598.45" y="483.5" font-size="9" text-anchor="middle" font-weight="normal" fill="#222">250</text>
<text x="508.5" y="498.5" font-size="10.2" text-anchor="middle" font-weight="normal" fill="#222">Data points (pixel)</text>
<text x="393.6" y="404.2" font-size="10.2" text-anchor="middle" font-weight="normal" fill="#222" transform="rotate(-90 393.6 404.2)">Difference of surface positions</text>
<text x="424" y="343.6" font-size="16.6" text-anchor="start" font-weight="bold" fill="#000">b-6</text>
<line x1="487.7" y1="334.9" x2="510.1" y2="334.9" stroke="#444" stroke-width="1"/>
<text x="513.8" y="337.8" font-size="10" text-anchor="start" font-weight="normal" fill="#222">Difference value</text>
<line x1="487.7" y1="347.6" x2="510.1" y2="347.6" stroke="#f03030" stroke-width="1"/>
<text x="513.8" y="350.6" font-size="10" text-anchor="start" font-weight="normal" fill="#222">Average</text>
<text x="507.6" y="383.5" font-size="10.2" text-anchor="start" font-weight="normal" fill="#ff2a2a" stroke="#ff2a2a" stroke-width="0.35" textLength="72.8" lengthAdjust="spacingAndGlyphs">Average = -2.19</text>
<line x1="531.5" y1="385.8" x2="522.17" y2="399.51" stroke="#ff2a2a" stroke-width="0.9"/>
<polygon points="520.2,402.4 521.24,397.67 524.22,399.69" fill="#ff2a2a"/>
<text x="453.9" y="440.9" font-size="11" text-anchor="start" font-weight="normal" fill="#ff2a2a">Step 4:</text>
<text x="453.9" y="454.4" font-size="11" text-anchor="start" font-weight="normal" fill="#ff2a2a">Calculate the relative motion</text>
<polyline points="74.7,593.26 74.99,593.24 75.28,591.91 75.57,594.07 75.86,592.5 76.15,594.04 76.44,591.6 76.73,592.25 77.02,591.41 77.31,592.77 77.59,592.11 77.88,592.61 78.17,592.94 78.46,592.29 78.75,593.32 79.04,592.66 79.33,591.89 79.62,592.36 79.91,592.7 80.2,590.8 80.49,592.36 80.78,592.83 81.07,592.28 81.36,592.78 81.65,592.68 81.94,592.66 82.23,590.92 82.52,592.38 82.81,592.27 83.1,591.91 83.39,590.93 83.67,592.56 83.96,592.85 84.25,590.6 84.54,593.46 84.83,592.67 85.12,591.91 85.41,590.74 85.7,593.09 85.99,594.17 86.28,591.92 86.57,592.78 86.86,592.68 87.15,592.06 87.44,592.24 87.73,592.19 88.02,592.71 88.31,591.46 88.6,591.3 88.89,592.38 89.17,592.73 89.46,591.87 89.75,592.05 90.04,593.16 90.33,592.74 90.62,591.64 90.91,592.47 91.2,592.64 91.49,592.25 91.78,592.42 92.07,592.4 92.36,593.81 92.65,591.13 92.94,592.25 93.23,593.04 93.52,591.69 93.81,592.17 94.1,592.39 94.39,591.64 94.68,590.75 94.97,592 95.25,591.24 95.54,590.83 95.83,593.14 96.12,592.78 96.41,594.68 96.7,593.64 96.99,592.59 97.28,591.46 97.57,591.64 97.86,591.98 98.15,593.78 98.44,590.69 98.73,592 99.02,591.84 99.31,592.04 99.6,593.65 99.89,593.45 100.18,593.29 100.47,591 100.75,593.01 101.04,592.58 101.33,592.59 101.62,591.98 101.91,592.04 102.2,592.2 102.49,593.32 102.78,594.69 103.07,592.28 103.36,592.2 103.65,591.5 103.94,592.48 104.23,592.85 104.52,592.1 104.81,593.53 105.1,593.16 105.39,593.13 105.68,592.19 105.97,590.88 106.26,591.84 106.55,591.57 106.83,592.23 107.12,592.2 107.41,592.73 107.7,592.6 107.99,594.17 108.28,593.28 108.57,593.34 108.86,591.79 109.15,591.92 109.44,591.57 109.73,591.27 110.02,592.62 110.31,591.63 110.6,590.97 110.89,592.41 111.18,591.61 111.47,592.52 111.76,593.58 112.05,592.31 112.34,593 112.62,592.32 112.91,592.74 113.2,592.17 113.49,593.96 113.78,590.88 114.07,591.41 114.36,592.66 114.65,593.06 114.94,592.4 115.23,591.91 115.52,592.09 115.81,592.11 116.1,593.84 116.39,593.22 116.68,591.42 116.97,592.23 117.26,593.51 117.55,593.03 117.84,593.46 118.12,594.49 118.41,589.98 118.7,592.86 118.99,590.08 119.28,592.01 119.57,595.52 119.86,593.75 120.15,587.64 120.44,593.99 120.73,594.58 121.02,589.83 121.31,592.21 121.6,592.41 121.89,589.34 122.18,596.07 122.47,596.95 122.76,594.6 123.05,595.33 123.34,594.1 123.63,589.99 123.91,588.3 124.2,596.24 124.49,594.72 124.78,589.21 125.07,590.26 125.36,594.68 125.65,587.32 125.94,593.17 126.23,594.9 126.52,592.69 126.81,590.44 127.1,589.03 127.39,590.24 127.68,593.3 127.97,593.58 128.26,595.45 128.55,592.55 128.84,593.65 129.13,591.89 129.42,595.05 129.7,593.48 129.99,594.25 130.28,594.92 130.57,594.88 130.86,594.54 131.15,594.88 131.44,591.21 131.73,622.92 132.02,595.17 132.31,591.33 132.6,591.8 132.89,589.34 133.18,592.81 133.47,584.2 133.76,593.84 134.05,592.14 134.34,591.37 134.63,592.03 134.92,592.93 135.21,591.22 135.5,592.21 135.78,591.88 136.07,594.36 136.36,591.97 136.65,594.49 136.94,594.17 137.23,592.06 137.52,587.98 137.81,590.31 138.1,592.39 138.39,592.78 138.68,590.33 138.97,589.5 139.26,589.84 139.55,592.79 139.84,592 140.13,593.09 140.42,593 140.71,594.19 141,592.92 141.28,596.91 141.57,593.29 141.86,592.08 142.15,593.09 142.44,592 142.73,593.36 143.02,592.68 143.31,592.1 143.6,593.17 143.89,592.93 144.18,590.56 144.47,592.91 144.76,592.93 145.05,592.83 145.34,592.38 145.63,592.42 145.92,591.67 146.21,591.81 146.5,592.7 146.79,592.67 147.07,593.45 147.36,593.52 147.65,592.95 147.94,591.86 148.23,592.31 148.52,591.8 148.81,591.7 149.1,592.52 149.39,590.83 149.68,592.79 149.97,592.87 150.26,592.72 150.55,591.55 150.84,592.5 151.13,592.95 151.42,592.08 151.71,591.56 152,592.48 152.29,592.59 152.58,591.59 152.87,591.67 153.15,591.7 153.44,592.97 153.73,592.19 154.02,592.13 154.31,593.74 154.6,591.5 154.89,592.33 155.18,592.65 155.47,590.71 155.76,592.29 156.05,592.94 156.34,592.45 156.63,591.98 156.92,591.79 157.21,592.44 157.5,593.04 157.79,592.92 158.08,593.01 158.37,593.18 158.66,592.41 158.94,592.77 159.23,592.36 159.52,593.02 159.81,593.05 160.1,592.54 160.39,592.66 160.68,591.54 160.97,593.07 161.26,592.25 161.55,592.43 161.84,593.37 162.13,591.86 162.42,592.27 162.71,593.96 163,591.95 163.29,591.7 163.58,592.99 163.87,591.14 164.16,592.28 164.44,593.26 164.73,591.98 165.02,592.67 165.31,593.4 165.6,594 165.89,592.22 166.18,592.95 166.47,591.92 166.76,592.11 167.05,592.79 167.34,592.79 167.63,591.09 167.92,591.13 168.21,591.84 168.5,592.66 168.79,593.13 169.08,592.69 169.37,591.16 169.66,592.06 169.95,592.62 170.24,593.31 170.52,592.28 170.81,593.05 171.1,592.39 171.39,591.85 171.68,591.6 171.97,592.3 172.26,592.65 172.55,592.23 172.84,591.06 173.13,592.12 173.42,593.44 173.71,591.25 174,592.21 174.29,589.82 174.58,592.75 174.87,592.47 175.16,592.62 175.45,592.12 175.74,592.83 176.02,589.67 176.31,593.83 176.6,592.49 176.89,592.78 177.18,592.83 177.47,590.83 177.76,591.81 178.05,591.59 178.34,592.77 178.63,592.18 178.92,592.56 179.21,592.55 179.5,591.85 179.79,591.95 180.08,592.17 180.37,592.29 180.66,593.47 180.95,592.95 181.24,592.12 181.53,592.67 181.81,592.98 182.1,592.14 182.39,593.08 182.68,592.9 182.97,591.75 183.26,592.67 183.55,591.34 183.84,592.01 184.13,591.8 184.42,591.56 184.71,594 185,592.46 185.29,593.36 185.58,592.74 185.87,592.48 186.16,591.48 186.45,592.43 186.74,591.19 187.03,592.79 187.32,592.44 187.6,592.33 187.89,591.7 188.18,592.44 188.47,592.86 188.76,592.64 189.05,593.44 189.34,591.47 189.63,591.85 189.92,592.08 190.21,592.2 190.5,592.85 190.79,592.7 191.08,591.8 191.37,592.98 191.66,592.98 191.95,591.24 192.24,591.25 192.53,592.18 192.82,592.01 193.11,592.26 193.39,591.35 193.68,592.73 193.97,592.34 194.26,592.04 194.55,591.34 194.84,592.58 195.13,592.23 195.42,592.76 195.71,592.88 196,592.88 196.29,592.34 196.58,591.75 196.87,592.91 197.16,592.84 197.45,592.7 197.74,592.14 198.03,591.89 198.32,593.32 198.61,592.14 198.9,593.13 199.19,591.88 199.47,593.11 199.76,593.19 200.05,592.92 200.34,592.45 200.63,593.13 200.92,592.24 201.21,592.29 201.5,592.34 201.79,592.2 202.08,591.76 202.37,592.94 202.66,592.4 202.95,592.42 203.24,593.9 203.53,592.11 203.82,592.96 204.11,592.93 204.4,592.73 204.69,592.33 204.97,592.16 205.26,592.05 205.55,592.91 205.84,591.89 206.13,592.09 206.42,592.69 206.71,592.42 207,591.81 207.29,592.08 207.58,591.89 207.87,592.32 208.16,591.57 208.45,590.78 208.74,592.07 209.03,593.57 209.32,591.14 209.61,592.82 209.9,593.41 210.19,594.13 210.48,592.09 210.76,591.6 211.05,591.67 211.34,592.68 211.63,591.34 211.92,592.46 212.21,592.83 212.5,592.35 212.79,592.24 213.08,592.36 213.37,592.11 213.66,594 213.95,591.26 214.24,592.81 214.53,591.93 214.82,592.98 215.11,592.28 215.4,592.53 215.69,593.55 215.98,592.12 216.27,591.94 216.56,593.21 216.84,593.93 217.13,592.87 217.42,593.01 217.71,592.32 218,592.41 218.29,591.22 218.58,591.93 218.87,592.59 219.16,592.28 219.45,594.5 219.74,593.06 220.03,593.07 220.32,592.48 220.61,592.17 220.9,592.24 221.19,591.72 221.48,592.9 221.77,592.18 222.06,592.5 222.34,592.39 222.63,592.17 222.92,592.61 223.21,592.25 223.5,592.43 223.79,591.65 224.08,592.48 224.37,592.18 224.66,590.51 224.95,591.94 225.24,592.03 225.53,591.62 225.82,593.13 226.11,591.88 226.4,591.85 226.69,592.08 226.98,591.69 227.27,591.83 227.56,591.53 227.85,592.87 228.13,592.09 228.42,592.8 228.71,591.5 229,592.3 229.29,593.35 229.58,592.32 229.87,593.13 230.16,591.69 230.45,592.65 230.74,593.99 231.03,592.68 231.32,591.66 231.61,592.16 231.9,592.86 232.19,591.93 232.48,591.98 232.77,591.33 233.06,591.74 233.35,592.13 233.64,592.97 233.93,592.19 234.21,592.18 234.5,592.39 234.79,592.09 235.08,593.26 235.37,591.99 235.66,592.39 235.95,592.14 236.24,592.47 236.53,592.62 236.82,592.21 237.11,591.83 237.4,592.63 237.69,592.16 237.98,592.96 238.27,592.1 238.56,592.39 238.85,593.33 239.14,591.56 239.43,593.05 239.71,592.34 240,593.35 240.29,593.66 240.58,591.92 240.87,593.42 241.16,593.9 241.45,592.56 241.74,593.52 242.03,592.55 242.32,591.08 242.61,592.68 242.9,592.14 243.19,591.99 243.48,592.22 243.77,592.49 244.06,591.31 244.35,592.46 244.64,592.14 244.93,592.32 245.22,593.33 245.5,591.75 245.79,592.29 246.08,591.08 246.37,586.93 246.66,589.22 246.95,596.26 247.24,593.53 247.53,593.36 247.82,594.15 248.11,591.56 248.4,592.56 248.69,592.12 248.98,595.71 249.27,594.34 249.56,592.53 249.85,593.31 250.14,593.63 250.43,592.64 250.72,592.96 251.01,594.56 251.3,589.02 251.58,593.77 251.87,591.08 252.16,591.19 252.45,590.44 252.74,593.56 253.03,594.43 253.32,591.51 253.61,591.87 253.9,597.18 254.19,597.71 254.48,593.5 254.77,593.19 255.06,592.94 255.35,591.56 255.64,596.04 255.93,587.04 256.22,590.57 256.51,589.77 256.8,591.85 257.08,596.61 257.37,591.92 257.66,593.52 257.95,591.51 258.24,592.63 258.53,591.05 258.82,601.51 259.11,601.51 259.4,592.39 259.69,593.92 259.98,593.32 260.27,591.16 260.56,588.5 260.85,592.83 261.14,590.73 261.43,594.7 261.72,592.73 262.01,592.16 262.3,591.98 262.59,593.14 262.88,591.97 263.16,592.3 263.45,591.46 263.74,591.73 264.03,592.01 264.32,592.69 264.61,592.21 264.9,593.02 265.19,592.99 265.48,593.73 265.77,593.34 266.06,593.31 266.35,592.47 266.64,592.33 266.93,593.37 267.22,592.47 267.51,592.11 267.8,591.74 268.09,592.47 268.38,592.24 268.66,592.67 268.95,591.74 269.24,593.52 269.53,592.23 269.82,594.07 270.11,591.17 270.4,591.74 270.69,593.92 270.98,592.78 271.27,593.42 271.56,593.67 271.85,592.7 272.14,593.04 272.43,591.66 272.72,592.78 273.01,593.2 273.3,592.46 273.59,592.11 273.88,591.82 274.17,592.04 274.45,593.48 274.74,593 275.03,592.54 275.32,593.01 275.61,591.87 275.9,592.65 276.19,592.46 276.48,592.68 276.77,592.38 277.06,593.48 277.35,590.9 277.64,592.82 277.93,592.93 278.22,593.69 278.51,592.47 278.8,593.4 279.09,592.17 279.38,591.55 279.67,591.97 279.96,592.73 280.25,591.5 280.53,592.54 280.82,592.44 281.11,592.37 281.4,592.75 281.69,592.11 281.98,593.29 282.27,593.68 282.56,591.55 282.85,592.94 283.14,592.66 283.43,592.17 283.72,592.75 284.01,593.26 284.3,592.55 284.59,593.09 284.88,592.02 285.17,592.73 285.46,592.6 285.75,591.86 286.03,593.52 286.32,593.48 286.61,591.89 286.9,591.5 287.19,592.35 287.48,592.92 287.77,591.53 288.06,592.04 288.35,591.68 288.64,593.71 288.93,592.5 289.22,593.15 289.51,593.2 289.8,592 290.09,591.89 290.38,592.75 290.67,592.59 290.96,591.42 291.25,591.94 291.54,592.5 291.82,592.05 292.11,592.33 292.4,593.32 292.69,592.78 292.98,592.21 293.27,591.97 293.56,593.27 293.85,592.99 294.14,592.83 294.43,593.5 294.72,591.62 295.01,592.08 295.3,591.47 295.59,593.98 295.88,592.99 296.17,591.11 296.46,593.42 296.75,593.72 297.04,592.25 297.33,591.28 297.62,591.95 297.9,593.1 298.19,592.01 298.48,592.12 298.77,592.22 299.06,592.13 299.35,591.82 299.64,591.58 299.93,591.43 300.22,591.65 300.51,592.52 300.8,593.74 301.09,592.02 301.38,593.49 301.67,590.78 301.96,593.24 302.25,593.73 302.54,593.74 302.83,592.13 303.12,592.19 303.4,591.94 303.69,592.2 303.98,592.97 304.27,591.83 304.56,592.91 304.85,593.49 305.14,591.76 305.43,592.03 305.72,593.08 306.01,592.59 306.3,591.67 306.59,591.74 306.88,593.18 307.17,591.62 307.46,594.27 307.75,592.35 308.04,592.13 308.33,592.5 308.62,592.33 308.91,593.56 309.19,592.5 309.48,592.05 309.77,593.08 310.06,592.31 310.35,592.53 310.64,594.03 310.93,592.85 311.22,591.99 311.51,593.53 311.8,592.39 312.09,592.17 312.38,593.33 312.67,592.59 312.96,591.77 313.25,591.89 313.54,593.12 313.83,591.68 314.12,592.16 314.41,592.32 314.7,591.32 314.99,591.88 315.27,592.14 315.56,591.72 315.85,591.93 316.14,591.49 316.43,592.49 316.72,593.68 317.01,591.29 317.3,591.83 317.59,592.03 317.88,592.37 318.17,592.47 318.46,592.33 318.75,593.09 319.04,591.85 319.33,592.34 319.62,593.09 319.91,592.21 320.2,592.64 320.49,592.43 320.77,592.01 321.06,590.47 321.35,593.17 321.64,592.11 321.93,591.89 322.22,592.1 322.51,591.33 322.8,592.71 323.09,592.64 323.38,592.41 323.67,593.39 323.96,591.61 324.25,593.3 324.54,592.01 324.83,591.54 325.12,593 325.41,592.53 325.7,592.55 325.99,591.17 326.28,592.21 326.56,593.67 326.85,591.63 327.14,591.66 327.43,593.84 327.72,594.36 328.01,590.52 328.3,592.34 328.59,593.94 328.88,591.64 329.17,591.38 329.46,594.12 329.75,591.48 330.04,591.89 330.33,592.42 330.62,592.91 330.91,592.13 331.2,592.99 331.49,592.29 331.78,592.59 332.07,592.72 332.35,592.01 332.64,591.7 332.93,591.76 333.22,592.08 333.51,591.19 333.8,593.31 334.09,592.35 334.38,592.27 334.67,591.52 334.96,594.03 335.25,592.72 335.54,592.63 335.83,592.26 336.12,590.77 336.41,592.23 336.7,592.47 336.99,592.09 337.28,591.69 337.57,592.53 337.86,591.19 338.14,593.28 338.43,591.5 338.72,591.89 339.01,591.68 339.3,591.28 339.59,592.58 339.88,592.1 340.17,592.21 340.46,592.84 340.75,592.95 341.04,592.96 341.33,591.79 341.62,594.05 341.91,593.33 342.2,592.35 342.49,591.46 342.78,592.48 343.07,591.49 343.36,592.45 343.65,592.79 343.93,593.53 344.22,592.27 344.51,591.15 344.8,592.34 345.09,593.15 345.38,591.98 345.67,593.39 345.96,593.23 346.25,591.59 346.54,592.1 346.83,591.7 347.12,592.23 347.41,592.49 347.7,592.28 347.99,592.64 348.28,591.64 348.57,593.33 348.86,593.77 349.15,593.01 349.44,591.75 349.72,592.79 350.01,594.07 350.3,590.34 350.59,593.07 350.88,592.54 351.17,591.98 351.46,592.13 351.75,592.52 352.04,593.53 352.33,592.02 352.62,593.11 352.91,592.53 353.2,591.85 353.49,592.68 353.78,593.7 354.07,592.84 354.36,591.96 354.65,591.88 354.94,593.34 355.23,592.37 355.51,592.19 355.8,591.63 356.09,592.11 356.38,592.29 356.67,592.62 356.96,592.06 357.25,591.84 357.54,592.52 357.83,592.61 358.12,591.14 358.41,592.43 358.7,592.97 358.99,591.91 359.28,593.3 359.57,593.18 359.86,591.74 360.15,592.38 360.44,591.83 360.73,591.84 361.02,592.95 361.3,592.04 361.59,592.67 361.88,592.25 362.17,592.22 362.46,592.46 362.75,593.33 363.04,592.18 363.33,592.39 363.62,592.02 363.91,593.16 364.2,592.26 364.49,592.55 364.78,592.71 365.07,592.59 365.36,592.58 365.65,593.39 365.94,592.79 366.23,592.73 366.52,592.06 366.81,592.51 367.09,591.38 367.38,591.97 367.67,592.17 367.96,592.25 368.25,593.42 368.54,592.14 368.83,591.49 369.12,593.13 369.41,591.45 369.7,591.96 369.99,592.2 370.28,592.71 370.57,592.38 370.86,592.96 371.15,592.41 371.44,592.36 371.73,592.35 372.02,593.28 372.31,591.73 372.6,592.87 372.88,592.12 373.17,591.98 373.46,592.55 373.75,590.64 374.04,592.31 374.33,592.1 374.62,592.58 374.91,592.16 375.2,593.31 375.49,591.94 375.78,592.66 376.07,592.77 376.36,591.86 376.65,591.75 376.94,592.71 377.23,593.13 377.52,593.84 377.81,593.11 378.1,592.05 378.39,591.95 378.67,593.3 378.96,592.36 379.25,591.65 379.54,592.94 379.83,592.8 380.12,593.05 380.41,592.1 380.7,593.75 380.99,592.49 381.28,592.06 381.57,592.44 381.86,591.72 382.15,591.96 382.44,592.77 382.73,593.12 383.02,593.16 383.31,592.05 383.6,592.5 383.89,592.32 384.18,593.05 384.46,591.58 384.75,591.78 385.04,591.86 385.33,593.2 385.62,590.54 385.91,591.8 386.2,593.17 386.49,591.71 386.78,592.49 387.07,592.96 387.36,592.95 387.65,592.05 387.94,592.18 388.23,592.25 388.52,592.55 388.81,593.13 389.1,592.22 389.39,592.59 389.68,592.55 389.97,591.96 390.25,591.19 390.54,592.85 390.83,591.71 391.12,592.92 391.41,591.8 391.7,591.94 391.99,592.37 392.28,592.23 392.57,592.95 392.86,592.64 393.15,591.72 393.44,591.85 393.73,590.79 394.02,593.12 394.31,592.73 394.6,592.33 394.89,592.36 395.18,592.76 395.47,592.7 395.76,592.47 396.04,591.49 396.33,592.47 396.62,592.94 396.91,592.18 397.2,594.26 397.49,593.02 397.78,592.85 398.07,592.18 398.36,594.02 398.65,592.55 398.94,593.16 399.23,591.7 399.52,591.84 399.81,592.72 400.1,592.07 400.39,593.23 400.68,592.25 400.97,592.21 401.26,591.64 401.55,592.71 401.83,593.93 402.12,591.83 402.41,593.17 402.7,592.78 402.99,592.66 403.28,591.22 403.57,592.43 403.86,591.58 404.15,592.35 404.44,593.39 404.73,592.07 405.02,592.03 405.31,592.8 405.6,593.51 405.89,590.38 406.18,590.88 406.47,592.1 406.76,592.07 407.05,591.73 407.34,591.98 407.62,593.45 407.91,593.38 408.2,591.81 408.49,591.43 408.78,591.64 409.07,591.81 409.36,592.41 409.65,591.72 409.94,591.3 410.23,592.02 410.52,591.51 410.81,591.54 411.1,592.9 411.39,591.56 411.68,592.94 411.97,593.05 412.26,591.25 412.55,593.57 412.84,592.53 413.13,591.76 413.41,592.12 413.7,592.67 413.99,593.06 414.28,592.04 414.57,592.02 414.86,592.46 415.15,593.09 415.44,593.41 415.73,592.4 416.02,592.43 416.31,591.81 416.6,592.62 416.89,591.75 417.18,593.26 417.47,593.62 417.76,591.74 418.05,592.7 418.34,592.99 418.63,592.5 418.92,593.26 419.2,592.64 419.49,593.38 419.78,592.28 420.07,592.81 420.36,592.44 420.65,592.4 420.94,592.08 421.23,593.61 421.52,592.29 421.81,592.58 422.1,593.21 422.39,592.58 422.68,592.04 422.97,592.07 423.26,590.99 423.55,592.63 423.84,592.3 424.13,591.03 424.42,592.82 424.71,592.98 424.99,592.72 425.28,592.81 425.57,592.42 425.86,592.3 426.15,592.93 426.44,593.2 426.73,592.44 427.02,593.26 427.31,592.97 427.6,592.15 427.89,592.46 428.18,593.1 428.47,593.41 428.76,593.1 429.05,593.44 429.34,591.33 429.63,590.93 429.92,591.8 430.21,591.78 430.5,593.38 430.78,592.07 431.07,592.28 431.36,592.3 431.65,593.37 431.94,594.53 432.23,591.83 432.52,591.64 432.81,594.6 433.1,592.86 433.39,592.46 433.68,596.95 433.97,595.76 434.26,595.18 434.55,595.12 434.84,594.85 435.13,594.54 435.42,590.72 435.71,594.69 436,588.18 436.29,591.86 436.57,591.03 436.86,592.49 437.15,590.69 437.44,591.65 437.73,590.81 438.02,591.24 438.31,591.18 438.6,591.63 438.89,590.23 439.18,592.36 439.47,593.42 439.76,591.28 440.05,592.74 440.34,581.01 440.63,590.92 440.92,592.85 441.21,592.59 441.5,592.87 441.79,593.05 442.08,591.94 442.36,592.54 442.65,592.31 442.94,593.6 443.23,592.06 443.52,592.9 443.81,593.76 444.1,592.91 444.39,593.53 444.68,591.28 444.97,593.58 445.26,592.2 445.55,593.13 445.84,592.97 446.13,593.3 446.42,591.55 446.71,593.17 447,592.84 447.29,592.23 447.58,592.66 447.87,591.91 448.15,592.92 448.44,593.54 448.73,592.08 449.02,591.56 449.31,592.03 449.6,592.99 449.89,591.58 450.18,591.84 450.47,592.66 450.76,592.09 451.05,592.42 451.34,592.32 451.63,591.94 451.92,591.78 452.21,592.34 452.5,592.35 452.79,594.14 453.08,592.97 453.37,592.07 453.66,592.96 453.94,592.14 454.23,592.54 454.52,592.35 454.81,592.33 455.1,591.48 455.39,592.04 455.68,592.36 455.97,593.23 456.26,592.14 456.55,593.15 456.84,591.53 457.13,592.89 457.42,597.87 457.71,592.5 458,593.1 458.29,592.05 458.58,592.17 458.87,592.87 459.16,592.77 459.45,591.11 459.73,591.58 460.02,592.01 460.31,592.2 460.6,591.34 460.89,592.67 461.18,592.58 461.47,592.49 461.76,593.14 462.05,593.02 462.34,591.1 462.63,592.29 462.92,593.02 463.21,592.56 463.5,592.74 463.79,592.7 464.08,592.44 464.37,593.43 464.66,593.65 464.95,592.54 465.24,592.56 465.52,593.22 465.81,592.47 466.1,592.79 466.39,592.25 466.68,592.54 466.97,591.62 467.26,591.42 467.55,591.93 467.84,592.38 468.13,591.8 468.42,591.88 468.71,592.07 469,591.85 469.29,592.65 469.58,591.85 469.87,592.02 470.16,592.11 470.45,592.51 470.74,592.67 471.03,591.98 471.31,592.74 471.6,593.14 471.89,591.22 472.18,591.56 472.47,592.92 472.76,591.42 473.05,593.81 473.34,591.97 473.63,591.91 473.92,592.21 474.21,592.53 474.5,591.84 474.79,592.02 475.08,593.17 475.37,592.89 475.66,591.69 475.95,591.86 476.24,593.18 476.53,593.42 476.82,592.08 477.1,592.96 477.39,592.89 477.68,592.75 477.97,592.23 478.26,593.79 478.55,591.84 478.84,592.64 479.13,591.75 479.42,593.18 479.71,592.99 480,592.04 480.29,591.69 480.58,592.42 480.87,592.61 481.16,591.45 481.45,591.63 481.74,592.17 482.03,592.55 482.32,591.51 482.61,591.9 482.89,592.63 483.18,591.36 483.47,591.61 483.76,592.23 484.05,592.05 484.34,591.84 484.63,592.7 484.92,593.22 485.21,591.55 485.5,593.51 485.79,593.43 486.08,593.36 486.37,592.04 486.66,591.66 486.95,592.83 487.24,591.48 487.53,591.24 487.82,591.42 488.11,593.28 488.4,591.47 488.68,590.78 488.97,593.01 489.26,593.51 489.55,591.49 489.84,592.02 490.13,592.41 490.42,592.42 490.71,593.57 491,592.97 491.29,592.25 491.58,592.05 491.87,591.73 492.16,591.73 492.45,592.71 492.74,592.43 493.03,591.39 493.32,593.33 493.61,592.01 493.9,592.97 494.19,592.23 494.47,591.09 494.76,592.1 495.05,592.69 495.34,592.86 495.63,593.36 495.92,592.4 496.21,593.97 496.5,592.44 496.79,592.29 497.08,593.01 497.37,592.93 497.66,591.55 497.95,591.51 498.24,590.95 498.53,591.58 498.82,592.16 499.11,592.53 499.4,591.52 499.69,591.9 499.98,592.25 500.26,591.12 500.55,592.49 500.84,592.25 501.13,591.61 501.42,592.04 501.71,592.32 502,591.65 502.29,590.44 502.58,592.61 502.87,591.89 503.16,592.08 503.45,592.26 503.74,591.2 504.03,592.44 504.32,591.18 504.61,593.06 504.9,592.29 505.19,592.95 505.48,592.12 505.77,591.89 506.05,591.99 506.34,592.22 506.63,592.56 506.92,593.23 507.21,591.78 507.5,592.36 507.79,591.57 508.08,593.55 508.37,592.55 508.66,593.57 508.95,591.61 509.24,592.89 509.53,593.11 509.82,591.76 510.11,592.44 510.4,592.21 510.69,592.45 510.98,591.6 511.27,592.18 511.56,592.2 511.84,592.39 512.13,591.7 512.42,591.59 512.71,592.62 513,591.77 513.29,593.43 513.58,592.94 513.87,592.75 514.16,592.9 514.45,592 514.74,593.35 515.03,593.47 515.32,592.25 515.61,592.99 515.9,592.34 516.19,592.32 516.48,592.85 516.77,592.67 517.06,591.78 517.35,592.38 517.63,592.33 517.92,591.91 518.21,592.89 518.5,593.23 518.79,592.63 519.08,591.24 519.37,591.96 519.66,590.82 519.95,591.68 520.24,591.74 520.53,592.73 520.82,593.54 521.11,593.87 521.4,592.28 521.69,593.17 521.98,593.21 522.27,591.99 522.56,592.18 522.85,593.29 523.14,592.2 523.42,591.41 523.71,591.72 524,592.87 524.29,591.72 524.58,593.78 524.87,592.59 525.16,592.7 525.45,591.52 525.74,593.24 526.03,593.05 526.32,592.62 526.61,591.85 526.9,593.37 527.19,592.22 527.48,592.64 527.77,592.71 528.06,593.28 528.35,592.09 528.64,592.28 528.93,592.08 529.22,592.27 529.5,592.46 529.79,593.01 530.08,592.39 530.37,591.83 530.66,592.29 530.95,592.01 531.24,591.77 531.53,592.15 531.82,592.56 532.11,593.07 532.4,591.5 532.69,592.51 532.98,592.51 533.27,592.32 533.56,591.81 533.85,591.78 534.14,592.88 534.43,592.44 534.72,591.57 535,592.81 535.29,592.36 535.58,592.98 535.87,593.41 536.16,593.3 536.45,592.27 536.74,592.17 537.03,594.21 537.32,592.57 537.61,592.54 537.9,593.47 538.19,592.43 538.48,592.94 538.77,591.43 539.06,593.08 539.35,591.66 539.64,593.22 539.93,593.11 540.22,591.38 540.51,592.92 540.79,592.69 541.08,593.5 541.37,592.28 541.66,591.4 541.95,592.59 542.24,592.58 542.53,592.39 542.82,592.92 543.11,593.29 543.4,592.36 543.69,592.62 543.98,593.62 544.27,594.09 544.56,592.06 544.85,593.28 545.14,592.07 545.43,591.76 545.72,592.43 546.01,592.81 546.3,594.18 546.59,591.31 546.87,591.76 547.16,592.93 547.45,593.14 547.74,592.04 548.03,593.8 548.32,591.89 548.61,591.73 548.9,593.24 549.19,593.15 549.48,591.13 549.77,592.74 550.06,592.27 550.35,592.63 550.64,593.84 550.93,591.68 551.22,591.25 551.51,592.81 551.8,593.03 552.09,591.32 552.38,593.46 552.66,592.61 552.95,593.35 553.24,593.51 553.53,592.83 553.82,594.29 554.11,593.25 554.4,592.37 554.69,592.91 554.98,593.18 555.27,590.64 555.56,591.84 555.85,592.76 556.14,591.62 556.43,591.94 556.72,592.28 557.01,591.87 557.3,592.65 557.59,592.8 557.88,591.13 558.16,592.34 558.45,591.32 558.74,593.81 559.03,593.05 559.32,593.04 559.61,592.31 559.9,592.44 560.19,591.71 560.48,592.03 560.77,592.4 561.06,592.02 561.35,591.89 561.64,592.2 561.93,594.13 562.22,592.74 562.51,591.96 562.8,592.68 563.09,591.41 563.38,592.76 563.67,592.35 563.95,592.97 564.24,592.49 564.53,591.61 564.82,591.39 565.11,591.78 565.4,591.92 565.69,592.31 565.98,593.31 566.27,591.95 566.56,592.85 566.85,592.19 567.14,592.47 567.43,591.79 567.72,592.87 568.01,591.84 568.3,592.39 568.59,591.25 568.88,592.48 569.17,592.51 569.46,593.73 569.75,591.78 570.03,592.37 570.32,593.96 570.61,592.06 570.9,592.05 571.19,592.63 571.48,591.48 571.77,592.47 572.06,592.5 572.35,592.11 572.64,593.19 572.93,592.01 573.22,593 573.51,592.22 573.8,591.62 574.09,592.67 574.38,592.85 574.67,591.22 574.96,592.37 575.25,591.64 575.53,591.97 575.82,592.07 576.11,591.38 576.4,592.42 576.69,593.48 576.98,592.56 577.27,592.82 577.56,593.18 577.85,592.68 578.14,592.09 578.43,592.04 578.72,592.33 579.01,592.49 579.3,592.34 579.59,592.7 579.88,592.99 580.17,592.33 580.46,591.77 580.75,592.9 581.04,592.38 581.32,591.9 581.61,593.07 581.9,592.12 582.19,592.27 582.48,591.66 582.77,593.01 583.06,592.7 583.35,591.29 583.64,590.94 583.93,591.96 584.22,591.41 584.51,592.82 584.8,591.67 585.09,592.16 585.38,591.89 585.67,593.24 585.96,592.26 586.25,591.88 586.54,591.58 586.83,592.06 587.12,592.07 587.4,591.68 587.69,591.16 587.98,593.36 588.27,593.67 588.56,592.33 588.85,591.22 589.14,591.08 589.43,591.84 589.72,593.03 590.01,591.94 590.3,592.8 590.59,591.76 590.88,592.48 591.17,591.17 591.46,593.04 591.75,591.32 592.04,592.87 592.33,591.87 592.62,592.14 592.9,593.29 593.19,593.72 593.48,592.49 593.77,592.59 594.06,592.79 594.35,591.85 594.64,592.15 594.93,591.94 595.22,593.1 595.51,592.47 595.8,592.48 596.09,591.65 596.38,591.47 596.67,592.72 596.96,592.38 597.25,594.09 597.54,590.93 597.83,592.11 598.12,592 598.41,592.13 598.7,592.48 598.98,593.62 599.27,593.02 599.56,592.95 599.85,592.53 600.14,593.16 600.43,592.22 600.72,591.92 601.01,592.25 601.3,592.27 601.59,590.7 601.88,592.93 602.17,592.84 602.46,591.79 602.75,592.63 603.04,591.15 603.33,592.85 603.62,592.38 603.91,591.15 604.2,593.51 604.49,591.63 604.77,592.17 605.06,592.21 605.35,591.38 605.64,592.79 605.93,591.92 606.22,592.72 606.51,591.46 606.8,593.24 607.09,592.42 607.38,592.75 607.67,593.15 607.96,591.66 608.25,592.66 608.54,591.96 608.83,594.03 609.12,593.1 609.41,593.07 609.7,592.12 609.99,593.51 610.27,592.14 610.56,591.69 610.85,592.32 611.14,592.27 611.43,592.65 611.72,593 612.01,592.41 612.3,592.23 612.59,591.32 612.88,592.25 613.17,592.89 613.46,591.79 613.75,593.11 614.04,593.82 614.33,592.56 614.62,592.89 614.91,591.94 615.2,592.43 615.49,593.32 615.78,592.91 616.07,592.76 616.35,590.91 616.64,593.28 616.93,593.13 617.22,591.51 617.51,591.35 617.8,592.63 618.09,591.42 618.38,592.45 618.67,593.04 618.96,592.46 619.25,591.75 619.54,591.34 619.83,592.55 620.12,593.32 620.41,592.23 620.7,592.72 620.99,592.87 621.28,592.09 621.57,592.24 621.86,593.26 622.14,592.89 622.43,591.39 622.72,592.54 623.01,591.11 623.3,594.11 623.59,593.16 623.88,592.38 624.17,593.09 624.46,592.27 624.75,592.34 625.04,593.35 625.33,591.1 625.62,591.13 625.91,593.59 626.2,592.6 626.49,593.33 626.78,592.69 627.07,592.72 627.36,592.57 627.64,591.6 627.93,591.54 628.22,592.62 628.51,592.09 628.8,591.92 629.09,593.51 629.38,592.34 629.67,593.12 629.96,591.57 630.25,591.49 630.54,592.17 630.83,591.34 631.12,592.59 631.41,592.95 631.7,591.43 631.99,592.39 632.28,592.16 632.57,593.34 632.86,591.88 633.15,592.45 633.44,592.49 633.72,593.17 634.01,592.94 634.3,592.7 634.59,592.29 634.88,591.49 635.17,593.65 635.46,593.4 635.75,593.08 636.04,592.92 636.33,593 636.62,593.23 636.91,592.88 637.2,592.09 637.49,592.7 637.78,593.06 638.07,591.97 638.36,592.3 638.65,593.1 638.94,591.54 639.23,593.72 639.51,594.38 639.8,591.66 640.09,594.07 640.38,594.43 640.67,589.65 640.96,593.33 641.25,594.35 641.54,592.04 641.83,592.7 642.12,596.35 642.41,593.32 642.7,591.43 642.99,593.32 643.28,591.51 643.57,594.77 643.86,590.72 644.15,593.12 644.44,593.9 644.73,594.92 645.01,590.54 645.3,592.51 645.59,593.21 645.88,591.72 646.17,592.72 646.46,593.12 646.75,591.73 647.04,593.34 647.33,590.57 647.62,587.73 647.91,574.18 648.2,592.37 648.49,593.26 648.78,591.14 649.07,596.36 649.36,595.13 649.65,590.81 649.94,588.25 650.23,590.1 650.52,594.48 650.8,592.73 651.09,589.1 651.38,590.13 651.67,593.94 651.96,591.87 652.25,589.64 652.54,589.76 652.83,593.14 653.12,591.59 653.41,591.29 653.7,592.84 653.99,592.87 654.28,590.42 654.57,592.38 654.86,592.51 655.15,590.01 655.44,590.05 655.73,591.23 656.02,593.21 656.31,594 656.6,594.59 656.88,593.63 657.17,591.75 657.46,595.01 657.75,594.11 658.04,594.41 658.33,591.99 658.62,593.23 658.91,589.3 659.2,589.7 659.49,592.27 659.78,592.62 660.07,590.19 660.36,594.13 660.65,590.43 660.94,594.9 661.23,593.12 661.52,591.69 661.81,592.1 662.1,595.61 662.38,596.04 662.67,592.1 662.96,595.56 663.25,588.78 663.54,593.77 663.83,592.08" fill="none" stroke="#000" stroke-width="1.35" stroke-linejoin="round"/>
<rect x="74.7" y="546.8" width="608.3" height="91.1" fill="none" stroke="#2a2a2a" stroke-width="1.3"/>
<line x1="110.89" y1="637.9" x2="110.89" y2="634.9" stroke="#2a2a2a" stroke-width="1.3"/>
<line x1="147.07" y1="637.9" x2="147.07" y2="632.9" stroke="#2a2a2a" stroke-width="1.3"/>
<line x1="183.26" y1="637.9" x2="183.26" y2="634.9" stroke="#2a2a2a" stroke-width="1.3"/>
<line x1="219.45" y1="637.9" x2="219.45" y2="632.9" stroke="#2a2a2a" stroke-width="1.3"/>
<line x1="255.64" y1="637.9" x2="255.64" y2="634.9" stroke="#2a2a2a" stroke-width="1.3"/>
<line x1="291.82" y1="637.9" x2="291.82" y2="632.9" stroke="#2a2a2a" stroke-width="1.3"/>
<line x1="328.01" y1="637.9" x2="328.01" y2="634.9" stroke="#2a2a2a" stroke-width="1.3"/>
<line x1="364.2" y1="637.9" x2="364.2" y2="632.9" stroke="#2a2a2a" stroke-width="1.3"/>
<line x1="400.39" y1="637.9" x2="400.39" y2="634.9" stroke="#2a2a2a" stroke-width="1.3"/>
<line x1="436.57" y1="637.9" x2="436.57" y2="632.9" stroke="#2a2a2a" stroke-width="1.3"/>
<line x1="472.76" y1="637.9" x2="472.76" y2="634.9" stroke="#2a2a2a" stroke-width="1.3"/>
<line x1="508.95" y1="637.9" x2="508.95" y2="632.9" stroke="#2a2a2a" stroke-width="1.3"/>
<line x1="545.14" y1="637.9" x2="545.14" y2="634.9" stroke="#2a2a2a" stroke-width="1.3"/>
<line x1="581.32" y1="637.9" x2="581.32" y2="632.9" stroke="#2a2a2a" stroke-width="1.3"/>
<line x1="617.51" y1="637.9" x2="617.51" y2="634.9" stroke="#2a2a2a" stroke-width="1.3"/>
<line x1="653.7" y1="637.9" x2="653.7" y2="632.9" stroke="#2a2a2a" stroke-width="1.3"/>
<line x1="74.7" y1="615.17" x2="78.3" y2="615.17" stroke="#2a2a2a" stroke-width="1.3"/>
<line x1="683" y1="615.17" x2="679.4" y2="615.17" stroke="#2a2a2a" stroke-width="1.3"/>
<line x1="74.7" y1="592.4" x2="78.3" y2="592.4" stroke="#2a2a2a" stroke-width="1.3"/>
<line x1="683" y1="592.4" x2="679.4" y2="592.4" stroke="#2a2a2a" stroke-width="1.3"/>
<line x1="74.7" y1="569.62" x2="78.3" y2="569.62" stroke="#2a2a2a" stroke-width="1.3"/>
<line x1="683" y1="569.62" x2="679.4" y2="569.62" stroke="#2a2a2a" stroke-width="1.3"/>
<text x="67.9" y="550.85" font-size="14.3" text-anchor="end" font-weight="normal" fill="#000" textLength="22.5" lengthAdjust="spacingAndGlyphs">100</text>
<text x="67.9" y="596.4" font-size="14.3" text-anchor="end" font-weight="normal" fill="#000" textLength="7.5" lengthAdjust="spacingAndGlyphs">0</text>
<text x="67.9" y="641.95" font-size="14.3" text-anchor="end" font-weight="normal" fill="#000" textLength="28" lengthAdjust="spacingAndGlyphs">-100</text>
<text x="74.7" y="655.8" font-size="14.3" text-anchor="middle" font-weight="normal" fill="#000" textLength="7.65" lengthAdjust="spacingAndGlyphs">0</text>
<text x="147.07" y="655.8" font-size="14.3" text-anchor="middle" font-weight="normal" fill="#000" textLength="22.95" lengthAdjust="spacingAndGlyphs">500</text>
<text x="219.45" y="655.8" font-size="14.3" text-anchor="middle" font-weight="normal" fill="#000" textLength="30.6" lengthAdjust="spacingAndGlyphs">1000</text>
<text x="291.82" y="655.8" font-size="14.3" text-anchor="middle" font-weight="normal" fill="#000" textLength="30.6" lengthAdjust="spacingAndGlyphs">1500</text>
<text x="364.2" y="655.8" font-size="14.3" text-anchor="middle" font-weight="normal" fill="#000" textLength="30.6" lengthAdjust="spacingAndGlyphs">2000</text>
<text x="436.57" y="655.8" font-size="14.3" text-anchor="middle" font-weight="normal" fill="#000" textLength="30.6" lengthAdjust="spacingAndGlyphs">2500</text>
<text x="508.95" y="655.8" font-size="14.3" text-anchor="middle" font-weight="normal" fill="#000" textLength="30.6" lengthAdjust="spacingAndGlyphs">3000</text>
<text x="581.32" y="655.8" font-size="14.3" text-anchor="middle" font-weight="normal" fill="#000" textLength="30.6" lengthAdjust="spacingAndGlyphs">3500</text>
<text x="653.7" y="655.8" font-size="14.3" text-anchor="middle" font-weight="normal" fill="#000" textLength="30.6" lengthAdjust="spacingAndGlyphs">4000</text>
<text x="378.8" y="676" font-size="14.4" text-anchor="middle" font-weight="normal" fill="#000">Frame number of the xz video</text>
<text x="12.1" y="597.7" font-size="14.2" text-anchor="middle" font-weight="normal" fill="#000" transform="rotate(-90 12.1 597.7)">Relative</text>
<text x="29.6" y="597.8" font-size="14.2" text-anchor="middle" font-weight="normal" fill="#000" transform="rotate(-90 29.6 597.8)">motion (pixel)</text>
<line x1="88.8" y1="562" x2="114.2" y2="562" stroke="#000" stroke-width="1.2"/>
<text x="118.5" y="566.6" font-size="11.7" text-anchor="start" font-weight="normal" fill="#000">Relative motion of every two neighbour frames</text>
<text x="18.2" y="670.2" font-size="16" text-anchor="start" font-weight="bold" fill="#000">c</text>
<line x1="495.7" y1="582" x2="495.7" y2="638" stroke="#f02020" stroke-width="1.5" stroke-dasharray="5.5 2.7"/>
<line x1="553.9" y1="499.7" x2="502.21" y2="578.99" stroke="#f02020" stroke-width="1.5"/>
<polygon points="496.2,588.2 499.74,576.18 505.77,580.11" fill="#f02020"/>
<polyline points="76,751.18 76.63,751.38 77.25,751.11 77.88,751.33 78.5,751.43 79.13,750.41 79.75,749.75 80.38,750.85 81,750.49 81.63,750.3 82.26,751.61 82.88,751.35 83.51,751.92 84.13,751.6 84.76,751.76 85.38,750.81 86.01,751.16 86.64,751.69 87.26,751.28 87.89,751.41 88.51,751.29 89.14,750.08 89.76,751.07 90.39,751.41 91.01,751.21 91.64,750.77 92.27,752.19 92.89,752.34 93.52,753.01 94.14,753.31 94.77,753.07 95.39,753.24 96.02,752.28 96.64,752.45 97.27,751.8 97.9,752.27 98.52,752.32 99.15,750.85 99.77,750.09 100.4,749.77 101.02,750.87 101.65,750.37 102.28,750.38 102.9,749.87 103.53,749.97 104.15,749.8 104.78,749.63 105.4,749.96 106.03,750.12 106.65,750.76 107.28,750.45 107.91,750.62 108.53,750.46 109.16,750.49 109.78,749.82 110.41,748.45 111.03,748.9 111.66,749 112.29,748.73 112.91,747.78 113.54,747.35 114.16,746.02 114.79,746.25 115.41,745.69 116.04,744.62 116.66,743.43 117.29,744.02 117.92,744.31 118.54,742.59 119.17,742.77 119.79,741.91 120.52,740.14 121.25,738.95 121.98,738.65 122.71,738.13 123.44,735.82 124.17,735.13 125.05,732.98 125.92,732.44 126.69,734.53 127.46,737.76 128.55,740.51 129.43,737.19 130.3,735.03 131.07,733.53 131.84,732.07 132.71,736.91 133.37,744.88 133.81,762.29 134.24,773.12 135.12,774.06 135.56,762.55 136.21,744.53 137.09,739.17 137.75,737.14 138.4,736.45 139.13,736.43 139.86,735.3 140.59,734.68 141.32,735.38 142.05,736.31 142.78,737.04 143.51,735.86 144.24,734.83 144.97,734.33 145.7,734.56 146.43,734.89 147.16,735.93 147.89,734.84 148.62,734.22 149.35,734.93 150.08,736.09 150.81,737.44 151.54,737.86 152.64,741.33 153.37,741.72 154.1,740.89 154.83,741.53 155.45,741.88 156.08,741.01 156.7,741.59 157.33,741.57 157.95,741.94 158.58,741.53 159.21,741.95 159.94,742.56 160.67,741.75 161.4,741.59 162.13,745.34 162.85,749.18 163.58,751.26 164.68,754.47 165.77,751.38 166.5,750.25 167.23,749.39 167.96,748.49 168.59,748.18 169.22,748.27 169.84,747.61 170.47,747.26 171.09,747.62 171.72,746.3 172.34,746.45 172.97,746.49 173.59,745.51 174.22,744.61 174.85,744.97 175.47,743.88 176.1,743 176.72,742.76 177.35,743.03 177.97,741.92 178.6,741.59 179.22,741.29 179.85,741.87 180.48,741.28 181.1,741.57 181.73,740.62 182.35,740.44 182.98,740.9 183.6,741.55 184.23,741.08 184.86,740.43 185.48,739.9 186.11,740.52 186.73,740.29 187.36,741.35 187.98,742.01 188.61,741.22 189.23,741.07 189.86,742.01 190.49,742.57 191.11,743.36 191.74,743.16 192.36,742.89 192.99,743.27 193.61,744.59 194.24,744.53 194.87,744.86 195.49,745.38 196.12,745.87 196.74,746.32 197.37,747.69 197.99,747.22 198.62,746.94 199.24,748.55 199.87,749.39 200.5,750.15 201.12,749.68 201.75,750.52 202.37,751.05 203,750.18 203.62,750.84 204.25,751.48 204.87,751.63 205.5,751.6 206.13,751.31 206.75,751.41 207.38,751.4 208,751.09 208.63,751.95 209.25,751.9 209.88,752.88 210.51,752.07 211.13,753.27 211.76,753.56 212.38,753.88 213.01,753.9 213.63,753.83 214.26,753.12 214.88,751.66 215.51,752.16 216.14,751.29 216.77,751.16 217.4,751.73 218.04,751.76 218.67,751.56 219.31,752.4 219.94,752.22 220.57,751.63 221.21,751.17 221.84,752.02 222.48,751.74 223.11,752.14 223.75,751.56 224.38,750.98 225,750.66 225.63,750.68 226.26,749.21 226.88,749.27 227.51,749.21 228.13,748.65 228.76,748.07 229.38,745.99 230.01,745.75 230.64,745.73 231.26,743.93 231.89,743.1 232.51,742.36 233.14,742.14 233.76,741.67 234.39,741.28 235.01,741.38 235.64,739.8 236.27,738.86 236.89,738.27 237.52,737.73 238.14,736.95 238.77,737.87 239.39,737.79 240.02,736.05 240.64,735.6 241.27,734.72 241.9,733.95 242.52,733.63 243.15,733.83 243.77,733.65 244.4,732.99 245.02,732.19 245.65,731.87 246.28,731.17 246.93,731.31 247.59,731.44 248.25,730.66 248.9,729.51 249.56,728.88 250.27,728.3 250.98,728 251.69,727.75 252.41,726.48 253.17,729.19 253.94,731.3 254.67,730.55 255.4,729.87 256.13,729.55 256.86,731.04 257.59,731.8 258.32,733.21 259.08,732.39 259.85,731.31 260.51,739.21 261.6,739.6 262.33,738.66 263.06,738.82 263.79,738.88 264.42,739.73 265.04,740.24 265.67,739.47 266.29,740.02 266.92,740.09 267.55,739.17 268.17,739.06 268.8,738.22 269.42,738.96 270.05,738.96 270.67,739.28 271.3,739.18 271.93,738.82 272.55,738.67 273.18,738.14 273.8,736.92 274.43,737.07 275.05,735.97 275.68,735.55 276.3,736.36 276.93,735.33 277.56,735.06 278.18,734.96 278.81,736.34 279.43,735.78 280.06,735.25 280.68,736.47 281.31,735.81 281.93,736.89 282.56,737.2 283.19,737.71 283.81,738.24 284.44,737.9 285.06,738.2 285.69,737.04 286.31,737.69 286.94,737.54 287.57,737.82 288.19,736.86 288.82,737.52 289.44,738.18 290.07,736.92 290.69,736.76 291.32,737.1 291.94,737.73 292.57,736.99 293.2,736.49 293.82,736.36 294.45,736.94 295.07,737.62 295.7,737.39 296.32,737.29 296.95,737.36 297.58,737.38 298.2,737.58 298.83,737.14 299.45,737.59 300.08,738.65 300.7,738.16 301.33,738.51 301.95,737.62 302.58,738.12 303.21,738.47 303.83,738.65 304.46,738.52 305.08,738.46 305.71,738.79 306.33,739.48 306.96,738.55 307.58,738.05 308.21,738.89 308.84,739.6 309.46,739.23 310.09,738.9 310.71,739.22 311.34,738.41 311.96,738.14 312.59,737.87 313.22,738.42 313.84,738.2 314.47,737.93 315.09,738.61 315.72,739.41 316.34,738.62 316.97,738.95 317.59,738.58 318.22,739.17 318.85,738.98 319.47,738.3 320.1,737.86 320.72,737.28 321.35,737.64 321.97,737.56 322.6,737.05 323.22,737.05 323.85,736.89 324.48,737.54 325.1,736.64 325.73,737.62 326.35,737.11 326.98,736.97 327.6,736.58 328.23,736.96 328.86,737.04 329.48,736.51 330.11,736.18 330.73,736.43 331.36,736.79 331.98,736.14 332.61,736.4 333.23,736.93 333.86,736.3 334.49,735.23 335.11,734.54 335.74,734.9 336.36,734.83 336.99,735.15 337.61,734.95 338.24,733.58 338.87,733.26 339.49,733.37 340.12,733.44 340.74,734.55 341.37,735.53 341.99,736.24 342.62,735.58 343.24,736.34 343.87,735.8 344.5,735.79 345.12,736.4 345.75,735.62 346.37,735.31 347,736.55 347.62,736.27 348.25,736.31 348.87,736.8 349.5,737.29 350.13,736.39 350.75,736.61 351.38,736.96 352,737.14 352.63,736.72 353.25,737.18 353.88,738.06 354.51,737.48 355.13,737.45 355.76,736.66 356.38,736.54 357.01,737.17 357.63,736.48 358.26,737.52 358.88,738.06 359.51,736.87 360.14,737.78 360.76,737.36 361.39,737.93 362.01,738.26 362.64,737.66 363.26,738.11 363.89,738.37 364.51,738.84 365.16,738.17 365.8,738.78 366.44,739.53 367.08,739.45 367.72,739.24 368.36,738.44 369,738.79 369.65,738.78 370.29,739.51 370.93,739.87 371.57,739.91 372.19,739.22 372.82,739.73 373.45,739.97 374.07,739.3 374.7,740.27 375.32,740.35 375.95,739.46 376.56,740.48 377.16,739.59 377.77,739.51 378.38,740.19 378.99,740.33 379.6,740.34 380.21,740.54 380.81,740.31 381.42,739.96 382.03,739.56 382.64,739.18 383.25,740.18 383.86,740.77 384.46,740.7 385.07,741.04 385.68,740.55 386.29,740.16 386.9,740.19 387.55,741.37 388.21,740.62 388.87,741.24 389.52,741.23 390.18,742.32 390.84,742.27 391.49,742.36 392.15,742.69 392.81,743.25 393.47,744.1 394.09,743.44 394.72,743.92 395.34,742.74 395.97,742.35 396.59,741.76 397.22,741.39 397.84,742.32 398.5,742.87 399.16,742.21 399.81,741.94 400.47,742.25 401.13,743.04 401.79,743.61 402.44,743.82 403.1,743.68 403.76,742.86 404.41,742.94 405.04,742.24 405.66,742.32 406.29,742.27 406.92,741.41 407.54,740.91 408.17,741.44 408.79,740.19 409.42,741.17 410.04,741.83 410.67,742.29 411.29,741.52 411.92,741.47 412.55,741.51 413.17,741.65 413.83,742.46 414.49,742.43 415.14,741.79 415.8,742.56 416.46,742.34 417.11,742.52 417.77,742.91 418.43,741.88 419.08,742.82 419.74,743.17 420.4,743.17 421.05,743.32 421.71,743.38 422.37,743.02 423.02,743.55 423.68,743.03 424.34,743.7 425,744.39 425.65,744.48 426.31,744.84 426.93,745.92 427.56,746.48 428.19,745.55 428.81,746.41 429.44,746.68 430.06,745.94 430.69,746.26 431.31,746.5 431.94,746.57 432.57,747.65 433.19,749.12 433.82,748.99 434.44,750.13 435.07,750.61 435.72,750.25 436.38,751.7 437.04,752.27 437.7,753.46 438.35,754 439.12,755.93 439.89,757.16 440.76,749.29 441.64,732.2 442.07,725.72 442.95,726.08 443.83,727.36 444.48,727.18 445.14,726.51 445.8,726.16 446.45,726.14 447.11,726.45 447.77,725.54 448.42,725.24 449.08,725.01 449.74,724.15 450.4,723.06 451.13,722.62 451.85,721.41 452.58,720.71 453.31,722.33 454.04,723.04 454.77,723.53 455.5,725.61 456.23,726.86 456.96,727.38 458.06,734.74 458.72,734.44 459.37,734.17 460.03,733.14 460.69,732 461.34,731.57 461.97,732.59 462.59,731.95 463.22,732.18 463.85,731.81 464.47,731.64 465.1,731.48 465.72,731.8 466.35,731.38 466.97,730.82 467.6,730.6 468.22,730.51 468.85,730.95 469.48,730.31 470.1,729.84 470.73,730.27 471.35,730.33 471.98,730.81 472.6,729.78 473.23,729.81 473.86,729.73 474.48,728.93 475.21,729.19 475.94,727.42 476.67,725.75 477.4,727.96 478.13,729.4 478.86,731.85 479.49,731.97 480.11,731.77 480.74,731.69 481.36,733.02 481.99,733.01 482.61,734.07 483.24,734.17 483.87,735.05 484.49,734.42 485.12,734.08 485.74,734.01 486.37,735.03 486.99,735.27 487.62,734.95 488.28,732.93 488.93,732.32 489.59,731.86 490.25,730.28 490.9,727.76 491.56,727.42 492.22,727.45 492.87,727.71 493.53,727.7 494.19,727.82 494.81,729.16 495.44,730.42 496.06,729.93 496.69,731.23 497.32,731.13 497.94,731.81 498.57,732.5 499.19,733.03 499.82,731.82 500.44,731.84 501.07,732.54 501.69,733.65 502.32,732.8 502.95,732.9 503.57,734.4 504.2,734.14 504.82,734.8 505.45,735.34 506.07,736.53 506.7,737.87 507.33,737.49 507.95,738.93 508.58,740.1 509.2,741.33 509.83,741.89 510.45,743.3 511.08,743.45 511.7,744.08 512.37,744.41 513.03,745.97 513.69,746.61 514.35,746.95 515.02,747.35 515.68,748.94 516.34,749.93 517,751.02 517.66,751.39 518.3,751 518.94,750.04 519.58,750.4 520.22,749.16 520.86,749.88 521.5,750.94 522.14,751.51 522.77,750.93 523.41,751.07 524.05,752.41 524.69,752.91 525.33,753.76 525.97,754.16 526.61,753.69 527.25,754.34 527.88,754.46 528.52,753.88 529.16,753.74 529.8,753.23 530.44,753.64 531.08,754.97 531.72,754.2 532.36,754.75 532.99,754.3 533.63,754.13 534.27,755.16 534.91,755.05 535.55,754.74 536.19,754.75 536.83,755.68 537.47,756.07 538.1,755.28 538.74,755.31 539.38,756.69 540.02,756.07 540.66,756.41 541.3,756.33 541.94,756.97 542.58,756.99 543.21,757.35 543.85,757.09 544.49,756.36 545.13,756 545.77,755.66 546.41,756.64 547.05,755.75 547.69,755.06 548.32,756.31 548.96,755.47 549.6,756.21 550.24,755.04 550.88,755.04 551.52,754.52 552.16,755.26 552.8,755.15 553.43,755.05 554.07,755.13 554.71,755.28 555.35,754.31 555.99,754.2 556.63,753.87 557.27,753.06 557.9,753.91 558.54,753.87 559.18,754.2 559.82,753.22 560.46,753.29 561.1,753.15 561.74,753.66 562.38,752.78 563.01,752.85 563.65,753.17 564.29,752.61 564.93,753.24 565.57,753.18 566.21,752.27 566.85,751.88 567.49,751.28 568.12,749.95 568.76,749.2 569.4,749.65 570.04,748.36 570.68,747.56 571.32,746.2 571.96,745.44 572.6,744.63 573.23,745.27 573.87,744.89 574.51,744.96 575.15,745.03 575.79,744.22 576.43,744.21 577.07,743.33 577.71,742.51 578.34,742.88 578.98,742.81 579.62,742.8 580.26,741.84 580.9,741.76 581.54,740.95 582.18,741.48 582.82,741.5 583.45,740.55 584.09,741.27 584.73,740.31 585.37,739.7 586.01,740.56 586.65,740.25 587.29,740.38 587.93,740.62 588.56,739.62 589.2,740.35 589.84,739.82 590.48,739.8 591.12,739.59 591.76,740.15 592.4,740.63 593.04,740.1 593.67,739.58 594.31,739.74 594.95,740.09 595.59,739.74 596.23,739.76 596.87,740.94 597.51,741.49 598.15,742.33 598.78,742.83 599.42,742.96 600.06,742.18 600.7,741.49 601.34,741.48 601.98,741.82 602.62,742.17 603.25,742.44 603.89,742.32 604.53,743.21 605.17,742.71 605.81,742.85 606.45,743.75 607.09,744.12 607.73,743.3 608.36,742.78 609,743.53 609.64,742.46 610.28,742.13 610.92,742.67 611.56,742.94 612.2,742.4 612.84,742.23 613.47,742.57 614.11,743.91 614.75,744.18 615.39,745.39 616.03,745.79 616.67,746.49 617.31,745.29 617.95,745.11 618.58,744.86 619.22,745.64 619.86,746.01 620.5,745.82 621.14,746.77 621.78,746.58 622.42,747.03 623.06,747.19 623.69,748.37 624.33,748.37 624.97,748.18 625.61,747.8 626.25,748.41 626.89,749.17 627.53,749.74 628.17,750.52 628.8,750.8 629.44,750.02 630.08,749.52 630.72,750.47 631.36,751.09 632,750.97 632.64,751.58 633.28,751.5 633.91,751.07 634.55,750.76 635.19,750.43 635.83,751.5 636.47,752.59 637.11,753.25 637.75,752.89 638.39,753.43 639.02,754.4 639.66,754.9 640.3,755.01 640.94,754.95 641.58,755.33 642.22,755.13 642.86,755.28 643.5,757.07 644.13,759.04 644.77,759.75 645.41,760.37 646.05,761.1 646.69,762.18 647.58,765.34 648.48,767.56 649.24,756.79 650.01,732.71 650.52,722.22 651.16,722.77 651.8,722.99 652.44,724.05 653.08,724.68 653.71,725.97 654.35,726.51 654.99,726.2 655.63,727.49 656.27,727.92 656.91,728.18 657.55,728.08 658.19,728.95 658.82,729.9 659.46,729.07 660.1,729.82 660.74,729.81 661.38,730.53 662.02,731.89 662.66,732.99 663.3,733.28" fill="none" stroke="#f02020" stroke-width="1.5" stroke-linejoin="round"/>
<polyline points="76,742.56 76.63,742.78 77.25,742.53 77.88,742.78 78.5,742.89 79.13,741.9 79.75,741.26 80.38,742.37 81,742.03 81.63,741.86 82.26,743.2 82.88,742.96 83.51,743.55 84.13,743.25 84.76,743.43 85.38,742.51 86.01,742.87 86.64,743.42 87.26,743.03 87.89,743.18 88.51,743.08 89.14,741.9 89.76,742.91 90.39,743.27 91.01,743.09 91.64,742.67 92.27,744.12 92.89,744.29 93.52,744.97 94.14,745.29 94.77,745.08 95.39,745.26 96.02,744.33 96.64,744.52 97.27,743.89 97.9,744.38 98.52,744.45 99.15,743 99.77,742.26 100.4,741.96 101.02,743.08 101.65,742.61 102.28,742.64 102.9,742.15 103.53,742.27 104.15,742.12 104.78,741.97 105.4,742.33 106.03,742.5 106.65,743.16 107.28,742.87 107.91,743.07 108.53,742.92 109.16,742.98 109.78,742.33 110.41,740.98 111.03,741.45 111.66,741.57 112.29,741.32 112.91,740.39 113.54,739.98 114.16,738.67 114.79,738.93 115.41,738.39 116.04,737.33 116.66,736.17 117.29,736.78 117.92,737.09 118.54,735.39 119.17,735.59 119.79,734.75 120.52,733.01 121.25,731.84 121.98,731.57 122.71,731.07 123.44,728.78 124.17,728.12 125.05,726 125.92,725.49 126.69,727.6 127.46,730.86 128.55,733.65 129.43,730.35 130.3,728.23 131.07,726.75 131.84,725.31 132.71,730.19 133.37,738.17 133.81,755.6 134.24,766.45 135.12,767.42 135.56,755.92 136.21,737.92 137.09,732.6 137.75,730.58 138.4,729.91 139.13,729.92 139.86,728.81 140.59,728.22 141.32,728.94 142.05,729.9 142.78,730.65 143.51,729.5 144.24,728.49 144.97,728.01 145.7,728.27 146.43,728.63 147.16,729.69 147.89,728.62 148.62,728.02 149.35,728.76 150.08,729.95 150.81,731.32 151.54,731.77 152.64,735.27 153.37,735.68 154.1,734.88 154.83,735.55 155.45,735.91 156.08,735.07 156.7,735.66 157.33,735.67 157.95,736.06 158.58,735.66 159.21,736.11 159.94,736.75 160.67,735.96 161.4,735.82 162.13,739.59 162.85,743.46 163.58,745.57 164.68,748.82 165.77,745.76 166.5,744.65 167.23,743.81 167.96,742.94 168.59,742.65 169.22,742.76 169.84,742.13 170.47,741.79 171.09,742.18 171.72,740.88 172.34,741.04 172.97,741.11 173.59,740.15 174.22,739.27 174.85,739.65 175.47,738.58 176.1,737.72 176.72,737.51 177.35,737.79 177.97,736.71 178.6,736.4 179.22,736.12 179.85,736.72 180.48,736.15 181.1,736.46 181.73,735.53 182.35,735.37 182.98,735.86 183.6,736.52 184.23,736.07 184.86,735.44 185.48,734.94 186.11,735.58 186.73,735.37 187.36,736.45 187.98,737.13 188.61,736.36 189.23,736.23 189.86,737.19 190.49,737.77 191.11,738.59 191.74,738.4 192.36,738.16 192.99,738.56 193.61,739.9 194.24,739.86 194.87,740.21 195.49,740.75 196.12,741.26 196.74,741.73 197.37,743.12 197.99,742.67 198.62,742.41 199.24,744.05 199.87,744.91 200.5,745.69 201.12,745.24 201.75,746.1 202.37,746.65 203,745.81 203.62,746.49 204.25,747.15 204.87,747.32 205.5,747.3 206.13,747.04 206.75,747.15 207.38,747.17 208,746.88 208.63,747.76 209.25,747.73 209.88,748.74 210.51,747.94 211.13,749.17 211.76,749.48 212.38,749.82 213.01,749.86 213.63,749.8 214.26,749.12 214.88,747.68 215.51,748.21 216.14,747.36 216.77,747.24 217.4,747.84 218.04,747.88 218.67,747.71 219.31,748.57 219.94,748.41 220.57,747.84 221.21,747.4 221.84,748.27 222.48,748.02 223.11,748.44 223.75,747.87 224.38,747.31 225,747.02 225.63,747.06 226.26,745.61 226.88,745.69 227.51,745.65 228.13,745.11 228.76,744.56 229.38,742.5 230.01,742.27 230.64,742.27 231.26,740.49 231.89,739.69 232.51,738.97 233.14,738.77 233.76,738.32 234.39,737.95 235.01,738.08 235.64,736.51 236.27,735.59 236.89,735.02 237.52,734.5 238.14,733.75 238.77,734.69 239.39,734.63 240.02,732.91 240.64,732.48 241.27,731.62 241.9,730.87 242.52,730.57 243.15,730.79 243.77,730.64 244.4,730 245.02,729.22 245.65,728.92 246.28,728.24 246.93,728.4 247.59,728.55 248.25,727.8 248.9,726.66 249.56,726.06 250.27,725.5 250.98,725.23 251.69,725 252.41,723.75 253.17,726.49 253.94,728.63 254.67,727.9 255.4,727.24 256.13,726.95 256.86,728.46 257.59,729.25 258.32,730.69 259.08,729.89 259.85,728.83 260.51,736.76 261.6,737.18 262.33,736.27 263.06,736.45 263.79,736.54 264.42,737.4 265.04,737.93 265.67,737.19 266.29,737.76 266.92,737.85 267.55,736.95 268.17,736.86 268.8,736.04 269.42,736.8 270.05,736.83 270.67,737.17 271.3,737.09 271.93,736.75 272.55,736.62 273.18,736.1 273.8,734.91 274.43,735.08 275.05,734 275.68,733.6 276.3,734.43 276.93,733.42 277.56,733.17 278.18,733.09 278.81,734.49 279.43,733.96 280.06,733.44 280.68,734.69 281.31,734.05 281.93,735.15 282.56,735.48 283.19,736.01 283.81,736.56 284.44,736.25 285.06,736.56 285.69,735.43 286.31,736.09 286.94,735.97 287.57,736.27 288.19,735.33 288.82,736.01 289.44,736.69 290.07,735.46 290.69,735.31 291.32,735.67 291.94,736.33 292.57,735.6 293.2,735.12 293.82,735.01 294.45,735.62 295.07,736.32 295.7,736.1 296.32,736.03 296.95,736.12 297.58,736.16 298.2,736.38 298.83,735.97 299.45,736.43 300.08,737.52 300.7,737.05 301.33,737.42 301.95,736.55 302.58,737.06 303.21,737.44 303.83,737.64 304.46,737.53 305.08,737.5 305.71,737.85 306.33,738.56 306.96,737.64 307.58,737.17 308.21,738.03 308.84,738.76 309.46,738.41 310.09,738.1 310.71,738.44 311.34,737.65 311.96,737.4 312.59,737.15 313.22,737.73 313.84,737.53 314.47,737.28 315.09,737.98 315.72,738.8 316.34,738.03 316.97,738.38 317.59,738.03 318.22,738.65 318.85,738.47 319.47,737.81 320.1,737.39 320.72,736.83 321.35,737.22 321.97,737.16 322.6,736.67 323.22,736.69 323.85,736.55 324.48,737.22 325.1,736.34 325.73,737.34 326.35,736.85 326.98,736.74 327.6,736.37 328.23,736.77 328.86,736.86 329.48,736.36 330.11,736.05 330.73,736.32 331.36,736.7 331.98,736.07 332.61,736.36 333.23,736.91 333.86,736.3 334.49,735.25 335.11,734.58 335.74,734.96 336.36,734.91 336.99,735.24 337.61,735.06 338.24,733.72 338.87,733.42 339.49,733.55 340.12,733.64 340.74,734.78 341.37,735.78 341.99,736.51 342.62,735.87 343.24,736.65 343.87,736.12 344.5,736.14 345.12,736.77 345.75,736.01 346.37,735.72 347,736.99 347.62,736.72 348.25,736.79 348.87,737.3 349.5,737.8 350.13,736.93 350.75,737.16 351.38,737.54 352,737.74 352.63,737.34 353.25,737.82 353.88,738.73 354.51,738.16 355.13,738.16 355.76,737.39 356.38,737.28 357.01,737.94 357.63,737.27 358.26,738.33 358.88,738.89 359.51,737.72 360.14,738.65 360.76,738.25 361.39,738.85 362.01,739.19 362.64,738.62 363.26,739.09 363.89,739.36 364.51,739.85 365.16,739.21 365.8,739.84 366.44,740.61 367.08,740.56 367.72,740.37 368.36,739.59 369,739.96 369.65,739.97 370.29,740.72 370.93,741.1 371.57,741.17 372.19,740.49 372.82,741.02 373.45,741.29 374.07,740.64 374.7,741.63 375.32,741.73 375.95,740.86 376.56,741.9 377.16,741.04 377.77,740.97 378.38,741.67 378.99,741.83 379.6,741.87 380.21,742.08 380.81,741.87 381.42,741.54 382.03,741.16 382.64,740.81 383.25,741.82 383.86,742.43 384.46,742.39 385.07,742.75 385.68,742.28 386.29,741.9 386.9,741.96 387.55,743.16 388.21,742.43 388.87,743.07 389.52,743.09 390.18,744.2 390.84,744.17 391.49,744.28 392.15,744.63 392.81,745.22 393.47,746.09 394.09,745.45 394.72,745.94 395.34,744.79 395.97,744.42 396.59,743.85 397.22,743.51 397.84,744.46 398.5,745.03 399.16,744.39 399.81,744.13 400.47,744.47 401.13,745.28 401.79,745.87 402.44,746.1 403.1,745.99 403.76,745.19 404.41,745.29 405.04,744.61 405.66,744.71 406.29,744.68 406.92,743.85 407.54,743.36 408.17,743.92 408.79,742.69 409.42,743.69 410.04,744.37 410.67,744.85 411.29,744.11 411.92,744.07 412.55,744.13 413.17,744.29 413.83,745.13 414.49,745.12 415.14,744.5 415.8,745.29 416.46,745.09 417.11,745.29 417.77,745.71 418.43,744.7 419.08,745.66 419.74,746.04 420.4,746.05 421.05,746.22 421.71,746.31 422.37,745.98 423.02,746.53 423.68,746.02 424.34,746.72 425,747.43 425.65,747.54 426.31,747.92 426.93,749.02 427.56,749.61 428.19,748.7 428.81,749.58 429.44,749.87 430.06,749.14 430.69,749.49 431.31,749.75 431.94,749.84 432.57,750.94 433.19,752.44 433.82,752.32 434.44,753.49 435.07,753.99 435.72,753.65 436.38,755.12 437.04,755.71 437.7,756.93 438.35,757.48 439.12,759.44 439.89,760.7 440.76,752.85 441.64,735.8 442.07,729.33 442.95,729.72 443.83,731.03 444.48,730.87 445.14,730.22 445.8,729.89 446.45,729.9 447.11,730.23 447.77,729.34 448.42,729.06 449.08,728.85 449.74,728.01 450.4,726.95 451.13,726.54 451.85,725.34 452.58,724.67 453.31,726.32 454.04,727.05 454.77,727.57 455.5,729.67 456.23,730.94 456.96,731.49 458.06,738.89 458.72,738.6 459.37,738.36 460.03,737.35 460.69,736.23 461.34,735.82 461.97,736.87 462.59,736.24 463.22,736.5 463.85,736.15 464.47,736 465.1,735.85 465.72,736.2 466.35,735.8 466.97,735.26 467.6,735.06 468.22,734.99 468.85,735.46 469.48,734.84 470.1,734.38 470.73,734.84 471.35,734.92 471.98,735.41 472.6,734.41 473.23,734.46 473.86,734.4 474.48,733.62 475.21,733.91 475.94,732.16 476.67,730.51 477.4,732.75 478.13,734.22 478.86,736.69 479.49,736.83 480.11,736.66 480.74,736.59 481.36,737.94 481.99,737.95 482.61,739.04 483.24,739.16 483.87,740.06 484.49,739.45 485.12,739.13 485.74,739.08 486.37,740.12 486.99,740.38 487.62,740.08 488.28,738.09 488.93,737.49 489.59,737.05 490.25,735.5 490.9,733 491.56,732.68 492.22,732.74 492.87,733.02 493.53,733.03 494.19,733.17 494.81,734.53 495.44,735.81 496.06,735.34 496.69,736.66 497.32,736.58 497.94,737.28 498.57,738 499.19,738.55 499.82,737.35 500.44,737.4 501.07,738.12 501.69,739.25 502.32,738.43 502.95,738.54 503.57,740.07 504.2,739.82 504.82,740.51 505.45,741.06 506.07,742.27 506.7,743.64 507.33,743.28 507.95,744.74 508.58,745.93 509.2,747.18 509.83,747.76 510.45,749.19 511.08,749.37 511.7,750.02 512.37,750.37 513.03,751.94 513.69,752.61 514.35,752.98 515.02,753.4 515.68,755.01 516.34,756.02 517,757.13 517.66,757.52 518.3,757.16 518.94,756.22 519.58,756.59 520.22,755.38 520.86,756.12 521.5,757.2 522.14,757.79 522.77,757.23 523.41,757.4 524.05,758.76 524.69,759.27 525.33,760.15 525.97,760.57 526.61,760.12 527.25,760.8 527.88,760.93 528.52,760.38 529.16,760.26 529.8,759.77 530.44,760.2 531.08,761.55 531.72,760.8 532.36,761.38 532.99,760.95 533.63,760.79 534.27,761.85 534.91,761.76 535.55,761.48 536.19,761.51 536.83,762.46 537.47,762.87 538.1,762.09 538.74,762.15 539.38,763.55 540.02,762.95 540.66,763.32 541.3,763.26 541.94,763.91 542.58,763.95 543.21,764.34 543.85,764.1 544.49,763.4 545.13,763.05 545.77,762.74 546.41,763.73 547.05,762.87 547.69,762.19 548.32,763.47 548.96,762.65 549.6,763.41 550.24,762.26 550.88,762.28 551.52,761.78 552.16,762.54 552.8,762.46 553.43,762.38 554.07,762.48 554.71,762.65 555.35,761.71 555.99,761.62 556.63,761.31 557.27,760.52 557.9,761.39 558.54,761.37 559.18,761.72 559.82,760.76 560.46,760.86 561.1,760.74 561.74,761.27 562.38,760.4 563.01,760.5 563.65,760.84 564.29,760.31 564.93,760.95 565.57,760.92 566.21,760.02 566.85,759.66 567.49,759.08 568.12,757.77 568.76,757.04 569.4,757.52 570.04,756.25 570.68,755.46 571.32,754.13 571.96,753.38 572.6,752.6 573.23,753.26 573.87,752.91 574.51,753 575.15,753.08 575.79,752.29 576.43,752.31 577.07,751.45 577.71,750.65 578.34,751.04 578.98,751 579.62,751.01 580.26,750.07 580.9,750.01 581.54,749.22 582.18,749.77 582.82,749.81 583.45,748.89 584.09,749.62 584.73,748.69 585.37,748.1 586.01,748.98 586.65,748.69 587.29,748.84 587.93,749.1 588.56,748.12 589.2,748.87 589.84,748.37 590.48,748.37 591.12,748.18 591.76,748.76 592.4,749.26 593.04,748.76 593.67,748.26 594.31,748.44 594.95,748.81 595.59,748.48 596.23,748.52 596.87,749.73 597.51,750.29 598.15,751.15 598.78,751.67 599.42,751.82 600.06,751.07 600.7,750.4 601.34,750.41 601.98,750.77 602.62,751.14 603.25,751.43 603.89,751.33 604.53,752.25 605.17,751.77 605.81,751.93 606.45,752.85 607.09,753.24 607.73,752.45 608.36,751.95 609,752.71 609.64,751.66 610.28,751.36 610.92,751.92 611.56,752.21 612.2,751.69 612.84,751.54 613.47,751.91 614.11,753.27 614.75,753.56 615.39,754.79 616.03,755.21 616.67,755.93 617.31,754.76 617.95,754.6 618.58,754.37 619.22,755.17 619.86,755.56 620.5,755.39 621.14,756.36 621.78,756.19 622.42,756.66 623.06,756.84 623.69,758.04 624.33,758.06 624.97,757.9 625.61,757.54 626.25,758.17 626.89,758.95 627.53,759.54 628.17,760.34 628.8,760.65 629.44,759.89 630.08,759.41 630.72,760.38 631.36,761.02 632,760.93 632.64,761.56 633.28,761.5 633.91,761.09 634.55,760.8 635.19,760.49 635.83,761.58 636.47,762.69 637.11,763.37 637.75,763.04 638.39,763.59 639.02,764.58 639.66,765.11 640.3,765.24 640.94,765.2 641.58,765.61 642.22,765.43 642.86,765.6 643.5,767.41 644.13,769.4 644.77,770.13 645.41,770.77 646.05,771.53 646.69,772.62 647.58,775.82 648.48,778.06 649.24,767.32 650.01,743.26 650.52,732.79 651.16,733.36 651.8,733.61 652.44,734.68 653.08,735.34 653.71,736.65 654.35,737.21 654.99,736.92 655.63,738.24 656.27,738.69 656.91,738.96 657.55,738.89 658.19,739.78 658.82,740.75 659.46,739.94 660.1,740.71 660.74,740.72 661.38,741.47 662.02,742.84 662.66,743.97 663.3,744.28" fill="none" stroke="#000" stroke-width="1.5" stroke-linejoin="round"/>
<line x1="76.6" y1="734.2" x2="663.3" y2="753.8" stroke="#1a1aff" stroke-width="1.2"/>
<rect x="76.6" y="697.5" width="606.4" height="90.9" fill="none" stroke="#2a2a2a" stroke-width="1.3"/>
<line x1="112.67" y1="788.4" x2="112.67" y2="785.4" stroke="#2a2a2a" stroke-width="1.3"/>
<line x1="148.75" y1="788.4" x2="148.75" y2="783.4" stroke="#2a2a2a" stroke-width="1.3"/>
<line x1="184.82" y1="788.4" x2="184.82" y2="785.4" stroke="#2a2a2a" stroke-width="1.3"/>
<line x1="220.9" y1="788.4" x2="220.9" y2="783.4" stroke="#2a2a2a" stroke-width="1.3"/>
<line x1="256.98" y1="788.4" x2="256.98" y2="785.4" stroke="#2a2a2a" stroke-width="1.3"/>
<line x1="293.05" y1="788.4" x2="293.05" y2="783.4" stroke="#2a2a2a" stroke-width="1.3"/>
<line x1="329.12" y1="788.4" x2="329.12" y2="785.4" stroke="#2a2a2a" stroke-width="1.3"/>
<line x1="365.2" y1="788.4" x2="365.2" y2="783.4" stroke="#2a2a2a" stroke-width="1.3"/>
<line x1="401.27" y1="788.4" x2="401.27" y2="785.4" stroke="#2a2a2a" stroke-width="1.3"/>
<line x1="437.35" y1="788.4" x2="437.35" y2="783.4" stroke="#2a2a2a" stroke-width="1.3"/>
<line x1="473.43" y1="788.4" x2="473.43" y2="785.4" stroke="#2a2a2a" stroke-width="1.3"/>
<line x1="509.5" y1="788.4" x2="509.5" y2="783.4" stroke="#2a2a2a" stroke-width="1.3"/>
<line x1="545.58" y1="788.4" x2="545.58" y2="785.4" stroke="#2a2a2a" stroke-width="1.3"/>
<line x1="581.65" y1="788.4" x2="581.65" y2="783.4" stroke="#2a2a2a" stroke-width="1.3"/>
<line x1="617.73" y1="788.4" x2="617.73" y2="785.4" stroke="#2a2a2a" stroke-width="1.3"/>
<line x1="653.8" y1="788.4" x2="653.8" y2="783.4" stroke="#2a2a2a" stroke-width="1.3"/>
<line x1="76.6" y1="772.8" x2="80.2" y2="772.8" stroke="#2a2a2a" stroke-width="1.3"/>
<line x1="683" y1="772.8" x2="679.4" y2="772.8" stroke="#2a2a2a" stroke-width="1.3"/>
<line x1="76.6" y1="757.8" x2="80.2" y2="757.8" stroke="#2a2a2a" stroke-width="1.3"/>
<line x1="683" y1="757.8" x2="679.4" y2="757.8" stroke="#2a2a2a" stroke-width="1.3"/>
<line x1="76.6" y1="742.8" x2="80.2" y2="742.8" stroke="#2a2a2a" stroke-width="1.3"/>
<line x1="683" y1="742.8" x2="679.4" y2="742.8" stroke="#2a2a2a" stroke-width="1.3"/>
<line x1="76.6" y1="727.8" x2="80.2" y2="727.8" stroke="#2a2a2a" stroke-width="1.3"/>
<line x1="683" y1="727.8" x2="679.4" y2="727.8" stroke="#2a2a2a" stroke-width="1.3"/>
<line x1="76.6" y1="712.8" x2="80.2" y2="712.8" stroke="#2a2a2a" stroke-width="1.3"/>
<line x1="683" y1="712.8" x2="679.4" y2="712.8" stroke="#2a2a2a" stroke-width="1.3"/>
<text x="69.8" y="716.8" font-size="14.3" text-anchor="end" font-weight="normal" fill="#000" textLength="22.5" lengthAdjust="spacingAndGlyphs">100</text>
<text x="69.8" y="746.8" font-size="14.3" text-anchor="end" font-weight="normal" fill="#000" textLength="7.5" lengthAdjust="spacingAndGlyphs">0</text>
<text x="69.8" y="776.8" font-size="14.3" text-anchor="end" font-weight="normal" fill="#000" textLength="28" lengthAdjust="spacingAndGlyphs">-100</text>
<text x="76.6" y="805.9" font-size="14.3" text-anchor="middle" font-weight="normal" fill="#000" textLength="7.65" lengthAdjust="spacingAndGlyphs">0</text>
<text x="148.75" y="805.9" font-size="14.3" text-anchor="middle" font-weight="normal" fill="#000" textLength="22.95" lengthAdjust="spacingAndGlyphs">500</text>
<text x="220.9" y="805.9" font-size="14.3" text-anchor="middle" font-weight="normal" fill="#000" textLength="30.6" lengthAdjust="spacingAndGlyphs">1000</text>
<text x="293.05" y="805.9" font-size="14.3" text-anchor="middle" font-weight="normal" fill="#000" textLength="30.6" lengthAdjust="spacingAndGlyphs">1500</text>
<text x="365.2" y="805.9" font-size="14.3" text-anchor="middle" font-weight="normal" fill="#000" textLength="30.6" lengthAdjust="spacingAndGlyphs">2000</text>
<text x="437.35" y="805.9" font-size="14.3" text-anchor="middle" font-weight="normal" fill="#000" textLength="30.6" lengthAdjust="spacingAndGlyphs">2500</text>
<text x="509.5" y="805.9" font-size="14.3" text-anchor="middle" font-weight="normal" fill="#000" textLength="30.6" lengthAdjust="spacingAndGlyphs">3000</text>
<text x="581.65" y="805.9" font-size="14.3" text-anchor="middle" font-weight="normal" fill="#000" textLength="30.6" lengthAdjust="spacingAndGlyphs">3500</text>
<text x="653.8" y="805.9" font-size="14.3" text-anchor="middle" font-weight="normal" fill="#000" textLength="30.6" lengthAdjust="spacingAndGlyphs">4000</text>
<text x="379.3" y="825.5" font-size="14.4" text-anchor="middle" font-weight="normal" fill="#000">Frame number of the xz video</text>
<text x="31.2" y="743.2" font-size="14.2" text-anchor="middle" font-weight="normal" fill="#000" transform="rotate(-90 31.2 743.2)">Motion (pixel)</text>
<line x1="89.6" y1="707.9" x2="119.4" y2="707.9" stroke="#000" stroke-width="1.3"/>
<text x="122.5" y="711.6" font-size="12.8" text-anchor="start" font-weight="normal" fill="#000">Detected motion curve</text>
<line x1="258.7" y1="707.9" x2="288" y2="707.9" stroke="#1a1aff" stroke-width="1.3"/>
<text x="292.4" y="711.6" font-size="12.8" text-anchor="start" font-weight="normal" fill="#000">The trend of the motion curve</text>
<line x1="466.7" y1="707.9" x2="494.8" y2="707.9" stroke="#f02020" stroke-width="1.3"/>
<text x="499.1" y="711.6" font-size="12.8" text-anchor="start" font-weight="normal" fill="#000">Realigned motion curve</text>
<text x="256.8" y="773.7" font-size="11.1" text-anchor="start" font-weight="normal" fill="#ff2a2a">Step&#160;&#160;5: Get the motion curve and motion correction</text>
<text x="18.2" y="815.1" font-size="16" text-anchor="start" font-weight="bold" fill="#000">d</text>
</svg></body></html>
